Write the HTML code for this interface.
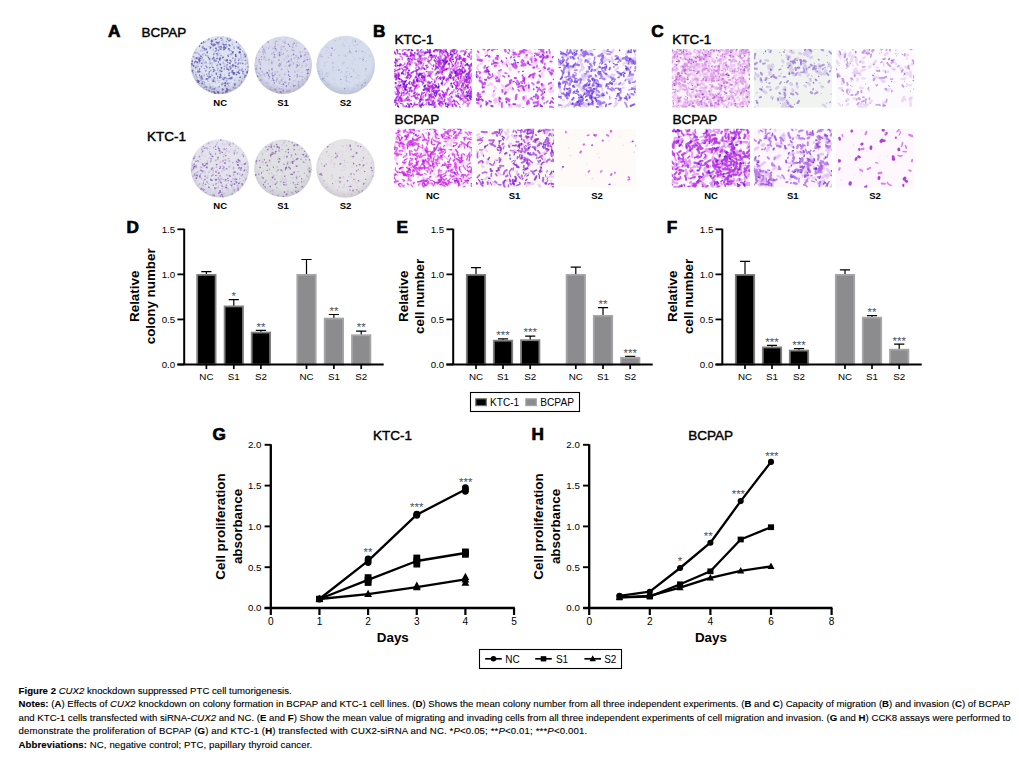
<!DOCTYPE html>
<html><head><meta charset="utf-8"><title>Figure 2</title>
<style>
html,body{margin:0;padding:0;background:#fff;}
body{width:1019px;height:760px;overflow:hidden;position:relative;font-family:"Liberation Sans",sans-serif;color:#000;}
svg{position:absolute;left:0;top:0;}
svg text{font-family:"Liberation Sans",sans-serif;}
.cap{position:absolute;left:18.6px;white-space:nowrap;font-size:9.6px;line-height:12px;color:#000;-webkit-text-stroke:0.12px #000;}
.cap b{font-weight:bold;}
</style></head><body>
<svg width="1019" height="760" viewBox="0 0 1019 760">
<text x="108.0" y="36.8" font-size="17.2" font-weight="bold" text-anchor="start" stroke="#000" stroke-width="0.7">A</text>
<text x="373.0" y="36.7" font-size="17.2" font-weight="bold" text-anchor="start" stroke="#000" stroke-width="0.7">B</text>
<text x="651.2" y="36.7" font-size="17.2" font-weight="bold" text-anchor="start" stroke="#000" stroke-width="0.7">C</text>
<text x="126.6" y="233.4" font-size="17.2" font-weight="bold" text-anchor="start" stroke="#000" stroke-width="0.7">D</text>
<text x="396.6" y="233.4" font-size="17.2" font-weight="bold" text-anchor="start" stroke="#000" stroke-width="0.7">E</text>
<text x="666.8" y="233.4" font-size="17.2" font-weight="bold" text-anchor="start" stroke="#000" stroke-width="0.7">F</text>
<text x="212.6" y="439.5" font-size="17.2" font-weight="bold" text-anchor="start" stroke="#000" stroke-width="0.7">G</text>
<text x="531.6" y="439.5" font-size="17.2" font-weight="bold" text-anchor="start" stroke="#000" stroke-width="0.7">H</text>
<text x="141.4" y="36.6" font-size="13.5" font-weight="normal" text-anchor="start" stroke="#000" stroke-width="0.42">BCPAP</text>
<text x="146.9" y="141.0" font-size="13.5" font-weight="normal" text-anchor="start" stroke="#000" stroke-width="0.42">KTC-1</text>
<text x="394.4" y="43.5" font-size="13.5" font-weight="normal" text-anchor="start" stroke="#000" stroke-width="0.42">KTC-1</text>
<text x="394.6" y="124.4" font-size="13.5" font-weight="normal" text-anchor="start" stroke="#000" stroke-width="0.42">BCPAP</text>
<text x="672.2" y="43.5" font-size="13.5" font-weight="normal" text-anchor="start" stroke="#000" stroke-width="0.42">KTC-1</text>
<text x="672.4" y="124.4" font-size="13.5" font-weight="normal" text-anchor="start" stroke="#000" stroke-width="0.42">BCPAP</text>
<text x="220.2" y="105.8" font-size="9.5" font-weight="bold" text-anchor="middle" >NC</text>
<text x="220.2" y="209.0" font-size="9.5" font-weight="bold" text-anchor="middle" >NC</text>
<text x="283.0" y="105.8" font-size="9.5" font-weight="bold" text-anchor="middle" >S1</text>
<text x="283.0" y="209.0" font-size="9.5" font-weight="bold" text-anchor="middle" >S1</text>
<text x="345.6" y="105.8" font-size="9.5" font-weight="bold" text-anchor="middle" >S2</text>
<text x="345.6" y="209.0" font-size="9.5" font-weight="bold" text-anchor="middle" >S2</text>
<text x="432.8" y="199.1" font-size="9.5" font-weight="bold" text-anchor="middle" >NC</text>
<text x="514.6" y="199.1" font-size="9.5" font-weight="bold" text-anchor="middle" >S1</text>
<text x="597.0" y="199.1" font-size="9.5" font-weight="bold" text-anchor="middle" >S2</text>
<text x="711.0" y="199.1" font-size="9.5" font-weight="bold" text-anchor="middle" >NC</text>
<text x="792.8" y="199.1" font-size="9.5" font-weight="bold" text-anchor="middle" >S1</text>
<text x="875.0" y="199.1" font-size="9.5" font-weight="bold" text-anchor="middle" >S2</text>
<defs><filter id="pb" x="-5%" y="-5%" width="110%" height="110%"><feGaussianBlur stdDeviation="0.55"/></filter></defs>
<defs><radialGradient id="pg0" cx="50%" cy="42%" r="56%"><stop offset="0.78" stop-color="#dde4ef"/><stop offset="1" stop-color="#bcc0d4"/></radialGradient><clipPath id="pc0"><circle cx="219.8" cy="65.1" r="29.2"/></clipPath></defs>
<g filter="url(#pb)"><circle cx="219.8" cy="65.1" r="29.2" fill="url(#pg0)"/><g clip-path="url(#pc0)">
<path d="M199.3 71.4l-0.0 0.0M247.3 72.5l0.2 0.1M214.8 93.3l0.4 0.2M232.9 65.1l-0.0 0.6M233.9 73.7l0.3 -0.5M206.4 79.0l-0.0 0.1M240.1 52.3l-0.6 0.2M196.2 58.1l0.3 0.2M226.8 60.4l0.3 -0.4M198.1 71.6l-0.1 0.1M238.4 47.5l-0.0 0.2M226.0 91.6l0.6 0.0M223.9 49.4l0.4 -0.2M227.3 90.3l0.5 -0.5M212.2 41.2l-0.6 0.1M214.5 60.6l-0.1 0.0M219.7 58.7l0.5 -0.5M223.5 44.5l0.5 0.3M214.3 44.2l0.5 0.5M199.0 59.2l0.2 0.4M234.8 84.7l-0.1 -0.4M218.0 92.1l-0.2 0.1M224.3 47.1l-0.5 0.4" stroke="#4a3aa8" stroke-opacity="0.7" stroke-width="2.0" stroke-linecap="round" fill="none"/>
<path d="M209.3 58.7l0.2 0.4M221.7 68.0l-0.5 -0.4M213.6 69.8l0.3 -0.3M198.9 81.5l-0.5 0.6M223.1 79.3l-0.2 -0.2M227.5 68.9l-0.3 0.1M219.8 77.6l0.5 -0.4M245.4 56.8l-0.1 -0.5M232.3 70.8l0.4 0.1M231.5 77.8l0.6 0.2M232.6 51.7l0.4 0.1M207.2 52.6l0.1 -0.5M201.5 43.1l0.3 -0.1M219.8 60.1l-0.0 -0.3M213.3 45.9l0.5 -0.3M235.5 66.2l-0.4 -0.4M232.8 52.9l-0.2 -0.4M193.5 65.7l0.3 0.5M243.1 71.3l-0.2 0.3M203.9 48.2l0.6 0.2M197.5 62.2l-0.1 0.4M226.6 88.5l0.2 0.3M236.3 74.6l0.3 -0.0M215.5 39.2l0.5 -0.0M216.8 42.4l0.4 0.1M213.1 81.5l0.5 -0.4M236.5 42.3l0.1 -0.4M200.0 60.5l-0.6 0.6M201.7 63.3l0.1 -0.0M217.1 58.2l-0.1 0.5M224.5 77.9l-0.2 -0.2M213.0 58.7l-0.5 0.0M219.8 77.9l-0.1 -0.1M206.3 49.1l0.1 0.4M222.5 89.7l0.5 -0.2M229.2 75.6l-0.3 -0.5M229.0 48.9l-0.4 -0.1M229.4 63.2l0.3 0.0M200.3 58.5l-0.4 -0.4M239.9 49.1l0.4 0.2M201.5 77.6l0.6 0.4M218.4 92.5l0.3 0.4M197.3 80.3l0.2 0.3M221.5 46.9l-0.5 -0.2M222.9 92.8l-0.2 0.2M191.6 63.7l0.6 0.2M222.7 57.7l0.3 -0.5M230.7 68.1l-0.1 0.5M192.3 61.0l-0.0 0.6M221.7 71.4l-0.5 -0.1M220.5 74.8l0.3 0.1M210.3 76.7l0.1 0.1M240.0 77.3l0.2 -0.2M228.7 69.6l0.1 0.3M227.1 69.0l-0.0 0.2M233.6 72.9l0.2 -0.3M230.5 78.5l-0.2 -0.5M226.0 44.9l0.1 -0.4M239.3 73.4l-0.5 -0.5M210.4 47.3l0.3 0.2M235.6 55.7l0.2 0.4M228.8 40.5l0.5 0.2M195.9 61.5l-0.1 -0.1M216.3 74.2l0.3 -0.4M237.8 72.5l0.5 -0.6M220.6 49.1l0.4 -0.0M225.5 48.2l0.0 -0.3M202.1 83.6l0.1 -0.4M219.9 64.0l0.4 0.4M232.8 72.5l-0.5 -0.0M192.3 70.6l0.4 -0.2M225.3 85.5l-0.4 0.4M216.1 48.3l-0.5 -0.1" stroke="#4a3aa8" stroke-opacity="0.7" stroke-width="1.6" stroke-linecap="round" fill="none"/>
<path d="M232.9 73.9l0.4 0.2M220.0 74.2l0.4 -0.4M239.0 62.9l-0.6 0.4M220.7 75.8l0.2 -0.1M245.2 69.7l0.4 -0.4M214.9 53.6l-0.5 -0.6M243.0 51.5l-0.5 -0.3M212.2 89.2l-0.3 0.2M217.6 38.0l0.2 -0.4M213.8 79.9l-0.2 -0.0" stroke="#4a3aa8" stroke-opacity="0.7" stroke-width="0.8" stroke-linecap="round" fill="none"/>
<path d="M220.1 70.1l-0.1 0.4M197.0 62.3l0.2 -0.1M214.3 77.7l-0.5 0.3M198.4 80.6l0.5 0.4M201.9 58.1l0.3 -0.4M213.7 57.4l-0.3 -0.3M245.1 60.4l0.5 -0.3M228.0 56.0l0.5 0.4M247.1 71.9l0.2 -0.3M229.7 45.3l-0.4 0.3M214.6 92.1l-0.6 -0.3M213.1 67.5l-0.2 0.1M211.9 44.6l-0.6 -0.6M195.4 67.8l0.6 -0.5M227.2 38.7l0.2 0.5M217.7 43.3l0.4 -0.5M239.1 52.1l0.5 -0.2M213.4 54.1l0.4 0.5M217.8 76.7l-0.3 -0.3M200.3 76.8l-0.2 0.4M230.3 66.4l-0.6 0.4M226.0 83.9l-0.6 -0.0M217.1 53.3l-0.2 0.2M206.8 87.0l-0.4 0.0M227.8 62.5l0.0 -0.3M233.0 58.2l-0.4 -0.1M230.7 40.2l-0.2 -0.4M199.4 46.5l0.3 -0.6M201.9 75.9l-0.4 0.2M208.9 90.4l0.6 0.5M218.3 61.6l0.2 0.5M245.7 75.7l0.3 -0.2M199.6 69.3l0.1 -0.6M211.8 40.0l-0.1 0.3M209.3 72.2l0.0 -0.6M216.9 65.7l0.2 0.1M200.8 56.2l0.6 0.2M218.8 50.6l-0.5 -0.4M213.4 71.4l0.5 0.1M230.2 60.2l-0.4 -0.0M205.6 55.1l0.2 0.1M214.7 88.9l-0.6 -0.3M235.4 54.6l0.6 -0.3M228.9 44.7l0.1 -0.1M210.2 48.3l0.1 -0.1M203.1 46.6l-0.3 0.6M199.6 75.4l0.0 -0.5M206.7 66.9l0.3 0.4M224.1 83.3l0.4 -0.2M203.6 41.6l0.1 0.3M236.3 56.1l-0.5 0.5M196.0 74.9l-0.2 -0.1M244.7 54.3l-0.2 -0.2M208.0 78.8l-0.4 0.1M221.3 38.2l-0.6 0.0M219.2 42.0l-0.3 0.3M194.9 61.7l-0.2 0.6M225.1 83.0l0.6 -0.5M229.4 72.9l-0.3 0.3M208.6 57.5l-0.3 -0.4M239.0 59.8l-0.5 0.5M243.0 63.7l-0.6 -0.0M228.8 78.7l0.4 0.0M201.2 43.4l0.0 -0.4" stroke="#4a3aa8" stroke-opacity="0.7" stroke-width="1.2" stroke-linecap="round" fill="none"/>
<path d="M192.4 71.8l0.2 -0.6M248.3 67.0l-0.4 0.1M237.9 66.9l0.6 0.3M240.3 63.4l0.4 -0.4M210.0 67.4l-0.4 0.5M216.3 60.8l-0.4 0.6M242.8 73.3l0.3 0.1M244.7 76.5l0.2 0.4M227.2 60.0l-0.5 0.0M244.9 75.5l-0.1 -0.2M192.1 65.4l-0.0 -0.4M212.1 91.6l-0.4 0.4M217.4 54.8l0.5 -0.1M230.4 90.1l-0.6 -0.0M219.9 47.3l-0.0 -0.4M199.5 63.0l0.2 0.0M231.2 61.5l-0.4 0.1M221.6 84.1l0.3 0.3M241.4 70.0l0.1 0.4M206.1 70.4l-0.5 0.5M200.6 56.2l-0.3 -0.4M219.5 76.6l0.4 0.3M239.2 70.4l0.6 -0.4M247.8 71.2l0.3 -0.3M208.9 77.7l0.1 -0.6M234.3 48.5l-0.0 -0.1M229.6 50.3l-0.3 -0.2M198.2 82.3l-0.3 -0.2M231.9 54.1l0.0 -0.5M215.9 51.0l0.2 -0.4M224.1 79.7l-0.1 -0.1M235.3 62.7l0.5 -0.3M211.1 43.4l0.4 -0.3M213.4 44.7l-0.6 -0.1M195.1 52.3l0.2 0.1M213.6 81.2l-0.4 -0.4M204.5 50.0l0.6 -0.2M208.9 39.1l-0.4 0.1M233.7 87.9l-0.5 -0.3M230.1 63.2l-0.1 0.2M197.7 81.9l-0.5 0.3M208.6 76.5l0.4 -0.3M202.3 79.3l0.6 -0.1M212.5 45.2l-0.4 -0.4M226.7 67.4l-0.2 -0.5M228.0 83.3l-0.4 0.4M201.4 66.9l-0.1 -0.5M215.8 51.3l-0.6 0.1M218.9 43.9l-0.4 -0.5M231.7 54.0l-0.5 0.6M226.4 78.6l0.5 -0.2M226.8 80.8l-0.4 0.2M210.3 87.8l-0.1 0.4M203.4 42.7l0.4 0.0M227.1 64.8l0.3 -0.3M205.7 65.9l0.4 0.3M193.8 56.8l-0.4 -0.2M226.1 60.6l-0.4 0.2M211.9 75.0l0.2 0.3M235.6 59.0l-0.3 0.1M234.7 60.7l0.2 -0.3M210.9 70.6l-0.3 -0.1M205.7 86.9l0.1 0.1M237.8 64.3l0.2 0.2M210.4 63.1l-0.2 0.0" stroke="#6a5cc0" stroke-opacity="0.5" stroke-width="1.6" stroke-linecap="round" fill="none"/>
<path d="M202.5 82.0l0.1 -0.1M215.4 82.1l-0.2 -0.2M201.5 79.8l-0.4 0.3M206.5 89.6l0.3 -0.2M216.6 53.3l0.4 0.1M244.5 77.2l0.0 0.2M222.6 39.2l-0.2 -0.1M214.3 57.5l0.0 0.3M203.5 60.0l-0.4 0.3M198.6 54.0l0.5 -0.2M199.1 59.3l-0.3 0.5M245.7 63.8l-0.5 0.4M213.3 91.5l0.1 0.4M247.5 62.8l-0.2 0.2M218.4 47.4l0.4 -0.6M229.3 83.5l0.1 -0.2M203.9 53.5l0.1 0.2M221.1 40.2l0.6 0.4M231.1 50.6l0.1 0.5M199.3 61.7l0.5 -0.2M220.0 49.3l-0.5 -0.5M200.6 71.8l-0.5 0.2M206.0 62.8l-0.1 -0.3M220.5 64.9l-0.2 -0.2M239.0 80.2l0.5 0.4M231.7 71.6l0.3 -0.4M225.6 77.7l0.3 -0.2M205.6 42.1l-0.3 -0.2M240.8 54.7l0.2 -0.5M238.7 63.1l0.0 -0.5M207.4 56.1l0.4 -0.5M214.3 89.4l-0.3 0.1M198.2 57.2l0.2 0.3M217.6 70.6l0.1 0.0M236.9 72.0l-0.3 0.6M231.1 79.1l-0.1 -0.5M219.4 86.4l-0.0 0.5M204.2 68.3l0.6 0.2M228.2 55.2l-0.5 0.2M235.6 87.9l0.3 0.3M223.2 62.8l-0.1 -0.5M235.5 68.3l0.1 -0.4M228.9 54.9l-0.2 -0.3M224.1 66.2l0.1 0.4M214.0 58.7l-0.1 -0.5M207.6 76.1l-0.3 -0.4M233.8 74.4l-0.4 0.1M215.1 70.5l-0.5 -0.0M202.9 55.0l-0.3 -0.6M204.3 87.3l-0.3 0.2M227.5 83.2l0.5 -0.2M204.1 74.9l0.4 0.5M223.0 88.6l-0.6 0.1M208.8 73.8l0.2 0.1M204.4 87.3l0.3 0.2M198.3 66.4l-0.3 0.3M206.1 62.1l-0.2 -0.4M217.1 55.8l0.3 -0.0M194.2 63.9l0.3 -0.3M216.3 49.1l0.3 0.4M230.0 46.1l0.2 0.1M224.1 69.1l0.3 0.6M241.5 82.4l-0.0 -0.5M218.0 68.7l-0.4 0.2M217.7 78.6l-0.2 -0.3M197.7 57.8l-0.3 0.5M238.7 43.6l0.4 0.3M204.0 84.4l0.0 -0.6M226.3 41.4l0.4 0.4M222.4 82.8l0.2 0.4M204.7 82.3l-0.3 0.5M216.0 73.0l0.3 -0.3M230.4 78.4l-0.6 0.0M206.4 74.4l0.5 -0.4M233.9 47.2l0.1 -0.5M232.3 44.8l0.2 -0.1M209.5 74.2l0.1 0.0M242.1 69.7l0.1 0.1M230.0 60.4l0.6 0.3M239.8 85.5l-0.3 0.4M226.6 47.0l0.4 -0.4M224.2 68.3l0.4 0.4M228.9 73.3l0.4 0.1M236.4 66.7l0.2 -0.3M209.6 77.4l-0.4 0.2M196.7 76.9l-0.1 0.0M214.0 91.3l0.4 0.2M193.2 72.8l0.3 0.1M212.9 67.4l-0.3 -0.1M215.8 42.0l0.5 0.5M242.4 68.4l-0.2 -0.0M210.3 86.6l0.6 0.6M227.2 65.0l-0.1 0.2M202.1 47.8l0.4 0.3M221.4 55.3l-0.6 0.4M212.9 89.4l-0.1 -0.5" stroke="#6a5cc0" stroke-opacity="0.5" stroke-width="1.2" stroke-linecap="round" fill="none"/>
<path d="M223.8 57.4l-0.5 0.2M231.3 72.4l-0.5 -0.1M207.8 46.2l-0.2 -0.2M230.0 45.1l0.3 0.5M241.2 57.4l-0.5 -0.3M228.2 84.6l-0.6 -0.4M225.9 83.8l-0.1 0.1M197.1 77.3l0.3 0.1M214.5 62.0l0.5 -0.2M207.8 80.8l0.5 0.6M226.6 86.9l0.5 -0.5M221.6 85.1l0.1 -0.0M224.6 75.2l-0.0 -0.1M217.8 87.0l0.4 -0.4M196.0 72.0l-0.3 0.5M200.8 78.3l-0.2 0.2M228.4 84.6l-0.4 -0.3M210.0 76.5l-0.4 -0.3M208.8 73.8l-0.4 0.1M203.6 76.5l0.2 -0.3M199.6 83.6l-0.4 0.0M209.7 64.2l-0.5 -0.5M232.3 42.7l-0.1 0.2M221.3 77.3l0.1 0.5M231.8 76.4l0.1 -0.0M221.9 69.3l-0.5 -0.5M226.8 92.3l0.0 0.4M223.0 36.8l0.5 -0.1M194.3 77.1l-0.1 0.2M203.2 81.1l0.1 0.5M215.5 87.7l0.1 0.3M237.3 48.0l0.2 -0.1M200.7 50.7l-0.4 0.2M209.7 67.3l0.5 0.1M241.8 81.0l-0.2 -0.2M225.5 93.1l-0.2 -0.4M200.3 80.3l-0.4 0.2M245.3 55.8l-0.2 0.0M235.1 80.4l-0.5 0.0" stroke="#6a5cc0" stroke-opacity="0.5" stroke-width="0.8" stroke-linecap="round" fill="none"/>
<path d="M223.7 84.0l-0.0 0.4M231.0 65.9l0.3 0.3M212.7 86.4l-0.2 -0.0M212.2 79.4l0.3 0.2M217.9 64.1l-0.1 0.2M219.2 53.4l-0.4 -0.2M228.5 79.6l0.0 -0.1M236.1 63.1l-0.3 -0.3M212.9 44.6l-0.2 -0.4M243.7 57.5l-0.5 0.3M222.3 77.7l0.1 -0.5M201.4 86.2l-0.3 0.4M217.7 44.2l0.5 0.3M241.2 82.9l-0.5 0.5M224.7 60.0l-0.5 -0.6M194.1 52.8l0.4 0.3M211.9 64.0l-0.4 0.0M224.9 65.9l0.2 0.0M197.9 53.1l-0.6 -0.5M217.8 68.0l-0.3 0.1M203.4 62.4l-0.1 -0.3M214.6 80.7l0.2 0.3M212.0 63.1l-0.3 -0.3M218.7 45.3l-0.6 -0.0M208.0 40.8l0.5 -0.1M234.7 79.6l0.1 0.3M233.2 66.8l-0.0 0.2M213.3 49.5l-0.0 0.5M219.0 92.4l-0.1 0.1M213.6 40.0l-0.4 0.4M205.7 86.4l0.5 0.5M215.3 59.4l-0.5 0.6M236.8 46.5l0.4 0.1M231.2 66.8l-0.3 0.2M223.6 41.5l-0.2 -0.3M228.7 86.4l0.5 -0.2" stroke="#9a94d0" stroke-opacity="0.35" stroke-width="2.0" stroke-linecap="round" fill="none"/>
<path d="M240.8 81.2l0.6 0.0M231.4 82.5l-0.5 -0.2M232.7 72.0l0.5 -0.2M202.3 73.3l0.4 -0.5M195.0 62.6l-0.5 -0.3M214.5 88.2l0.6 0.4M243.3 73.9l0.1 0.1M240.4 55.0l0.5 0.3M247.1 62.3l0.3 -0.1M209.3 87.4l-0.5 0.4M209.1 46.7l-0.5 -0.2M194.2 59.2l0.4 -0.0M237.1 78.0l0.6 -0.2M224.8 63.8l0.4 0.5M228.7 57.0l-0.3 -0.0M237.6 64.0l0.3 0.3M226.5 80.6l-0.2 -0.4M192.3 60.4l-0.3 -0.5M246.4 55.3l0.3 -0.1M207.8 67.8l-0.2 -0.6M202.2 63.5l-0.0 -0.3M242.4 63.0l0.3 -0.5" stroke="#9a94d0" stroke-opacity="0.35" stroke-width="1.2" stroke-linecap="round" fill="none"/>
<path d="M201.1 77.6l0.6 -0.1M242.3 60.2l-0.5 -0.1M196.6 66.7l0.5 0.1M240.4 59.0l-0.3 -0.1M221.8 43.3l0.5 0.2M234.0 87.6l0.1 0.1M219.4 71.8l-0.2 0.3M246.1 54.5l0.5 0.4M202.7 50.5l-0.5 0.0M227.6 37.8l-0.1 -0.2M205.5 63.0l-0.4 -0.3M214.4 70.1l-0.4 -0.4M240.1 45.6l-0.2 0.5M235.1 84.0l-0.4 -0.4M210.7 88.4l0.0 -0.4M198.2 70.7l-0.0 -0.4M212.8 80.7l0.1 -0.1M244.2 54.7l-0.4 0.0M209.9 59.4l-0.3 -0.5M197.0 67.7l-0.3 -0.1M229.2 38.3l0.2 0.4M215.1 78.5l-0.6 0.0" stroke="#9a94d0" stroke-opacity="0.35" stroke-width="2.4" stroke-linecap="round" fill="none"/>
<path d="M192.5 64.9l-0.2 0.3M218.9 82.5l-0.0 -0.2M198.9 61.4l-0.3 -0.5M208.6 76.7l-0.3 0.3M217.1 65.3l0.6 -0.6M196.4 49.5l0.1 -0.2M216.6 90.5l0.4 -0.1M220.0 47.5l-0.1 -0.5M238.3 68.8l0.2 0.5M196.0 66.1l0.3 -0.5M196.3 53.2l0.1 -0.0M217.1 43.5l-0.5 0.4M202.3 82.0l0.1 0.1M246.9 60.9l-0.0 -0.3M220.0 55.9l0.4 -0.6M217.7 50.5l-0.6 0.0M219.5 80.6l-0.4 -0.0M217.6 80.3l0.0 0.4M221.8 84.3l0.3 0.5M198.2 64.3l-0.3 0.5M207.5 81.2l0.2 -0.1M211.8 65.8l0.1 0.6M210.0 61.1l-0.2 0.2M223.5 63.5l0.1 0.2M223.3 48.9l0.2 -0.3M195.3 79.7l-0.2 0.5M206.4 86.8l-0.3 0.1M212.9 72.3l0.5 -0.5M209.3 84.0l0.4 0.6M230.8 68.8l0.3 -0.3M218.3 87.6l-0.0 0.1M200.9 60.2l0.5 -0.3M235.1 63.6l0.3 -0.3M199.4 54.8l-0.5 -0.0M241.9 78.1l0.4 0.4M238.7 58.4l-0.3 0.4M203.0 64.8l-0.3 0.4M230.8 53.5l0.2 0.3M241.3 57.1l-0.1 -0.2M244.4 53.0l0.5 0.1" stroke="#9a94d0" stroke-opacity="0.35" stroke-width="1.6" stroke-linecap="round" fill="none"/>
</g></g>
<defs><radialGradient id="pg1" cx="50%" cy="42%" r="56%"><stop offset="0.78" stop-color="#d9dbeb"/><stop offset="1" stop-color="#bebed3"/></radialGradient><clipPath id="pc1"><circle cx="283.2" cy="65.1" r="28.8"/></clipPath></defs>
<g filter="url(#pb)"><circle cx="283.2" cy="65.1" r="28.8" fill="url(#pg1)"/><g clip-path="url(#pc1)">
<path d="M260.5 68.8l-0.4 -0.6M268.3 75.8l-0.0 -0.1M272.6 78.5l0.2 -0.5M284.8 82.1l0.4 0.0M308.5 69.6l0.0 -0.3M279.0 60.2l-0.3 -0.3M255.8 69.2l0.5 -0.4M288.9 65.4l0.6 0.6M278.8 65.0l0.3 0.4M274.5 54.7l-0.0 0.2M279.5 52.5l-0.3 0.2M257.5 76.2l0.1 0.5M307.2 59.3l0.1 0.5M288.5 44.2l-0.2 0.3M279.8 63.7l0.5 0.4M304.8 48.9l0.3 -0.1M296.9 74.8l0.5 0.2M272.2 73.8l-0.2 0.2M288.6 71.7l0.2 0.3M268.5 42.1l-0.6 -0.0M272.0 69.3l-0.2 -0.3M279.5 54.3l0.1 0.4M259.2 59.3l0.2 0.2M303.9 61.5l-0.2 0.3M274.4 83.1l-0.2 -0.4M286.4 85.7l-0.5 0.4M277.1 91.8l-0.1 0.4M263.7 49.3l0.1 -0.3M268.7 74.7l-0.1 0.4M289.4 76.3l0.6 0.0M288.6 75.2l-0.2 -0.4M275.0 46.1l0.0 0.2M289.5 46.0l-0.0 0.2M269.3 76.9l0.3 -0.3M275.6 48.3l0.1 0.3" stroke="#5c48b4" stroke-opacity="0.65" stroke-width="1.2" stroke-linecap="round" fill="none"/>
<path d="M272.7 75.6l0.2 0.1M288.9 61.3l-0.5 0.2M273.8 80.5l-0.6 -0.5M306.9 69.7l0.6 0.2M267.4 72.9l-0.5 0.1M297.8 65.7l-0.2 -0.3M281.0 92.5l-0.4 -0.3M293.6 54.4l0.0 0.2M279.7 55.5l-0.1 -0.3M283.2 84.3l0.4 -0.3M307.6 73.5l0.4 -0.2M289.6 79.6l0.1 -0.5M300.9 56.1l0.2 0.5" stroke="#5c48b4" stroke-opacity="0.65" stroke-width="1.6" stroke-linecap="round" fill="none"/>
<path d="M261.7 56.9l-0.1 -0.4M300.6 54.8l0.6 0.5M297.2 77.1l-0.2 0.1M295.4 85.3l-0.4 0.4M293.5 86.3l-0.3 -0.2M298.4 57.3l0.3 0.5M261.6 59.3l0.0 0.2M270.3 89.4l-0.2 -0.3M288.8 82.8l0.5 0.0M296.0 55.5l0.2 0.4M281.7 49.5l0.4 0.4M289.6 90.9l-0.2 -0.6" stroke="#5c48b4" stroke-opacity="0.65" stroke-width="0.8" stroke-linecap="round" fill="none"/>
<path d="M288.6 56.5l-0.5 -0.5M285.6 66.0l-0.5 0.2M281.7 62.3l-0.0 0.3M302.9 63.8l0.1 0.0M260.5 62.9l0.2 -0.5M277.9 41.2l0.0 0.3M309.5 59.6l0.4 -0.1M294.8 75.6l-0.5 0.4M273.3 76.6l-0.5 -0.5M283.8 46.5l-0.6 0.1M303.2 84.3l-0.4 -0.1M296.7 56.7l0.6 0.5M272.7 48.5l-0.3 -0.5M272.7 68.7l-0.1 -0.4M267.0 72.2l0.6 0.5M269.8 46.6l0.0 -0.4M273.4 84.5l-0.3 0.3M256.6 67.7l-0.5 0.5M256.2 65.9l-0.3 0.1M308.1 71.7l-0.4 -0.1M291.1 55.9l0.5 -0.6M293.9 62.4l-0.3 0.5M281.2 89.1l0.2 -0.4M281.4 65.4l-0.6 -0.3M288.0 70.6l0.1 0.6M305.1 60.6l-0.5 0.3M271.5 80.8l-0.4 -0.0M272.2 70.5l-0.1 -0.5M301.2 72.5l0.3 0.3M275.6 38.6l-0.1 -0.1M306.8 76.6l0.6 0.2M259.4 61.2l-0.4 -0.4M308.2 52.3l0.5 -0.5M272.8 62.3l0.5 -0.5M261.3 56.8l-0.3 0.5M281.2 84.7l0.5 -0.2M279.4 75.3l0.6 0.5M291.9 38.5l-0.1 -0.2M285.1 41.9l-0.2 -0.4M298.1 83.3l0.3 0.3M285.7 43.6l0.4 -0.5M290.4 86.2l0.1 0.3M260.8 64.4l-0.1 0.3M297.1 61.8l0.4 -0.1M263.1 75.5l-0.3 -0.3" stroke="#8474c8" stroke-opacity="0.45" stroke-width="0.8" stroke-linecap="round" fill="none"/>
<path d="M262.4 46.6l0.3 0.5M296.5 67.5l-0.0 -0.4M302.0 76.6l0.6 0.3M283.2 90.6l0.2 -0.4M269.3 70.8l-0.3 -0.4M281.7 69.3l0.3 -0.1M286.8 91.1l0.5 0.0M275.0 74.2l0.3 0.1M274.2 56.9l0.4 0.2M286.8 62.5l0.0 0.1M271.5 62.7l0.4 0.6M275.8 41.7l0.3 -0.3M293.0 43.9l0.3 -0.1M299.5 76.0l0.5 0.0M274.3 47.9l0.2 0.6M271.7 53.7l0.2 0.0M279.4 92.4l0.2 -0.1M276.1 89.3l-0.6 -0.2M263.0 51.4l-0.1 0.6M260.3 80.4l0.6 -0.5M279.7 88.5l-0.3 0.3M304.5 55.5l0.5 -0.1M304.8 54.6l0.4 0.3M284.6 74.3l0.2 0.3M290.1 64.4l0.6 0.3M276.4 49.9l-0.0 0.2M307.1 79.5l0.0 0.2M274.2 57.2l-0.2 0.1M293.4 50.5l0.4 -0.1M294.0 85.8l0.1 0.5M281.8 80.3l-0.3 -0.4M299.1 86.4l-0.4 0.3M274.5 89.2l-0.1 0.3M298.7 81.8l-0.2 -0.4M264.4 74.0l-0.4 -0.0M268.7 59.5l0.4 0.3" stroke="#8474c8" stroke-opacity="0.45" stroke-width="1.6" stroke-linecap="round" fill="none"/>
<path d="M284.0 46.7l-0.2 -0.3M298.8 58.2l0.5 0.1M294.5 43.2l-0.1 0.4M274.4 75.5l0.1 -0.4M256.5 58.1l-0.3 -0.1M302.6 79.7l-0.4 0.1M265.5 52.9l-0.2 -0.2M299.5 64.9l-0.0 -0.4M272.8 72.6l-0.2 -0.2M297.5 59.2l0.2 -0.1M268.6 47.9l-0.0 0.6M256.7 72.2l-0.0 -0.2M260.2 64.9l0.3 -0.2M277.5 78.3l-0.5 -0.5M268.8 78.7l0.5 -0.4M286.9 51.1l0.5 -0.5M279.4 66.7l-0.2 -0.1M307.2 77.8l0.1 0.4M299.9 52.4l0.4 -0.2M296.4 64.3l0.4 0.3M258.5 61.3l0.4 0.2M293.7 63.5l-0.4 0.6M286.2 82.8l-0.3 0.1M277.8 71.9l-0.1 -0.2M264.2 56.7l0.6 0.5M275.2 90.3l0.5 -0.5M271.9 90.0l0.2 -0.4M296.4 45.9l-0.4 -0.0M264.9 50.2l-0.4 0.6M283.6 91.3l-0.5 -0.4M282.2 54.5l-0.4 -0.1M306.0 52.8l-0.5 -0.4M275.6 43.5l-0.5 0.5M293.6 80.9l0.3 0.4M277.3 79.4l-0.5 0.4M276.1 81.4l0.3 -0.4M302.4 65.8l-0.2 -0.2M297.5 76.7l-0.5 -0.4M298.8 84.9l-0.5 -0.3M263.2 54.1l0.4 0.1M266.0 59.8l0.1 0.5M285.5 49.0l-0.3 -0.0M274.7 57.1l0.5 -0.1M286.8 86.7l-0.1 -0.4M307.0 57.2l0.3 0.1M261.8 71.7l0.2 0.2M305.8 65.9l0.4 0.0M291.3 59.3l0.1 -0.6M259.3 73.4l-0.4 -0.5M291.9 62.2l0.2 -0.3M288.4 84.2l0.3 0.4M285.1 42.8l-0.5 0.1M260.7 75.1l-0.5 -0.1M292.9 47.7l-0.5 -0.3M297.1 65.2l0.1 0.4M262.5 72.4l0.2 -0.5M283.5 53.3l0.1 0.4M292.0 49.6l0.3 0.6M258.9 51.7l-0.0 0.2M273.4 52.3l0.5 0.3M266.1 82.6l0.4 0.3M264.8 76.1l-0.0 -0.2M300.7 51.5l0.0 -0.0M293.6 85.3l-0.2 0.0M305.0 60.7l-0.5 0.1M288.4 91.4l-0.3 -0.1M294.7 72.1l0.5 -0.1M279.6 83.6l-0.3 -0.5M264.4 51.9l-0.4 0.4" stroke="#8474c8" stroke-opacity="0.45" stroke-width="1.2" stroke-linecap="round" fill="none"/>
<path d="M261.8 79.3l0.3 0.5M307.1 53.9l0.5 0.4M264.1 74.7l-0.2 0.0M293.2 45.8l-0.6 0.1M271.6 87.0l-0.4 0.6M301.2 67.6l0.1 0.2M290.4 60.1l-0.3 0.1M261.3 70.1l0.0 -0.1M260.6 75.8l-0.6 0.1M274.9 50.3l0.3 0.5M277.2 87.3l-0.2 -0.2M299.0 63.0l-0.2 -0.5M256.6 69.1l-0.4 -0.6M298.0 70.3l-0.3 0.3M260.1 63.0l-0.4 -0.4M295.7 80.2l-0.4 0.1M302.9 81.2l0.1 0.1M267.9 86.0l0.4 0.3M279.4 75.2l-0.1 0.3M284.0 42.4l0.5 0.0M290.6 66.2l-0.2 0.3M280.3 81.6l-0.5 0.2M277.7 45.5l0.5 -0.2M283.5 41.0l-0.5 0.2M293.9 42.5l0.3 -0.4M279.6 52.7l0.4 -0.3M288.6 55.8l-0.6 -0.3M294.5 70.6l0.4 0.4M279.7 39.0l-0.5 0.4M277.4 80.4l-0.5 -0.4" stroke="#b0a8d8" stroke-opacity="0.3" stroke-width="2.0" stroke-linecap="round" fill="none"/>
<path d="M301.1 82.1l-0.1 -0.2M259.9 62.9l0.2 -0.5M281.1 47.7l0.0 0.4M272.3 61.1l-0.1 -0.0M297.1 43.3l0.3 0.0M264.5 58.2l-0.5 -0.2M291.2 59.1l-0.1 0.4M286.5 57.0l0.1 0.3M284.5 59.8l-0.5 -0.0M282.8 78.7l-0.3 -0.5M291.9 83.4l-0.4 -0.1M282.4 89.3l-0.3 -0.1M280.4 53.2l0.6 -0.2M276.0 72.3l-0.3 -0.0M279.8 82.1l-0.3 0.1M268.8 73.8l-0.2 -0.4M278.5 55.0l0.5 0.6M295.2 57.8l-0.1 0.2M268.2 82.9l0.2 -0.2" stroke="#b0a8d8" stroke-opacity="0.3" stroke-width="2.4" stroke-linecap="round" fill="none"/>
<path d="M309.5 70.4l-0.6 -0.5M279.4 66.2l0.5 0.0M265.3 46.9l0.5 0.6M304.8 49.0l-0.2 0.5M302.4 72.5l0.1 -0.4M305.2 78.7l-0.2 -0.3M282.1 82.2l0.4 -0.5M294.4 57.9l-0.5 0.3M269.0 63.8l-0.0 0.3M307.9 53.7l0.0 0.4M256.9 65.7l-0.3 -0.1M306.8 64.8l0.2 -0.5M270.3 87.2l0.1 0.4M304.5 58.6l-0.4 0.4M297.9 82.2l-0.2 0.4M282.2 46.2l0.0 0.2M308.8 59.3l-0.2 0.5M287.6 69.6l-0.1 -0.4M277.6 53.0l0.3 0.2M279.9 74.0l0.1 0.2M283.0 54.1l0.4 0.0M281.9 45.9l-0.6 0.4M303.0 51.6l0.2 0.2M298.1 71.8l0.3 0.1M273.7 53.6l-0.5 -0.3M306.3 64.1l0.2 0.5M274.3 56.9l0.3 -0.1M280.6 50.6l-0.1 -0.2M286.4 37.2l0.5 -0.1M271.2 60.8l-0.1 0.1M282.4 86.1l-0.3 0.2M280.9 70.0l-0.1 0.1" stroke="#b0a8d8" stroke-opacity="0.3" stroke-width="1.6" stroke-linecap="round" fill="none"/>
<path d="M273.2 42.4l0.6 -0.6M273.9 86.2l-0.2 0.2M296.1 43.4l-0.1 0.6M293.8 84.4l-0.5 -0.1M276.1 80.0l-0.4 0.1M275.2 71.4l-0.2 0.1M284.7 42.1l-0.4 0.6M263.8 59.3l0.3 0.4M277.7 78.8l-0.2 0.0M280.7 66.0l-0.3 0.4M285.2 39.9l0.4 -0.3M271.1 72.9l0.6 0.3M287.3 66.3l-0.2 0.5M265.8 55.9l0.1 -0.4M290.9 46.1l-0.5 -0.5M280.8 63.8l0.1 -0.6M307.4 76.2l0.5 -0.6M295.3 40.8l-0.5 -0.2M284.5 72.1l0.4 0.4" stroke="#b0a8d8" stroke-opacity="0.3" stroke-width="1.2" stroke-linecap="round" fill="none"/>
</g></g>
<defs><radialGradient id="pg2" cx="50%" cy="42%" r="56%"><stop offset="0.78" stop-color="#d5dcec"/><stop offset="1" stop-color="#bfc5da"/></radialGradient><clipPath id="pc2"><circle cx="345.7" cy="65.1" r="29.3"/></clipPath></defs>
<g filter="url(#pb)"><circle cx="345.7" cy="65.1" r="29.3" fill="url(#pg2)"/><g clip-path="url(#pc2)">
<path d="M344.4 88.9l0.4 -0.4M355.2 41.0l0.3 0.5M349.7 51.1l-0.0 0.3M365.0 82.6l0.6 0.2M351.5 76.7l-0.3 -0.0M362.9 59.9l0.5 -0.5M362.0 85.2l0.2 -0.4M322.7 79.0l0.4 -0.4M356.4 51.1l-0.4 0.6M331.2 55.7l-0.2 -0.2M332.4 48.3l-0.6 -0.1M341.0 79.3l-0.5 -0.0M365.7 69.1l0.3 -0.3M338.9 70.2l0.1 -0.6" stroke="#6a5cc0" stroke-opacity="0.55" stroke-width="1.2" stroke-linecap="round" fill="none"/>
<path d="M347.0 76.1l0.3 -0.4M332.6 62.5l-0.1 0.4M343.0 62.9l-0.4 0.4M328.3 57.7l-0.1 -0.2M322.2 56.8l0.2 -0.1M331.4 54.0l-0.0 -0.3M346.8 77.7l-0.5 0.2M326.2 50.3l0.1 0.1M357.9 85.6l-0.3 -0.5M340.9 72.4l0.6 -0.5M328.1 84.6l-0.2 -0.0M366.0 61.2l0.2 -0.2M335.0 40.8l0.1 -0.2M346.3 80.5l-0.2 -0.6" stroke="#6a5cc0" stroke-opacity="0.55" stroke-width="0.8" stroke-linecap="round" fill="none"/>
<path d="M347.6 52.7l0.1 -0.2M341.0 83.5l0.4 -0.5M351.7 53.1l-0.1 -0.6M357.7 77.6l0.5 0.6M366.0 70.8l0.4 -0.2M362.3 51.8l-0.6 -0.3M353.2 56.9l-0.2 -0.2M318.3 61.7l0.1 0.1M360.3 42.0l-0.4 0.0M353.7 45.7l0.6 -0.2M351.3 68.5l0.3 -0.5M349.9 46.2l-0.6 -0.3M332.0 89.4l0.4 0.4M362.1 85.8l-0.5 0.0M358.8 58.5l0.1 -0.3M342.9 64.6l0.3 -0.2M326.6 82.8l0.1 -0.1M366.0 52.7l-0.5 -0.0M355.7 78.1l0.6 -0.4M360.0 58.8l0.6 -0.5M353.5 71.8l-0.1 -0.3M353.5 39.7l-0.5 0.1M329.0 73.4l-0.3 0.1M319.8 56.0l0.3 -0.5M350.5 52.5l-0.5 -0.1M347.4 81.6l-0.6 0.5M336.2 70.2l0.0 -0.3M361.7 87.4l-0.2 0.3M349.8 48.8l-0.3 0.1M326.0 74.2l-0.1 0.4M343.7 43.6l-0.6 0.2M364.7 85.9l0.6 0.1M352.5 43.1l-0.5 -0.1M370.4 54.5l-0.6 0.4M353.0 88.6l0.6 -0.4M352.3 41.6l0.1 -0.2" stroke="#8e88cc" stroke-opacity="0.35" stroke-width="0.8" stroke-linecap="round" fill="none"/>
<path d="M350.0 52.5l0.2 0.5M340.0 38.9l0.4 -0.1M326.8 46.8l-0.3 0.3M358.1 75.3l-0.0 -0.3M320.9 79.5l-0.0 -0.3M319.2 71.7l-0.4 -0.1M333.3 67.0l-0.6 0.4M349.7 73.4l-0.2 0.5M324.9 65.5l-0.3 0.3M334.5 49.9l-0.6 0.4M346.9 71.5l-0.1 0.5M345.2 56.0l0.5 0.4M357.3 44.4l0.2 0.1M345.2 75.6l0.1 -0.5M331.5 47.6l0.3 0.5M363.2 57.3l-0.2 0.2M323.4 78.4l0.6 -0.1M327.4 76.6l-0.5 -0.3M347.6 68.1l-0.5 -0.3M320.9 54.3l0.3 0.2M325.1 62.6l-0.4 0.2M339.0 55.7l0.6 -0.3M364.9 79.8l-0.1 0.3M353.5 69.9l0.4 -0.1M345.5 55.7l0.1 0.2M369.8 56.1l0.3 -0.0M321.0 56.8l-0.1 -0.6M324.3 80.4l0.1 0.3M326.1 72.8l0.3 0.3M362.4 51.5l-0.4 -0.3M327.1 73.2l-0.5 -0.2M344.5 45.6l-0.4 0.3M322.6 73.2l-0.1 0.4M319.3 74.1l0.0 -0.5" stroke="#8e88cc" stroke-opacity="0.35" stroke-width="1.2" stroke-linecap="round" fill="none"/>
<path d="M336.2 38.5l-0.0 0.1M333.7 63.0l-0.5 -0.6M360.0 82.9l-0.4 -0.4M347.0 85.9l0.3 0.1M367.3 76.6l-0.4 0.1M332.6 70.0l0.4 -0.3M359.1 76.1l0.2 0.5M330.5 87.6l0.4 0.4M349.8 77.1l-0.1 -0.5M333.5 87.7l0.3 -0.1M345.8 39.8l-0.3 0.4M343.6 62.8l-0.4 0.5M353.0 63.7l-0.3 -0.5M356.6 45.3l-0.2 0.1M368.5 49.3l0.4 -0.5M332.7 63.5l0.4 -0.1M346.2 72.7l-0.6 -0.1M351.8 76.6l0.6 0.6M331.8 53.4l-0.1 -0.2M354.9 40.1l-0.2 -0.1M362.7 59.3l-0.5 -0.0" stroke="#c0c4e0" stroke-opacity="0.3" stroke-width="2.0" stroke-linecap="round" fill="none"/>
<path d="M345.9 84.8l0.3 -0.5M353.5 44.2l0.3 0.1M322.5 49.3l0.1 -0.5M332.7 63.9l0.6 -0.5M338.3 66.1l0.4 -0.2M341.5 62.5l0.1 -0.0M334.7 80.0l-0.3 -0.4M364.7 55.2l-0.3 -0.1" stroke="#c0c4e0" stroke-opacity="0.3" stroke-width="1.2" stroke-linecap="round" fill="none"/>
<path d="M328.4 47.8l0.2 0.6M355.4 84.5l-0.0 0.3M321.9 70.2l-0.2 0.3M344.4 62.4l-0.6 -0.4M354.7 59.6l-0.5 -0.4M348.9 82.0l0.4 0.4M325.1 75.8l-0.5 0.5M327.9 75.6l-0.5 -0.3M343.7 55.1l-0.1 -0.0M348.3 88.2l-0.3 -0.2M330.0 53.2l0.3 -0.1M328.9 84.1l0.1 0.4M318.3 64.0l0.3 -0.2" stroke="#c0c4e0" stroke-opacity="0.3" stroke-width="2.4" stroke-linecap="round" fill="none"/>
<path d="M346.1 81.1l0.3 -0.5M342.0 45.8l-0.3 0.0M333.2 71.7l0.2 -0.3M363.1 85.7l-0.5 0.5M325.0 53.2l0.4 -0.1M335.9 91.8l0.2 -0.1M366.0 74.8l-0.5 0.1M359.2 51.5l0.1 -0.5M356.0 73.1l-0.4 -0.5M335.5 50.0l0.0 -0.5M333.9 39.4l-0.1 -0.1M333.3 78.9l-0.2 0.2M329.5 71.6l-0.3 0.4M362.9 61.3l-0.2 0.4M344.7 77.4l-0.5 -0.4M335.4 83.6l-0.5 -0.1M362.9 51.8l0.5 -0.0M327.4 61.9l-0.3 -0.4" stroke="#c0c4e0" stroke-opacity="0.3" stroke-width="1.6" stroke-linecap="round" fill="none"/>
</g></g>
<defs><radialGradient id="pg3" cx="50%" cy="42%" r="56%"><stop offset="0.78" stop-color="#e3e3ec"/><stop offset="1" stop-color="#d0cedc"/></radialGradient><clipPath id="pc3"><circle cx="219.9" cy="168.4" r="29.2"/></clipPath></defs>
<g filter="url(#pb)"><circle cx="219.9" cy="168.4" r="29.2" fill="url(#pg3)"/><g clip-path="url(#pc3)">
<path d="M238.7 183.4l0.5 -0.3M219.0 193.0l-0.2 0.2M210.7 179.8l0.2 -0.4M236.7 182.6l-0.4 -0.5M219.0 173.1l-0.5 0.0M236.5 179.4l0.0 -0.1M222.2 195.0l-0.5 -0.4M215.9 180.2l-0.0 -0.3M220.1 190.7l-0.3 0.3M230.1 176.2l-0.4 -0.3M218.2 157.5l-0.3 0.2M210.4 154.2l0.2 0.1M224.6 163.0l0.5 0.1M220.2 192.1l-0.6 0.6M222.5 196.8l0.5 0.4M238.2 189.7l0.2 0.6M199.7 176.6l-0.1 0.2M221.2 182.8l-0.3 -0.5M231.6 185.5l-0.0 0.2M225.9 179.7l-0.5 0.4M196.6 177.9l-0.5 0.4M207.0 163.6l-0.5 -0.0M244.9 164.1l-0.6 -0.1M194.6 166.5l0.5 -0.1M193.7 158.4l0.5 -0.4M239.7 161.0l-0.2 -0.3M216.5 179.7l-0.5 -0.3M244.5 170.0l-0.2 0.5M207.4 163.5l-0.3 0.4M220.5 167.0l-0.1 0.0M196.7 175.2l0.6 0.5M238.6 160.4l-0.2 -0.5M216.8 164.7l-0.2 -0.1M212.0 180.3l-0.1 -0.1M218.7 148.5l0.5 0.5M214.9 187.9l0.4 0.5M212.7 156.5l-0.5 -0.1M235.1 172.2l-0.6 -0.2M206.9 167.7l-0.5 -0.5M208.8 187.0l0.1 0.4M238.0 164.8l0.2 0.3M204.0 165.8l0.5 -0.1M220.8 139.9l0.1 -0.1M202.8 164.2l-0.2 0.4M241.3 167.8l-0.3 0.5M234.4 184.2l0.2 -0.3M226.3 187.5l-0.4 0.2" stroke="#7a48b0" stroke-opacity="0.7" stroke-width="1.6" stroke-linecap="round" fill="none"/>
<path d="M199.7 183.7l-0.3 0.5M226.0 149.0l0.4 -0.5M213.6 147.6l0.2 0.5M233.1 144.0l0.4 -0.2M234.3 152.5l0.2 0.2M238.8 168.3l-0.2 0.5M201.6 149.7l0.3 -0.5M202.4 171.6l0.2 0.6M240.9 170.6l0.4 -0.6M232.9 178.2l0.3 0.4M224.8 168.2l-0.5 -0.5M236.9 153.1l0.5 -0.1M205.9 192.7l0.2 -0.3M229.0 158.6l-0.0 -0.1" stroke="#7a48b0" stroke-opacity="0.7" stroke-width="0.8" stroke-linecap="round" fill="none"/>
<path d="M197.7 161.0l0.2 -0.5M215.6 175.5l0.6 -0.1M238.9 167.3l0.4 0.2M234.4 153.8l-0.1 -0.3M201.0 170.2l-0.5 -0.0M204.9 176.3l0.5 -0.3M215.8 171.9l0.6 0.1M214.3 195.6l-0.3 -0.6M227.7 178.6l0.4 -0.3M205.3 184.2l0.5 0.3M193.6 167.1l-0.1 0.6M195.7 161.2l0.5 0.1M220.4 196.1l-0.2 -0.3M199.9 175.3l0.3 -0.3M207.2 182.2l-0.3 -0.4M237.4 173.6l-0.0 0.5M241.8 183.7l0.6 0.4M231.6 181.7l-0.6 -0.1M224.2 148.7l-0.2 0.6M204.6 179.9l0.5 -0.6M194.0 164.5l0.5 -0.5M238.1 164.7l-0.6 0.4M202.2 171.1l-0.5 -0.3M205.0 148.0l-0.3 0.3M202.9 151.4l-0.2 0.2M203.2 183.2l0.3 -0.2M193.8 168.7l-0.4 0.2M237.7 188.1l0.5 0.0M200.8 189.0l0.4 -0.6M212.5 168.1l0.1 0.5M213.3 185.4l0.1 -0.2M204.1 189.7l-0.2 0.4M222.6 186.1l-0.5 0.3M226.0 155.7l-0.4 0.0M220.1 150.8l-0.4 0.4M202.4 189.3l-0.3 -0.1M227.0 169.1l-0.3 -0.5M232.2 193.8l-0.2 0.4M211.2 158.7l-0.3 -0.3M238.1 162.0l-0.5 0.5M215.8 184.2l0.4 -0.6M236.4 161.5l-0.1 -0.3M215.5 153.7l0.1 0.3M215.6 149.5l0.4 -0.0M219.7 150.5l-0.6 0.3M243.4 156.4l0.4 -0.4M223.1 168.3l-0.1 0.5M235.5 178.9l-0.6 0.2M221.9 152.2l0.6 0.4M194.6 166.5l-0.3 -0.0M242.7 174.4l-0.4 0.4M219.5 168.3l0.6 0.0M212.3 175.4l-0.5 0.4M215.3 146.1l0.2 0.5M220.1 153.2l-0.2 0.1M211.2 169.5l0.3 -0.6M203.3 146.4l-0.2 0.2M228.2 180.7l0.0 -0.4M205.1 165.4l0.4 -0.5" stroke="#7a48b0" stroke-opacity="0.7" stroke-width="1.2" stroke-linecap="round" fill="none"/>
<path d="M200.9 162.6l-0.1 -0.4M239.1 173.4l-0.5 -0.3M210.6 171.5l-0.3 0.3M213.4 172.4l-0.4 0.3M243.9 180.8l-0.4 -0.4M213.9 195.7l-0.4 -0.5M203.9 192.0l-0.3 -0.1M194.7 167.7l-0.5 -0.3M246.5 169.8l-0.0 0.1M229.6 144.4l0.4 -0.2M241.3 164.7l0.0 0.1M209.2 184.6l0.3 -0.5M220.2 152.5l0.1 -0.3M233.3 180.2l-0.2 -0.1M228.3 190.9l-0.0 -0.1M197.5 185.6l0.0 -0.4M213.4 156.4l-0.3 -0.3M219.3 180.1l0.5 -0.2M214.3 168.1l-0.5 -0.4M220.1 166.4l0.2 0.6M228.6 144.2l-0.2 -0.5M230.1 180.8l0.3 -0.4M233.3 189.1l-0.2 0.3M203.5 185.6l-0.3 0.2M200.4 159.7l-0.2 -0.4M243.8 171.4l-0.5 0.3M213.1 171.0l0.6 -0.5M209.6 151.8l-0.3 -0.5M223.4 140.6l-0.5 -0.5M209.1 148.5l-0.0 0.4M228.4 189.0l-0.3 -0.6M226.3 182.1l0.3 -0.4M228.2 183.4l-0.5 0.5M207.7 176.0l0.3 -0.6M243.4 176.7l-0.5 -0.5M208.0 181.5l-0.0 0.2M193.4 168.6l-0.4 0.5M211.8 184.0l0.1 0.3M233.6 175.6l-0.1 -0.3" stroke="#9a78c4" stroke-opacity="0.45" stroke-width="0.8" stroke-linecap="round" fill="none"/>
<path d="M215.8 171.2l0.4 0.4M195.6 172.9l0.6 -0.0M202.9 184.5l-0.3 0.5M221.8 192.3l0.2 -0.3M225.7 187.4l-0.4 -0.2M221.1 185.4l0.6 -0.5M226.5 185.2l-0.5 -0.6M201.8 178.8l-0.4 0.3M224.7 170.3l-0.6 -0.4M246.6 178.6l-0.3 -0.4M245.3 163.7l0.3 -0.4M201.8 152.3l-0.1 0.4M245.8 179.5l-0.5 0.5M233.7 167.5l-0.3 -0.4M194.7 173.6l-0.2 0.5M242.5 184.8l-0.4 -0.2M218.2 187.6l0.2 -0.3M191.4 171.3l-0.6 -0.1M234.7 191.1l0.2 -0.1M200.5 176.5l0.2 0.1M202.1 167.3l0.0 0.4M234.4 153.7l-0.1 0.1M229.1 175.0l-0.2 0.0M191.5 169.4l-0.6 0.2M214.8 179.5l0.5 0.4M194.2 175.3l-0.4 0.2M235.4 150.5l-0.0 -0.4M210.2 146.5l-0.3 -0.0M202.8 164.0l0.1 0.2M230.5 146.4l0.1 -0.0M233.5 175.1l0.4 -0.6M240.1 174.0l-0.3 0.2M203.6 180.6l-0.2 0.4M224.3 154.7l-0.5 0.2M208.7 172.6l0.6 -0.3M217.7 142.8l-0.6 -0.2M244.5 164.0l0.4 -0.5M208.4 183.6l-0.4 -0.1M222.8 144.2l-0.3 -0.5M238.2 148.6l0.0 -0.2M226.9 187.2l0.5 0.6M232.8 142.8l0.4 -0.5M242.6 174.8l-0.3 0.0M225.0 150.0l0.3 -0.5M223.3 166.6l-0.5 -0.6M237.3 185.5l0.5 -0.6M192.7 176.4l0.2 0.4M225.3 153.0l0.3 0.0M195.0 181.0l0.2 -0.2M247.7 172.4l-0.5 -0.2M213.3 170.3l-0.3 0.0M218.7 181.7l0.5 0.6M216.6 144.7l-0.1 -0.5M207.5 149.1l-0.4 -0.3M222.8 160.3l0.3 0.3M224.2 160.3l-0.4 -0.2M205.2 172.4l-0.0 0.3M223.4 179.6l-0.2 -0.3M207.6 161.1l-0.4 -0.2M221.9 171.2l0.4 0.2M220.1 180.0l-0.3 0.3M209.1 152.3l0.3 0.2M200.7 177.8l0.2 0.4M236.5 162.9l-0.1 -0.0M201.2 173.7l-0.1 -0.1M226.6 150.8l0.4 0.3M220.3 191.2l-0.2 -0.5M197.0 166.8l-0.2 -0.3M219.8 175.6l-0.5 0.4M201.0 167.0l-0.2 0.5M217.0 188.1l-0.4 -0.4M229.9 143.1l0.3 0.2M236.2 146.3l-0.3 -0.1M212.6 167.6l-0.5 0.3M220.9 179.7l0.1 0.2M198.3 161.1l0.4 0.4M199.7 156.0l-0.0 0.6" stroke="#9a78c4" stroke-opacity="0.45" stroke-width="1.2" stroke-linecap="round" fill="none"/>
<path d="M233.0 162.5l-0.2 0.3M223.6 156.8l-0.3 -0.1M223.9 167.0l0.1 0.4M225.8 160.3l-0.4 -0.5M203.7 171.0l0.1 0.2M192.5 170.0l-0.1 -0.2M216.4 167.2l0.2 -0.0M239.9 168.1l-0.3 -0.5M212.6 195.3l0.3 -0.5M218.2 177.6l0.5 0.4M239.8 178.6l-0.1 0.3M240.5 170.0l-0.1 -0.5M217.4 159.5l0.5 -0.3M233.9 168.3l-0.6 0.4M209.2 143.1l-0.5 -0.0M223.1 161.5l-0.5 -0.5M220.1 175.8l0.3 -0.0M221.1 178.6l0.6 0.3M229.4 167.0l-0.4 -0.2M194.8 156.3l0.3 0.2M195.7 175.4l-0.4 0.5M222.1 188.9l0.2 -0.1M229.2 161.0l0.6 0.4M230.5 184.8l0.2 -0.2M226.9 175.0l-0.3 0.1M206.8 167.5l0.6 -0.3M242.3 185.2l0.3 0.0M211.1 160.0l0.1 0.6M218.6 179.5l0.3 -0.3M203.0 189.1l0.0 0.1M195.8 167.5l0.5 0.1M194.2 174.8l0.6 -0.5M218.3 147.1l-0.2 -0.2M241.3 175.9l-0.2 -0.1M245.6 163.1l0.1 0.6M197.6 172.0l-0.2 -0.1M207.0 147.9l-0.1 -0.3M192.7 165.4l0.3 -0.1M238.1 159.3l0.2 0.1M226.3 185.3l0.1 0.3M233.4 172.5l0.3 0.2M202.4 150.6l0.4 0.0M199.0 156.9l0.5 -0.6M235.6 181.6l-0.6 -0.5M229.7 144.7l-0.5 0.4M234.6 189.8l-0.5 0.2M196.0 165.8l0.2 -0.5M212.9 174.9l0.4 -0.3M210.8 161.3l-0.6 0.3M208.6 143.2l0.3 0.4M206.8 177.6l0.6 0.3M215.7 160.3l-0.0 0.5M232.2 183.9l0.3 0.4M242.7 154.5l-0.5 0.3" stroke="#9a78c4" stroke-opacity="0.45" stroke-width="1.6" stroke-linecap="round" fill="none"/>
<path d="M211.8 168.7l0.5 -0.6M223.0 149.4l-0.1 -0.0M207.9 144.5l-0.0 -0.3M206.0 165.1l-0.5 -0.3M211.0 194.4l-0.3 0.1M201.0 171.7l-0.4 -0.2M210.3 162.3l0.4 0.5M240.3 148.5l0.3 -0.5M229.1 171.1l0.1 -0.5M215.0 192.6l0.6 0.3M237.9 152.3l-0.3 -0.6M238.4 174.1l0.1 0.3M225.1 180.9l0.2 -0.0M205.6 162.6l-0.6 0.2" stroke="#c0b0d8" stroke-opacity="0.3" stroke-width="1.2" stroke-linecap="round" fill="none"/>
<path d="M224.3 193.8l-0.3 0.6M227.4 189.1l-0.4 0.3M234.1 152.5l0.5 0.2M248.0 167.0l-0.6 -0.1M246.3 170.4l0.1 -0.3M240.0 161.8l0.1 0.6M229.0 151.8l-0.0 -0.2M202.5 148.0l0.2 0.1M197.4 174.6l0.6 -0.2M210.4 189.5l-0.2 -0.1M227.8 159.3l0.1 -0.2M217.4 170.3l-0.6 0.6M202.1 154.4l0.4 0.5M224.1 187.1l-0.4 -0.1M232.7 180.2l-0.2 -0.1M247.2 162.9l-0.3 -0.5M213.1 174.7l0.0 -0.1" stroke="#c0b0d8" stroke-opacity="0.3" stroke-width="2.4" stroke-linecap="round" fill="none"/>
<path d="M205.1 156.0l-0.1 0.1M238.4 186.7l-0.2 -0.4M220.8 181.6l0.6 0.6M233.1 191.2l-0.1 0.5M219.5 163.2l0.2 0.2M194.6 154.8l0.1 -0.4M199.4 157.1l0.4 -0.4M211.5 156.0l0.3 -0.1M209.6 170.5l0.1 -0.0M230.6 149.1l0.2 0.4M192.9 167.1l0.0 0.1M243.5 152.9l-0.0 -0.2M204.9 163.1l-0.4 0.3M245.3 174.0l0.2 0.3M207.2 143.7l-0.5 0.5M209.3 158.0l-0.5 0.1M244.7 177.7l0.0 0.2M242.6 164.6l0.1 0.4M233.6 182.8l0.1 0.3M220.9 162.3l-0.5 0.1M218.5 183.5l-0.1 -0.4M230.5 165.9l-0.4 -0.1M235.2 176.7l-0.6 -0.1M221.4 176.7l-0.3 0.5M193.6 159.5l-0.6 -0.0" stroke="#c0b0d8" stroke-opacity="0.3" stroke-width="1.6" stroke-linecap="round" fill="none"/>
<path d="M215.9 191.0l-0.1 -0.5M198.8 172.0l0.1 -0.3M240.3 181.8l0.3 0.3M234.4 150.7l-0.4 0.6M218.2 157.3l-0.4 0.5M223.8 193.2l-0.1 -0.6M215.2 190.0l0.4 -0.6M194.5 156.8l-0.4 -0.1M218.4 186.3l-0.1 -0.2M224.9 180.8l-0.5 -0.3M212.0 175.8l-0.3 0.0M200.7 167.3l-0.4 0.3M232.1 186.8l0.4 0.3M227.3 142.7l0.1 -0.4M228.0 175.3l-0.2 0.4M207.7 177.5l0.2 -0.0M202.9 189.2l0.3 0.3M244.7 167.3l-0.4 -0.3M211.7 142.0l-0.1 0.1M206.1 148.2l-0.4 0.1M217.4 179.5l-0.2 0.5M225.5 144.8l-0.5 -0.5M232.3 187.9l0.5 -0.4M220.0 162.0l0.5 -0.2" stroke="#c0b0d8" stroke-opacity="0.3" stroke-width="2.0" stroke-linecap="round" fill="none"/>
</g></g>
<defs><radialGradient id="pg4" cx="50%" cy="42%" r="56%"><stop offset="0.78" stop-color="#dee0e2"/><stop offset="1" stop-color="#cbcbd2"/></radialGradient><clipPath id="pc4"><circle cx="283.0" cy="168.4" r="28.8"/></clipPath></defs>
<g filter="url(#pb)"><circle cx="283.0" cy="168.4" r="28.8" fill="url(#pg4)"/><g clip-path="url(#pc4)">
<path d="M286.0 167.7l-0.4 0.6M309.4 171.2l0.4 0.6M284.1 184.8l-0.3 -0.3M286.5 194.4l0.4 -0.3M272.0 154.1l0.6 -0.0M297.6 145.4l-0.3 -0.6M270.2 186.6l0.1 -0.2M294.0 145.6l0.5 -0.6M293.9 172.7l0.3 -0.5M296.5 178.0l0.1 -0.0M297.8 158.6l-0.6 0.3M295.8 187.4l0.2 0.1M290.0 168.3l0.2 0.3M279.3 148.0l-0.3 -0.4M296.9 166.3l-0.6 -0.2M292.4 161.5l0.6 0.1M260.0 167.5l0.2 -0.2M302.4 186.7l-0.3 0.1M292.7 163.2l-0.3 -0.4M309.9 159.7l0.4 -0.1M263.0 178.1l0.2 -0.0M270.5 155.5l0.4 0.3M275.4 184.1l-0.1 0.2M278.8 162.0l0.2 -0.3M277.7 146.7l-0.5 0.3M281.1 170.1l0.5 0.4M288.2 149.5l0.2 0.0M272.3 177.2l0.6 0.6M306.1 156.4l-0.0 -0.5M286.7 156.8l0.4 -0.3M303.5 154.8l-0.5 -0.3M271.1 147.2l0.1 -0.4M279.5 158.6l0.2 0.4M255.6 175.3l0.1 -0.4M276.1 151.4l-0.6 0.4M256.4 160.9l-0.1 0.5M267.5 165.6l-0.3 -0.2" stroke="#7a48a8" stroke-opacity="0.7" stroke-width="1.6" stroke-linecap="round" fill="none"/>
<path d="M301.0 159.2l-0.1 -0.1M301.7 178.5l0.1 0.5M286.6 167.1l-0.4 0.5M274.2 146.1l-0.0 0.5M266.1 162.3l-0.4 0.5M274.7 179.3l0.4 -0.2M296.6 159.2l-0.5 0.5M304.6 151.4l-0.0 -0.0M258.7 174.3l0.2 -0.3M285.3 169.8l0.2 -0.1M274.9 153.8l0.0 -0.4M283.1 196.5l0.5 0.2M276.7 183.1l0.2 -0.2M293.9 149.9l0.5 -0.4M259.7 160.8l-0.3 0.1M273.4 167.2l-0.0 -0.4M276.4 144.3l0.4 0.6M273.5 153.0l-0.4 -0.3M301.5 181.7l0.2 0.4M287.4 163.4l-0.1 0.5M268.2 183.8l-0.0 -0.0M261.6 172.7l-0.1 0.5M278.2 169.6l-0.0 0.3M263.4 184.5l0.2 0.3M296.9 192.3l-0.0 0.6M264.6 159.6l-0.3 0.3M295.4 154.0l0.4 0.5M291.4 174.3l0.2 -0.3M284.0 182.5l-0.4 -0.3M292.2 142.6l0.0 0.2M303.1 161.8l0.3 0.3M285.9 185.0l0.0 0.1M269.4 160.1l0.2 0.5M288.5 152.4l-0.2 0.4M291.9 174.1l0.5 0.5M289.1 167.1l-0.4 0.1M298.4 191.1l-0.1 0.3M265.0 182.0l-0.1 0.5M297.5 184.3l-0.4 -0.0M309.6 168.2l-0.5 -0.2M295.7 191.2l0.1 0.3M284.4 191.8l0.1 0.5M271.5 145.2l-0.5 -0.3M285.0 176.0l-0.5 0.3M267.6 149.3l0.5 0.6M267.1 170.4l0.3 -0.0M284.0 164.4l-0.2 -0.2M265.3 187.3l-0.3 -0.5M293.2 182.4l-0.0 -0.1M268.9 146.6l0.2 -0.3" stroke="#7a48a8" stroke-opacity="0.7" stroke-width="1.2" stroke-linecap="round" fill="none"/>
<path d="M290.8 174.1l-0.0 0.4M288.6 149.7l-0.0 -0.1M288.8 167.5l0.4 0.1M271.0 154.6l0.5 -0.1M299.1 184.0l-0.1 0.1M306.6 154.4l-0.2 -0.4M294.5 160.6l-0.5 0.6M310.8 170.3l0.3 -0.6" stroke="#7a48a8" stroke-opacity="0.7" stroke-width="0.8" stroke-linecap="round" fill="none"/>
<path d="M276.8 187.8l0.4 -0.2M272.2 149.0l0.4 0.3M287.8 161.9l0.1 0.5M294.9 184.9l0.6 0.1M278.8 150.4l0.0 -0.4M305.7 159.8l0.3 0.0M279.6 151.1l-0.5 0.1M285.8 151.6l-0.2 -0.1M272.2 152.4l-0.4 -0.1M273.8 175.9l-0.5 0.3M272.9 190.7l0.3 -0.6M307.7 157.0l0.2 -0.6M262.2 177.1l-0.4 0.1M301.9 148.5l0.5 -0.2M296.4 176.5l0.3 -0.1M291.6 154.7l-0.3 0.5" stroke="#9a7cc0" stroke-opacity="0.45" stroke-width="1.6" stroke-linecap="round" fill="none"/>
<path d="M307.5 169.6l0.5 -0.4M304.0 181.3l-0.4 -0.3M266.6 146.7l-0.4 0.5M307.7 177.0l0.4 -0.1M305.2 162.6l-0.5 0.1M285.0 192.2l-0.3 -0.4M262.0 162.2l0.2 -0.4M286.8 184.3l-0.3 0.1M299.5 176.6l0.1 -0.4M288.6 141.6l0.5 -0.1M285.2 182.6l0.2 -0.1M292.6 193.1l-0.3 0.4M286.8 145.5l0.1 0.1M298.6 171.5l-0.6 -0.0M296.5 144.9l-0.5 -0.6M281.9 149.2l0.2 0.4M278.3 195.7l0.4 -0.5M304.3 173.5l0.2 -0.5M265.6 146.4l-0.5 0.4M265.4 181.2l0.3 -0.5M266.6 180.3l-0.5 -0.3M272.6 193.9l-0.1 0.5M282.5 172.0l0.1 0.2M286.3 168.7l0.5 -0.0M298.4 182.2l-0.6 0.4M291.9 192.6l-0.5 -0.3M277.0 171.5l-0.1 -0.4M287.9 191.3l0.0 -0.4M280.7 181.9l-0.4 -0.6M263.1 162.1l0.0 -0.5M269.5 168.9l0.1 0.6M299.1 149.6l0.0 -0.2M262.3 154.1l0.5 0.3M270.6 191.3l0.3 -0.5M277.1 167.2l0.4 -0.3M268.3 149.0l-0.4 0.3M283.6 143.2l0.5 -0.4M269.0 173.5l0.1 0.1M287.7 164.3l0.3 -0.1M281.5 181.7l0.2 0.0M291.2 156.1l0.6 -0.2M277.3 181.5l-0.6 -0.2M278.4 159.1l-0.5 0.3M293.8 183.7l-0.5 0.0M270.7 154.9l0.0 -0.5M256.2 163.1l0.6 0.5M306.6 175.7l0.6 0.3M304.7 156.9l-0.4 0.4M278.2 195.1l-0.6 0.6" stroke="#9a7cc0" stroke-opacity="0.45" stroke-width="1.2" stroke-linecap="round" fill="none"/>
<path d="M286.4 165.7l-0.3 0.4M291.1 162.1l-0.3 0.5M291.2 157.3l0.1 -0.4M282.7 178.4l0.0 0.4M292.5 158.6l0.6 0.4M297.0 190.4l0.2 0.4M294.0 173.6l-0.4 0.5M271.5 172.7l-0.0 0.4M297.8 154.8l0.2 -0.3M285.6 178.3l-0.1 0.4M284.3 156.6l-0.0 0.6M309.6 160.2l0.5 -0.2M263.2 163.9l-0.2 -0.1M276.5 147.7l-0.1 0.0M286.9 149.6l-0.1 0.0M263.2 171.1l0.6 -0.1M282.3 144.7l-0.4 0.2M286.0 195.5l0.2 0.6M270.8 179.3l-0.4 0.3M290.3 183.8l0.2 -0.3M285.7 140.6l-0.4 0.1M270.3 154.2l-0.0 -0.2M288.2 187.7l-0.4 0.1M286.2 181.3l0.4 0.3M277.6 170.6l0.4 0.2" stroke="#9a7cc0" stroke-opacity="0.45" stroke-width="0.8" stroke-linecap="round" fill="none"/>
<path d="M272.9 184.7l0.5 -0.3M270.0 161.7l-0.1 -0.5M266.0 150.9l-0.0 -0.4M272.4 182.3l0.2 -0.0M284.1 140.6l-0.4 0.6M257.5 160.0l0.4 0.4M269.4 170.1l0.2 0.1M279.6 190.2l0.2 0.3M301.5 181.7l0.0 0.2M271.0 181.3l0.5 -0.3M272.1 142.8l-0.0 0.4M283.8 179.6l0.5 0.4M285.8 179.8l0.3 0.5" stroke="#c8c0d4" stroke-opacity="0.3" stroke-width="2.4" stroke-linecap="round" fill="none"/>
<path d="M294.1 159.1l-0.5 -0.4M274.4 168.7l0.5 -0.5M293.9 177.9l-0.1 0.2M266.8 181.6l-0.4 -0.3M288.1 175.3l0.2 -0.2M272.4 173.4l-0.5 0.2M273.9 182.4l0.6 -0.1M261.4 183.4l0.2 -0.5M308.4 166.0l-0.6 -0.5M267.1 169.1l-0.1 -0.5M293.1 172.6l-0.3 -0.2" stroke="#c8c0d4" stroke-opacity="0.3" stroke-width="1.2" stroke-linecap="round" fill="none"/>
<path d="M258.9 171.1l0.5 0.0M280.4 140.2l-0.3 0.1M262.3 152.6l-0.1 0.3M278.3 156.7l0.0 0.1M293.7 192.2l-0.2 0.6M280.2 184.8l-0.2 -0.2M268.5 162.3l0.1 -0.3M272.3 144.2l-0.2 0.5M305.1 153.4l0.1 0.4M288.3 163.8l0.0 -0.0M310.3 175.3l-0.4 0.0M261.9 159.5l0.2 -0.1M290.2 162.9l0.3 -0.5M276.6 174.8l-0.0 0.3" stroke="#c8c0d4" stroke-opacity="0.3" stroke-width="2.0" stroke-linecap="round" fill="none"/>
<path d="M288.7 148.1l-0.5 0.2M276.5 191.1l0.0 0.3M260.9 165.0l0.1 0.2M271.0 157.8l-0.2 -0.3M288.2 191.9l0.3 -0.2M291.0 162.5l-0.4 -0.0M293.6 172.5l-0.6 0.2M298.6 145.4l-0.2 0.1M281.3 170.8l0.3 -0.3M301.0 154.7l-0.3 0.5M281.5 176.5l0.4 0.4M257.3 157.5l-0.5 0.3M256.5 163.4l0.1 -0.4M292.2 177.8l0.6 0.1M273.9 174.8l-0.5 -0.2M273.4 175.0l0.2 -0.3M296.2 180.2l-0.3 -0.1M284.6 145.4l-0.1 0.5M299.5 165.2l-0.4 -0.1M280.2 160.0l-0.1 -0.2M280.8 179.3l0.4 0.4M290.7 181.3l-0.1 -0.1" stroke="#c8c0d4" stroke-opacity="0.3" stroke-width="1.6" stroke-linecap="round" fill="none"/>
</g></g>
<defs><radialGradient id="pg5" cx="50%" cy="42%" r="56%"><stop offset="0.78" stop-color="#e5e3e6"/><stop offset="1" stop-color="#d0ced4"/></radialGradient><clipPath id="pc5"><circle cx="345.5" cy="168.4" r="29.3"/></clipPath></defs>
<g filter="url(#pb)"><circle cx="345.5" cy="168.4" r="29.3" fill="url(#pg5)"/><g clip-path="url(#pc5)">
<path d="M332.6 183.7l-0.1 -0.1M337.5 156.1l-0.6 -0.2M364.7 171.7l-0.2 -0.3M328.0 146.5l-0.5 0.6M358.2 146.2l-0.3 -0.4M371.8 170.6l0.5 -0.0M351.0 149.8l-0.0 -0.6M354.1 179.3l-0.2 0.0M335.7 153.1l0.0 0.5M336.1 157.3l-0.6 0.0M353.6 163.9l-0.1 -0.6M321.5 173.9l-0.6 -0.6M347.4 180.6l0.4 0.4M326.2 164.2l0.0 -0.0M365.6 179.4l0.3 -0.2M357.0 189.8l-0.1 -0.3M322.1 175.3l-0.3 -0.1M362.4 190.9l-0.3 0.0M360.5 146.4l0.2 0.3M363.3 157.9l0.4 0.0M349.8 189.9l0.3 0.3M351.0 186.6l-0.5 -0.5M356.4 170.7l0.3 0.3M358.3 180.8l0.3 -0.2M350.1 146.7l0.3 0.1M373.1 176.2l0.2 -0.1M358.9 191.9l0.1 0.1" stroke="#8450ac" stroke-opacity="0.7" stroke-width="1.2" stroke-linecap="round" fill="none"/>
<path d="M340.0 177.7l-0.2 0.3M359.5 164.5l0.4 0.2M340.1 182.0l-0.2 -0.1M350.3 145.6l-0.3 -0.5M363.5 184.0l0.3 -0.4M353.0 190.7l0.0 -0.5M353.1 156.6l0.5 -0.1M351.2 174.0l-0.2 -0.0M320.4 174.5l-0.5 -0.2M340.6 163.7l-0.6 0.2M371.5 168.0l-0.4 -0.4M356.7 152.7l-0.4 0.6M363.7 165.1l-0.5 0.5M324.5 165.9l-0.2 0.1" stroke="#8450ac" stroke-opacity="0.7" stroke-width="1.6" stroke-linecap="round" fill="none"/>
<path d="M339.0 186.8l0.2 0.3M353.9 173.9l0.2 0.5M349.4 186.6l-0.5 -0.1M350.3 186.6l-0.2 -0.2M353.4 163.1l0.5 0.3M326.5 152.1l0.5 -0.3M323.8 180.8l0.4 -0.1M358.1 169.7l0.5 -0.1M356.9 165.6l-0.5 -0.1" stroke="#8450ac" stroke-opacity="0.7" stroke-width="0.8" stroke-linecap="round" fill="none"/>
<path d="M331.9 160.2l-0.1 -0.3M331.3 156.7l0.2 0.5M333.8 157.9l0.5 -0.1M365.9 186.3l0.5 -0.1M348.2 176.2l0.5 0.6M344.8 162.7l-0.6 -0.6M365.7 182.8l-0.5 -0.0M344.4 169.7l-0.3 -0.1M340.9 181.2l-0.1 0.5M346.7 145.5l-0.3 0.5M368.4 154.0l0.3 0.3M374.0 172.3l-0.1 0.1M353.8 154.5l0.2 0.3M346.2 186.9l0.5 0.5M322.3 154.2l-0.3 0.5M338.3 180.8l0.0 -0.4M344.3 194.6l-0.5 -0.5M335.9 157.9l0.0 0.3M352.4 167.1l-0.6 -0.2M320.1 158.5l-0.4 -0.3M347.9 162.0l-0.5 0.2M351.6 177.6l-0.1 -0.2M342.0 151.8l-0.1 -0.0M346.7 145.3l0.1 -0.5M328.8 155.6l0.0 -0.3M319.3 159.7l-0.5 -0.2" stroke="#a88cc4" stroke-opacity="0.4" stroke-width="0.8" stroke-linecap="round" fill="none"/>
<path d="M344.3 160.6l0.5 -0.3M337.4 190.2l0.3 -0.6M352.4 156.8l-0.0 -0.6M362.0 160.3l0.3 0.4M371.3 163.3l-0.2 -0.4M332.0 176.1l-0.4 -0.4M359.3 181.0l0.5 0.1M356.4 166.2l0.3 0.5M332.3 178.5l0.0 -0.6M321.8 164.1l-0.6 -0.5M344.1 185.6l-0.0 -0.4M351.0 156.6l-0.1 -0.4M351.7 194.6l0.1 -0.4M342.6 187.7l0.3 -0.2M337.1 153.9l-0.2 0.6M355.5 143.1l0.5 0.2M354.3 174.1l0.1 0.3M343.1 146.3l-0.4 -0.1M343.4 177.1l0.4 0.4M326.9 187.1l-0.3 0.5M334.2 163.7l0.2 -0.1M367.1 163.6l-0.3 -0.2M354.4 179.5l0.4 -0.1M330.1 144.3l-0.5 0.1" stroke="#a88cc4" stroke-opacity="0.4" stroke-width="1.2" stroke-linecap="round" fill="none"/>
<path d="M331.4 190.8l0.1 0.3M334.2 166.5l0.2 0.2M357.2 186.5l0.2 0.2M340.0 182.7l-0.2 -0.0M361.3 168.1l-0.2 0.1M360.2 172.9l0.1 -0.4M344.1 166.0l0.4 -0.6M350.3 195.5l-0.3 -0.3M355.6 181.8l-0.4 0.3" stroke="#d0c8d8" stroke-opacity="0.3" stroke-width="2.4" stroke-linecap="round" fill="none"/>
<path d="M331.7 174.3l0.2 -0.2M354.7 151.3l0.0 0.4M355.8 145.5l0.1 -0.4M355.2 192.2l0.5 0.5M372.4 177.8l-0.0 0.6M341.7 170.6l-0.6 -0.6M343.6 184.9l0.5 0.4M346.5 150.8l0.4 0.3M327.1 184.0l0.3 0.2M350.6 176.1l-0.4 -0.5M346.2 167.8l-0.5 0.1M366.8 175.8l0.4 0.2M335.7 158.3l0.6 0.0M333.0 146.6l-0.2 0.6M360.7 180.8l-0.2 -0.3M318.6 171.5l-0.5 0.5M363.5 148.0l-0.5 0.0M333.1 186.7l0.4 -0.3M347.6 147.6l0.5 0.5" stroke="#d0c8d8" stroke-opacity="0.3" stroke-width="1.6" stroke-linecap="round" fill="none"/>
<path d="M335.1 180.8l0.5 0.4M342.8 154.3l0.2 -0.2M338.4 152.3l0.4 -0.2M357.7 183.0l-0.6 0.3M363.3 150.1l0.2 -0.1M331.2 161.7l0.3 -0.1M342.2 177.1l0.3 -0.3M330.9 162.1l-0.3 0.6M351.9 185.0l0.3 -0.5M340.4 159.6l0.4 0.2M335.6 182.2l0.4 -0.5M343.3 195.2l-0.3 -0.4M338.3 157.1l0.3 -0.5M342.1 156.8l-0.2 0.2M333.4 144.6l-0.4 0.0M353.1 181.2l-0.4 -0.0M372.8 161.0l0.0 0.1M361.2 160.9l0.5 0.0" stroke="#d0c8d8" stroke-opacity="0.3" stroke-width="2.0" stroke-linecap="round" fill="none"/>
<path d="M322.3 159.0l-0.5 -0.2M334.8 164.6l-0.6 0.3M357.9 190.6l-0.2 -0.3M342.7 166.6l0.1 0.3" stroke="#d0c8d8" stroke-opacity="0.3" stroke-width="1.2" stroke-linecap="round" fill="none"/>
</g></g>
<defs><filter id="mb" x="0" y="0" width="100%" height="100%"><feGaussianBlur stdDeviation="0.5"/></filter></defs>
<defs><clipPath id="mc0"><rect x="0" y="0" width="78.2" height="58.8"/></clipPath></defs>
<g transform="translate(393.9,48.9)" clip-path="url(#mc0)"><rect width="78.2" height="58.8" fill="#fffaff"/><g filter="url(#mb)" stroke-linecap="round" stroke-linejoin="round" fill="none">
<path d="M7.9 49.2l-.1 -1.2M15.1 1.4l1.8 -1.7M42.9 .7l0 -1.8M1.7 3.6l-1.9 -1.4l-1.3 -.6M53.5 7.7l-.4 -2M35.3 13.2l.1 -1.2M27 7.6l-.8 -1.4M62.8 38l.4 -1M67.4 50.4l2.6 -1.3l.9 -1.5M77.9 27.2l1 -.5M20.7 29.3l1.2 -1.6M8.3 44l2.7 -.9M53.6 9.2l-1.3 -1.3M47.3 56.4l-1.9 -1.4M66.8 34.4l1.2 -1M1.7 44.9l-.6 -2.2M15.4 39.7l2.3 -.9M65.4 31.5l1.6 -.4M23.1 39.7l-1.3 -1.9M8.2 24.6l.2 -1.1M41.2 46.8l-1.6 -1.3M8.5 2.5l.9 -.7M54.7 31.6l-.3 -1.8M5.2 34.6l1.1 -.9M12.9 36l-.4 -1M54.1 55.4l-1.2 -1.8M2.7 17.9l-1.8 -1.3l-1.3 0M1.8 27.5l-.6 -2.4l-1.2 -.9M16.5 40.5l-2.3 -1.9M61.7 31.5l1.1 -.8M57.5 24.9l-.2 -2.3l-1.2 -.7M59.8 30.3l-.7 -1.5M61.8 43.7l.3 -1M11.2 26.1l.9 -2.7l-.5 -1.6M3.4 25.9l1.5 -.9M41.1 31.9l-1.1 -1.3M45.8 .6l-.8 -.6M5.2 18.3l.8 -2.5M65 32.4l1.3 -.9M47.1 24.4l1.7 -1.1M66.6 48.7l-.3 -2.8M38.1 16.5l-1.8 -1.6M36.3 52.1l.8 -2.5l0 -1.6M31 2.9l1.4 -.4M36.5 23.4l.4 -.9M76.4 51.8l-1.5 -.9M64.6 27.9l.1 -1.8M70.3 23.7l1.2 -.9M77.5 40.3l-.9 -1.8M41.9 17.2l-.1 -2.7l.4 -1.6M10.9 4.8l1.1 -1.3M48.4 11l-1.5 -1.6M38.1 38.6l.4 -2.8M41.3 11.9l-1.1 -1.1M53.2 42.9l.7 -1.3M76.8 39.9l1.5 -.7M13 58.6l1.5 -1.1M32.6 20.1l0 -2M53.5 7.2l.1 -2.5M42.3 58.1l-1.1 -2.4l-1.1 -1.1M24.7 16.1l-.5 -1.9M44.6 24.5l1.7 -1.6l1.2 -.6M25 3.7l-1.7 -1M23.1 16l2.4 -1.5l1.5 .7M40.1 58l2.2 -1.8M12.6 8l-1.6 -1.6l0 -1.3M30.6 26.8l-.3 -3M56.4 36.9l1.4 -1.3M22.7 1.5l.6 -.9M24.1 3.7l.4 -2.5M48.8 25.8l-1.1 -.6M3.7 39.7l.4 -1.6M45.2 13.5l-.3 -1.8M59.3 9.8l-1.7 -1.2M58.7 6.4l.8 -1.2M16.3 12.5l-1.6 -1M49 29.3l.3 -2.2M26.8 32.5l1.3 -.6M49.2 47.8l.8 -.8M17.6 6.2l-.1 -2.3l-.3 -1.4M28.4 36.1l.8 -1.2M48.5 53.8l-.2 -1.6M46.5 23.8l1 -2.7l1 -1.4M38.7 30.8l-1.2 -1.6M59.3 58.3l-.4 -1.4M3.4 40.5l1.3 -1.3M1.6 13.8l-1.8 -1.2M68.2 17.4l1.3 -2.3M24.3 36.4l.1 -1.2M31.3 4.6l2.8 -1M74.1 26.8l-1.6 -2.3M17.4 2.7l.1 -2.4M27.7 4.1l-.2 -1.3M71.3 46.3l1 -.4M13.7 19l-1.6 -1.5M66.8 48.4l1.1 -2.2l.5 -1.4M73.9 30.9l-.7 -2.4M60.6 24l1.8 -.8M55.6 17.5l-.1 -2.5M71.2 54l1.3 -2.1l1.5 -.2M68.8 55.4l.7 -.7M72.7 2.8l-1.4 -1.3M61.8 46.9l.2 -1.3M7.2 45.1l.3 -2.3" stroke="#d464f0" stroke-opacity="0.8" stroke-width="1.2"/>
<path d="M7.6 8l-1.2 -.8M23.5 29.8l.9 -1.5M63.1 36.7l1.9 -.9M77.3 15.7l.3 -1.2M26.9 3.9l2.7 -.6l1.5 .8M63.8 34.1l-2 -1.3l-.4 -1.4M29.5 51.1l-1.2 -1.3M49.4 3.5l.6 -2.2l-.2 -1.3M41.1 8.7l.7 -1M34.3 50.3l.7 -1.1M65.6 10.8l-.8 -1.3M15.5 52l1.8 -.5M45.2 .3l1.8 -1.8M47.3 8.1l-1.3 -.8M17 24.4l1 -.7M61.2 22.4l-.3 -2.6l-.2 -1.6M32.9 40.8l1.4 -1.3M69.4 46.6l-.9 -2.2l-.8 -1.2M49.6 11.8l0 -2.1M4.7 30.1l-.8 -1M74.5 34l2.5 -.7M18.9 10.6l-.2 -1.5M62.5 16.6l-1.7 -1.2M77 10.6l0 -1.8M29.9 10.1l1 -1.4M37.6 42.4l1.1 -2.5M31.6 45.8l1.2 -2.6l1.3 -1.1M52.6 31.5l.2 -1.2M53.1 33.3l-.2 -1.3M48.8 4.9l-1.6 -1.4M8.4 10.7l0 -2.1M27.7 19.6l.1 -1.8M72.3 27.7l-.6 -2.1M8.8 41.1l-.5 -2.1M10 35.7l-1.4 -2.3l.1 -1.6M28.9 17.2l.8 -2.6M2.4 11.2l2.1 -1l1.3 .3M8.7 16.7l2 -1.2l.3 -1.4M26.9 47.4l-1.9 -2.2M59.2 23.6l-1 -.9M13.2 1.6l1 -.7M70.4 12.3l1.3 -.6M73.7 46.4l.6 -2.9l.9 -1.5M24.8 3.3l1.7 -.7M56.6 6.4l1 -.3M46.4 55l.8 -2.5M73.9 39l-.7 -2.1l.4 -1.3M68.7 51.3l-1.4 -1.3M4.9 27.7l-1.9 -1.7l-1 -1.1M66.1 24.3l-.5 -1.9M51.7 45.7l-1.3 -1M20.3 33.3l2.3 -.9l1.3 .7M20 35.3l1.5 -1.9M62 20.9l1.4 -2.6l1.5 -.9M77.6 32.2l.9 -1.6M35.4 56.4l.8 -1.1M74.8 43.4l2.2 -1.1l.6 -1.3M13.7 28.6l1.1 -.7M24.3 38.1l1.1 -.6M50.2 16.3l.6 -2.8l1.6 -.7M34.5 8.6l1.3 -1.8l1.1 -.8M42.6 30.9l-.5 -1.6M41.3 26l2.1 -.8M4.6 50.2l-1.5 -1M45.6 51.2l1.1 -2.2l.9 -1.1M53.4 7.1l1.3 -2.5M37 8.2l-.2 -1.4M25.1 50l-1.2 -1.1M72.6 29.5l1.6 -2.2l1.4 -.7M44.2 14.4l1.8 -1.5M53.6 13l-2.2 -1.4M14 42.2l-.6 -1.5M27.4 28.2l1.5 -1.5M30.1 6.4l1.2 -1.7M48.3 31.8l1 -1.8M54.9 9.8l2.1 -1l1.4 -.3M10.3 42.9l-.4 -1.3M37.9 43.4l.1 -1.3M16.9 6.2l.6 -.9M28.3 2.6l1.4 -.3M45.8 5.7l0 -1.6M20.8 44.8l-.5 -2.1M18.6 9.3l-.7 -1.6M25.3 28.3l-1.1 -2l.3 -1.3M48.7 46l1 -1.4M35.4 25.4l0 -1.8M28.5 48l-1.3 -1.2M10.8 51.7l2.5 -.6M31.4 28.1l.1 -2M4.6 32.9l1.3 -.3M75.3 5.7l1.1 -2.4l1.5 -.6M15.7 39.3l1.9 -.9M5.3 52.4l2.1 -.5M78.1 9.9l-.5 -.9M21.7 49.8l.4 -1.3M57.2 54.9l0 -1.7M76.9 9.7l.4 -2.2l1.2 -.6M34 38.3l2.2 -1.1M26.7 47.1l.8 -.7M29.5 48.5l.2 -1.7M28.5 55.7l.6 -2.2M23.3 49.9l.2 -1.1M15.8 15.4l0 -1.3M5.6 38.2l.3 -1M14.4 50l.4 -1.3M18.7 41.8l2.1 -.7l.4 -1.3M13.4 11.1l1.3 -2.2l.3 -1.5M36.2 23.7l-.2 -1M74.1 55.4l-1 -.9M30 40.8l1.3 -.8M20 22.4l2 -.8M29.6 33l-.3 -1.8M9.8 18.7l1.2 -.9M51 12.6l.3 -2.4M50.7 44.2l2.7 -1.3M45.3 50.2l-.5 -.9M62.9 27.8l1.1 -2.3l-.3 -1.5M59.4 4.9l2.6 -.5l1.3 .9M69.4 36.7l-.9 -1.4M55 53.5l1.4 -1.6M71 41l.6 -1M54.9 20.1l.2 -1.1M63.8 44.9l1.2 -.5M6 53.3l1.3 -2.3l1.1 -1.1M72 40.5l-.7 -1.5M26.8 30.4l-1.9 -1.3M73.4 .1l-1.1 -.7M61.8 17.8l-.2 -2.4M55.6 50.9l1.2 -.6M50.8 35.4l.4 -1M67.4 25.3l-.4 -.9M35.2 14.4l-.7 -2.6l-.6 -1.5M21.8 19.4l.5 -.9M37.4 23.4l1.7 -.4M43.5 39.2l.5 -1.4M1.3 38.3l.9 -1.2M56.7 49.8l-1.1 -.8M31.9 32.5l-.3 -2.1M31.1 11.3l-1.9 -1.8l-1.6 0M61.8 1.9l.3 -2.6M14.3 55.9l2.6 -1.1M20.4 55l.4 -1.4M75.7 47.7l1.7 -.9M39 45.4l-1.4 -.9M48.3 50.9l-1.6 -2l-.3 -1.5M76.1 4.4l1.1 -.2M64.6 25.4l.7 -1.3M57 2.4l2.6 -.6l1.1 -1.1M5.9 .5l-.5 -1.7" stroke="#d464f0" stroke-opacity="0.8" stroke-width="1.6"/>
<path d="M68.7 42l1.2 -2.6l-.7 -1.6M70.7 40.1l-1.8 -2.2M59.6 22.2l.1 -2.2M5 40l1.8 -2l.2 -1.6M65.1 36.6l.1 -2M2.5 26.9l-1 -2.3M46 3.5l.8 -1.9M26.7 14.8l.6 -2.7l1.2 -1.1M63.9 10.1l-2 -1.7M5.6 25l-1.3 -1.4M51.2 45l1.7 -.9M37.8 41.1l-.1 -2.9l-.9 -1.5M48.6 36.1l-1.2 -1.5M18 13.8l-.6 -2.4M8.8 52.2l2.6 -1.1l1 -1.4M32.9 17.7l.3 -1.3M37.5 52.3l-.7 -1.9M15.6 46l-.8 -1.2M54.3 7.9l-.2 -2.7M70.7 30.1l-1.5 -1M15.7 57.3l-1 -1.6M55.9 25.1l1 -2.3M25.8 12.6l.8 -2M8.8 1.4l2.3 -1.8l1.5 -1M45.2 22.8l.8 -1.9M74.3 28.5l1 -2.3M69.3 47.5l1.1 -1.1M56.5 20l1 -.3M25.7 55l-.6 -1.1M70.1 53.3l-.4 -1.9M43.4 2.1l.7 -1.7M73.7 57.3l.8 -2.2l1 -1M46.7 11.4l-.2 -2.9l.3 -1.7M52.6 4.2l-1.7 -1.4M32 51.3l1.2 -.3M23.3 10.7l1.7 -1.4M74 26.2l.2 -1.9M72 31.4l-1.5 -2M4.7 52.6l.9 -2.6l.6 -1.6M23.3 16.9l-.9 -2.1l-1.2 -.6M52.2 30.9l1.3 -1.6M48.5 20.9l-1.9 -1.7M15.8 16.5l.4 -2.2l1.1 -.8M53.7 56.4l1.9 -1.2l1.3 .4M9.7 46.3l1.3 -1.4M63.8 15l.4 -1.4M34.5 25.2l0 -2.1M27.1 20.3l1.4 -1.4M.9 27.8l-.3 -1M49.1 3.8l1.3 -1.9l1.1 -.9M65.6 33.7l2.1 -1.9l1.6 -.6M53.1 4.7l-.2 -1M64.8 34.6l2.3 -1.8l1 -1.4M63.1 37.6l1.4 -.4M27.8 30.5l2.7 -1.3l.9 -1.5M59.5 42.8l.5 -1.6M77.4 26.4l.1 -1.4M42.6 19.6l1.9 -1.8M1.1 13.9l1.5 -.6M43.8 51.9l1.4 -.4M69.9 27.9l1.2 -.5M13.6 17.5l-.8 -.6M19.1 9.2l1.3 -.7M59.4 31.1l.8 -2.5M47.6 57.5l-1.6 -.9M75.3 44.2l2.6 -.9M23.9 5.6l1.2 -.6M9.5 57.1l-.9 -2M49.2 55.2l-1.8 -1.9l-1.3 -.9M48.8 5.7l-.5 -1.5M36.3 38.8l-1.5 -2.4l-1.4 -1M46.3 23.4l0 -1.9M32.3 55.7l.4 -1.6M70.3 53.4l1.3 -.5M66.6 2.7l2.4 -.9l1.3 .8M56.8 9.6l1.8 -2l-.1 -1.6M54.7 51.5l-.6 -1.7" stroke="#d464f0" stroke-opacity="0.8" stroke-width="2.0"/>
<path d="M58.3 29.3l1.8 -1.2M76.2 29.1l.8 -1.5M51 9.1l1 -.8M20.2 55.9l2.2 -.4l1.3 .2M64.9 25.4l0 -1M74 38.8l-1.6 -1.9l-1.1 -1.1M44 13.6l1 -2.2M9.8 38.4l1.4 -1.7l1.2 -.5M58.2 52.7l2 -1.1M29.4 44.4l1.2 -1M58.8 2.5l.5 -.8M42.7 29.2l1.3 -1.6M1.7 51.9l-1 -.8M34.9 34l.9 -1.1M48.1 13.3l2.5 -1.1l1.1 -1.2M48.3 22.2l2.4 -.7M51.2 2.2l1.1 -1.3M67.5 21.6l.7 -1.5M1.7 17.3l.2 -2.6l-.6 -1.4M23.7 30.1l-1.2 -1.5M66.6 24.9l1 -.6M34.6 41.7l-.1 -1.4M45.1 52.4l-1.2 -1.2M44.5 35.5l-.3 -1.1M35.3 40.9l-2.1 -1.3M39.4 2.4l1.9 -1.7l1.5 -.3M75.9 6.7l-1.1 -1.9M26.1 10.3l.8 -1.5M57.7 6l-1.7 -1.8M48.9 55.2l-1.6 -1M77.7 17.3l-.5 -1M55.1 40.5l-.7 -1.3M71.5 13.6l-1.3 -1.8l-1.3 0M59.7 31l-.1 -.9M75.4 22.5l.2 -1.3M51.4 8.9l-.1 -2M.9 20.9l.3 -.8M55.7 15.2l-.2 -1M38.8 42.5l2.1 -1.1M61 53.2l-1.3 -1.5M52.4 46.3l-.4 -2.1M66.3 17.8l1 -1.9M62.7 3.6l.6 -1.8M1.9 11.5l-.2 -1.9M66.7 50.2l-1.5 -1.6M30.9 37.7l.8 -.7M28.8 29.2l-.6 -1.6M66.2 51l1.9 -1.3M35.1 51.5l.3 -1.4M13.1 15.6l2.2 -.8l1.2 .8M21.8 45.9l1.5 -1.6M15.2 .7l1.2 -1.1M58.1 24.2l-.4 -.8M18.4 58.3l1.7 -2l.5 -1.5M31.6 4.6l-.2 -1.1M54.2 15.9l.5 -1.7M75.8 29.9l-1 -.6M20.6 40.2l1.4 -2.4l1.2 -1.2M47.1 3.1l.1 -1.1M13 29.7l1.3 -1.4M61.5 36.4l-1.7 -1.9M11.7 58l-.9 -.6M58.1 14.2l-1.4 -2l-1.4 -.5M8.6 20.3l-.7 -1M12.2 40.9l-.7 -.6M54.6 7.3l.9 -.6M44.7 13.6l-1.5 -1.7l-.3 -1.3M27.8 .6l.8 -2.3M66.3 49.1l-1.7 -1.8M23.6 1.4l.6 -.7M61.5 23.9l-1.3 -2.2l-1.3 -.8M35.6 1.6l.5 -1.6M76.2 38.3l.7 -.3M27.2 25.3l-1.3 -1.3M64.2 21.6l1.4 -1.7M46.8 29.6l2.4 -1.2l1.5 -.4M29.5 29l.6 -.7M33.8 12.7l2.1 -.7M42.4 7.5l-.2 -1.2M53.6 40.8l.8 -1.9M73.6 25.1l2.2 -1.4M18.5 11.1l-1.1 -.7M37.4 48.9l-1.5 -2.4l-1.2 -1.2M73 45.2l1.3 -2l.5 -1.3M49.7 3.2l-1.6 -1.8l-1.4 -.4M12.5 49.8l1.5 -2.1M18 48l-.6 -.6M27.2 14.6l.8 -1M59.4 34.6l1.3 -1.2M51.1 7l-.5 -.9M4.8 58.6l-.9 -2.3M56.1 26.7l.4 -1.5M70.5 32.8l-.1 -.9M69 45.2l.8 -2.5M58.4 24.5l-.4 -.9M66.4 58.6l-.6 -.7M6.6 54.6l.9 -.2M42 43.6l.8 -2.1M74.2 46.6l1 -.2M13.2 15l.9 -1.7M53.3 57.6l1.6 -1.3M35.8 2.1l.7 -1.7M45.8 47.1l-1.1 -2M31.8 9.9l.7 -.7M53.8 6.2l-.3 -2.6l-1.1 -1.1M33.7 18.6l.6 -.7M4.6 28.4l-.4 -1.7M60.4 52.4l-.8 -1.3M32.4 22.7l.8 -.3M53.4 41.8l-.6 -.9M16.3 6.7l2 -1.8M52.3 31.8l1.5 -1.6l1.2 -.7M65.2 55.4l-1.7 -1.9l-.9 -1.2M41.8 47.9l-1.3 -2.1M42.2 37.3l-2.1 -1.5l-1.1 -1M25 13.6l-1.3 -1.7M14.6 55.6l-1.2 -1.1M22.1 16.7l0 -1.1M55.2 46.2l1.5 -1.8l1.3 -.5M36.8 3.7l-.5 -1.8M20 34.7l-.2 -2.7l.2 -1.6M.5 22.6l2.2 -1.1l1.3 -.6M67.3 21.2l1.3 -2l-.3 -1.4M60.3 55.6l.8 -2.5l-.1 -1.6M36.7 28.1l-1.4 -1.2M11.7 39l.8 -.2M66.9 21.4l-1.4 -1.2M7.7 46.5l.1 -2.1M63.3 24.2l-.4 -1.8M40.5 49.5l-1.2 -2.3M70.5 22.5l1.7 -.5M70.3 34.6l-.1 -1.6M70.1 11.5l-.6 -2.4M48.7 49.5l-1.1 -.9M63.7 42.5l.3 -1M16.1 35.4l-1 -1.2M75.6 44.9l1.6 -2l1.3 -.9M75.7 34.3l-1 -.7M56.1 11.8l1.8 -.9M61.9 25.9l.9 -2.5M34.7 55.4l-.4 -2.7M6.4 47.4l1.4 -1.4M1.6 56.4l.6 -1.4M22.7 50l.7 -2M59.7 16.5l-1.6 -1.1M67.3 38.4l.4 -1.7M52.2 57.7l-.6 -.7M36.8 11.4l1.2 -2.2M65.5 25.4l-.1 -1.1M57 8.5l1.8 -1.7M38.6 20.1l-.4 -.7M45.2 54.4l1.3 -1M28 24.7l1.1 -.5M43.1 1.6l2.3 -.8M64.5 40.5l-.8 -1M33.8 33.7l.6 -1.4M29.3 56.8l.9 -1M42.7 15.1l0 -.9M32.2 52l0 -1.3M75.9 23.3l1.3 -1.9l-.2 -1.4M58.2 44.9l-.1 -2.1M25.7 32.7l.4 -1.3M48.2 34.8l.3 -2.5M15.2 29.9l1.5 -1.6l.8 -1.1M4.2 4.9l-.8 -1.2M56.7 3.8l.6 -2.7M51 48.7l-.1 -2.3l-.5 -1.3M58.3 2.6l1.1 -1.7M22.8 31.4l.3 -1.3M70.3 20.4l-.7 -2.1M14.3 23.2l1 -.3M62.7 8.1l1.5 -2M43.5 9l1.2 -.9" stroke="#aa1ade" stroke-opacity="0.85" stroke-width="1.2"/>
<path d="M63.6 34.9l-.4 -2M19.9 44.8l1.2 -1.4M1.7 28.8l-.4 -1.6M35.4 48.9l-.1 -2.2l.9 -1M11.9 18.4l-.8 -.5M13.7 7.6l-.8 -1.9M27.6 50.6l-.7 -2.4M19.3 6.8l-1.9 -1.8l-.8 -1.3M35.9 4.8l-.2 -.8M41.1 21l1.3 -2.3l-.4 -1.5M23.1 25.7l-.1 -1.9M31.7 47l0 -1.2M38.8 40l.4 -2.5l-1.1 -1.1M58.1 48.6l-.7 -1.2M9.8 25l-1.2 -1M67.7 41.7l-1.7 -1.9M58.3 17.8l1 -1M12.1 20.9l.9 -1.7M1.8 5.1l-1.5 -1.7M9 35.2l2.2 -1.8M27.4 14l-1.7 -1.5l-1.3 -.3M14.9 34.4l1 -1.6M75.9 47.8l-.9 -1.5M75.8 29.6l-.7 -1.9M61.7 27.1l.6 -.6M69 23.6l-1.3 -1.5M9.9 5.6l-1 -.7M74.3 39.1l-.6 -2.4M7.6 32.9l2.6 -.6l1.4 .9M75.3 8.2l-1.5 -.9M9.7 38.1l-.6 -.9M6.5 5.3l-.8 -.5M67.8 22.8l.4 -1.4M31.6 40.7l2.5 -1.1l1.7 .2M42.7 18.7l.4 -1.2M55.2 28.6l2 -.7M14.8 12.8l.6 -.6M49.7 15.2l.2 -1.1M50.1 52.7l.7 -2.2M12.7 28.6l1 -2.3l1.4 -.6M8.5 32.2l-1.5 -1.8l-1.4 -.1M2.5 48.9l1.4 -1.7M25.7 8.2l1.5 -1.2M33.9 1.4l-.5 -.7M46.1 47.1l0 -2.2M1.9 27.8l.3 -1.9M12.6 37.6l-.5 -.9M25.7 25.7l1.7 -1.1M76.8 30l-1.9 -1.5l-.8 -1.2M39.6 17.4l.2 -1.3M32.7 39.5l-.7 -.7M56.1 10.9l.3 -1.1M29.4 40.9l1.7 -.7M67.2 41.8l.4 -1.3M39.6 42.4l.3 -1.1M75 32.9l.8 -1.4M15.5 10.4l.9 -.8M63.9 26.5l-1.2 -2M17.5 24l2 -1.3M19.2 47.1l1.7 -.6M25.7 19.8l-.9 -1.6M2.5 45.6l.9 -.8M51 12.8l1.9 -.7M37.5 37.8l1 -.4M66.8 29.9l0 -2.2l1 -.8M39.3 7.4l-1.8 -1.4M65.2 10.4l.7 -.4M24 32.6l.5 -1.3M21.6 49l-1 -2.1M58.3 57.2l.6 -1.8M41.6 12.7l-1.1 -1.4M45 29.6l1.6 -1.4M23.2 21.5l1.4 -1.2M51.4 14.1l1.7 -1.6M48.9 18.1l1.7 -1.5l.3 -1.3M2 34.9l0 -1M46 2.5l1.1 -1M33.9 51.3l-.2 -1M17.8 42.8l0 -1.3M13.2 20.1l.6 -.5M33.4 41.8l-.3 -1.3M62.6 11.8l.3 -1.6M27.3 58.8l-.7 -1.1M49.3 43.6l-1.1 -1.4M75.5 17.2l-.9 -.6M4.8 27.3l-.4 -2.3M11.8 .4l.7 -1.5M71.3 32.7l1.4 -1.4M77.3 .6l-.3 -2.6l.8 -1.4M45.3 14.9l-.7 -1.7M69.5 24l-.7 -1.2M48 20.1l0 -2.2l1 -.9M43.4 38.9l-1.2 -1.9l-.9 -1M3.5 12.2l-.6 -.7M21.3 10.5l-.8 -.5M53.7 55.6l1.1 -.3M50.5 29.5l-.3 -1.1M4.4 46l1.1 -2.2M22.2 37.4l.7 -1.4M62.3 47.3l2 -.9M36.1 38.2l-2 -1.3M45.5 55.5l-.7 -.9M51.6 14.9l-1.5 -1.2M35.5 46.9l.8 -1.5M71.5 31.8l-.4 -1.4M44.8 54.8l1.8 -1.7l1.4 -.3M55.1 27.2l.9 -1.5M74.5 51.8l-1.5 -2.3l-1.6 -.4M23.6 46.2l1.4 -.5M41.8 47l1 -1.1M40.2 2.9l1.8 -1.9l1 -1.2M29.4 34.3l-1.7 -1.6M11.3 5.6l-.7 -1.7M33.8 27.1l2.4 -.9l.8 -1.3M21 4.8l-.1 -1.1M27.9 45.8l.2 -2.2M67.3 22.4l-1.7 -1.9M40.8 33.6l.2 -1.2M62.4 23l1 -1.7M15.9 42.5l.1 -1.3M17.8 34.6l.1 -.9M13.7 51.2l1.8 -.4M60.6 1l-2.3 -1.4M69.4 11.8l-.2 -1M35.4 34.6l1 -.5M51.5 10.6l1.2 -2.1M35.6 42.9l-.6 -1.6M2 11.8l-.3 -.8M29.4 27.2l-2.2 -1.3l-1.5 .3M66.6 25.8l1.4 -1.1M30.4 31.8l.1 -1.8M59.5 3.4l1 -1M14.5 1.2l.7 -1M25.4 7.5l.1 -1.1M71 47.6l2.6 -.8M68.6 11l-.6 -1M37.5 8.4l2.3 -.6l.7 -1.3M65.2 23.1l1 -.2M25.9 57.3l-.5 -.9M39.1 48.8l-1.6 -1.6l-.1 -1.3M57.6 26.9l-.5 -.9M46.1 11.6l-1.3 -2.1M30.4 4.4l2.5 -.8l1.5 -.6M4.7 20.8l1.5 -.9M8.9 23.1l1.2 -2.2M76.4 16l1.5 -1M61.3 14.4l1 -1.7M35.5 34.2l.8 -.3M1.9 30.8l.8 -.5M39.9 56.6l.2 -2.2l1 -.9M12.4 44.8l1.6 -1.9M16.5 7.2l.9 -.9M3.8 55l-2.3 -1.6l-1.6 -.4M2.3 51.7l-.6 -1.7M16.3 39.9l.4 -1.3M35.1 55l.2 -1.2M71.1 38.6l1.9 -1.7l1.2 -.9M70.8 11.7l-.3 -2M7 16l-.8 -.7M4.1 37.3l.7 -1.2M11.2 5.4l-.3 -.7M4.8 42.3l-1.8 -2l-.5 -1.5M4.3 27.9l1.2 -1.4M70.5 23.2l.7 -1.9M21.9 28.7l.3 -1.3" stroke="#aa1ade" stroke-opacity="0.85" stroke-width="1.6"/>
<path d="M6.6 16.5l.3 -.9M77.5 48.2l-1 -2l.6 -1.2M41.7 42.4l2.4 -.4l1.3 -.6M50.1 47.1l-.9 -1M40 39.2l1.3 -.9M70.4 5.8l1.3 -2.4M21.5 37.8l-2 -1.2l-1 -1M7.7 52l-.8 -2.7M44.9 23.9l-1.3 -1.1M15.3 58.8l.2 -1.8M62.3 57.1l-.7 -.9M46.1 17.4l-1.7 -1.9M75.2 19.9l.8 -1.9M61.9 26.8l1.7 -1.5M51.5 20.7l1.8 -.9M3.9 43.5l-.3 -1.3M3.6 2.2l-.5 -1.3M36 2.8l-.3 -1.3M38.1 56l.7 -2.6l.6 -1.5M62.3 39.8l.1 -2.5l.8 -1.2M49.8 19.8l-.1 -1.9M47.1 15.1l-1 -2.4M20.5 6.9l-.8 -1M75.7 48.6l.1 -.8M68.8 36.2l.3 -1.7M26.6 57.4l1.5 -2.3M64.5 30l-.2 -1.1M42.1 43.8l1.4 -.6M19.6 33.8l.3 -2.2M48.3 23.8l.3 -1.3M66.3 9.4l.6 -.8M16.8 26.7l-2.3 -1.4l-.6 -1.5M2.7 29.2l-.4 -1.6M71.4 16.4l2 -1.5M73 33.5l0 -2.6l1.2 -1M51.2 11.5l.3 -1.2M22.3 22.6l.6 -1.4M11 40.6l.2 -2.7l-.8 -1.4M65.4 8.2l.5 -1.4M6.9 50.2l-1.6 -1.8M67.5 14.5l-.1 -1.5M74.8 25.5l.1 -1.9" stroke="#aa1ade" stroke-opacity="0.85" stroke-width="2.0"/>
<path d="M30.2 38.4l.6 .8M33.1 3.5l.2 -.8M11.2 28.7l.2 .4M49.5 48.4l.1 -.6M27.8 51.5l.7 -.2" stroke="#3a1ad0" stroke-opacity="0.9" stroke-width="0.8"/>
<path d="M35.7 3.5l-.4 .1M68.9 23.5l-.2 -1M75.7 40.9l.4 .1M12.3 36.9l.2 1.1M12.3 56.8l.5 .7M42.2 24.5l.8 -.4M31.9 16.7l.4 .1M41.4 9.1l.4 .1M53.7 12l-.3 .4M24 4.9l-1.1 0M29.9 41.7l.2 -1.1M4.1 51.4l.2 -.3M52.5 20.6l-.2 .3M59.3 12.4l.3 .2M51.7 55l.3 .8M9.7 44l-.5 0M26.8 1.4l.2 -.2M42.5 36.9l-.5 .6M24.7 27.3l.3 -1.3M13.5 35.4l-.4 .1M4.4 57.8l-.9 -.7M3.8 16.9l-.5 -.6M6.8 36.1l-1 .9M4.4 29.5l1.2 .2M56.7 5.4l1.4 -.1M42.6 45l.4 -.7M14.8 9.8l-.5 -.1M25.1 25.3l1.3 0M27.8 28.2l.5 .5M53.9 58.7l-.5 -1.1M28.3 6.1l-.3 -.2M30.4 28.6l-.4 -.9M72.8 .1l.2 -.3M72.4 25.4l.5 -.3M49.4 29.6l.3 .9M44.6 38.3l.2 .9M61.4 8.9l.3 .1M1.3 33.6l0 .4M72.3 43.5l.7 -.8M1.3 51.8l-.1 .3M36 55.6l1.2 .1M43.7 18.5l.9 .7M60.9 5.1l0 -1M59.4 10.4l-.8 .3M15.3 58.1l.2 -.5M28.4 56l-1.3 .1M71.7 9.9l.3 .3M52.3 2.8l-.2 -.5M72.5 28.7l-.3 -1.3M37.9 33.2l0 -.5M46 29.9l.7 .5M4.9 16.5l.6 .2" stroke="#3a1ad0" stroke-opacity="0.9" stroke-width="1.2"/>
<path d="M11.6 40.1l.4 1.1M49.4 11.9l-1 -.5M37.3 6.5l-.9 -.1M11.1 32.7l1.2 -.7M64.3 48.2l-.3 -.2M8 24.8l-.2 -.7M61.3 24.3l.3 -1.4M58.3 37.2l.3 1.1M51.3 54.4l.5 0M44.5 38.2l.6 -1.2M73.2 15.4l1 .8M52.4 13.2l-.4 .9M31.3 36.4l-1.1 1M40.4 58.4l.6 .1M10.4 34.7l-.3 .8M18 1.3l.6 .3M26.2 52.8l-.2 -.9M73.3 47.5l.8 -.7M30.9 20.4l-1 -1.1M47.7 34.1l.3 .6M76.3 49.6l.6 .8M57.4 34.4l-.2 .4M17.7 55.5l-.6 -.7M23.1 31l.2 1.2M14.8 21.3l.5 0M26.2 51l.4 -.5M56.9 29.2l-.5 -.7M41.1 44.7l-1 -1.1" stroke="#3a1ad0" stroke-opacity="0.9" stroke-width="1.6"/>
</g></g>
<defs><clipPath id="mc1"><rect x="0" y="0" width="78.2" height="58.8"/></clipPath></defs>
<g transform="translate(475.9,48.9)" clip-path="url(#mc1)"><rect width="78.2" height="58.8" fill="#fffaff"/><g filter="url(#mb)" stroke-linecap="round" stroke-linejoin="round" fill="none">
<path d="M8.4 44l-1.3 -1.8M56.3 4.8l-1.4 -1.3M23 55.6l.5 -1.9M49.3 2.5l1.6 -.3M2.1 20.6l-.9 -1.8M31.5 42.9l.9 -2.2M5.4 23.8l1.7 .2M19.6 9.3l1.8 -.3M47.5 41.9l1.9 .5M12.8 11.8l.8 -.2M38.4 55l.9 -.2M4.7 15l1.4 -.6M39.2 19.9l.6 -1.4M13.2 54.8l.9 -.9M8.1 35.6l-.9 -1.7M61.6 34.1l.8 -2.3l.7 -1.3M1.6 45.3l1.1 -.4" stroke="#eca6f6" stroke-opacity="0.5" stroke-width="2.0"/>
<path d="M47 12.3l1.1 -.8M53.2 42.1l.6 -1.4M56.8 17.8l-.3 -1.9M4.3 54.6l-.6 -.9M49 29.4l1.4 .3M27.2 37.9l-1 -1.9M2.2 9.4l.1 -1.6M65.5 8.2l1.3 -1.3M5.6 12l1.7 -1.3M23.6 17.4l-1.3 -1.1M36.7 2.5l.5 -2.5M66.9 9.4l-.4 -1.8M73.3 41.4l1 -2.3M42.3 35.8l-.7 -.6M1.8 17.1l.7 -.8M51 8.4l-.1 -2.5l-1.2 -.9M64.2 8.2l1.6 -1.1M63.7 3.5l1.7 -1.2M75.2 21.3l-.7 -.4M36.4 5.9l1.1 0M68.8 8.9l1.2 -.4M52.9 35.9l-.4 -1.4M76.1 21.4l.8 -1.1M3.5 32.2l1.2 -2.3l1.5 -.4M52.4 41.4l-.8 -1.4M12.8 36.4l-.9 -.6M54.3 10.2l1.7 .4" stroke="#eca6f6" stroke-opacity="0.5" stroke-width="2.4"/>
<path d="M53.3 3.5l.4 -1.8M64.7 3l.8 -1.1M53.3 28.6l1.2 -.8M55.1 9l1 -.4M62.7 19.7l-1 -.6M78.1 50.1l1.6 -2M67.8 21.2l-.7 -2.1M19.6 39.5l-.7 -1.5M68 40.5l-2 -1.6M20 52l-.6 -1.8M10.1 24.1l.7 -1.7M33.6 57.4l.9 -1.4M42.6 56.7l1.6 -.6M16.4 14.1l.8 -.7M1.3 7.4l-.2 -1.3M64.5 6.5l-2.1 -1.2l-.6 -1.3M38.3 55.2l1.4 .5M59.5 0l-1.1 -1.3M46.1 38.6l2.5 .4l1.5 -.3M34.5 21l-.5 -1.5M36.9 41l-1.8 -1.3l-1.1 -.8M10.2 3.9l1.1 -.3M34.1 15.2l2.2 1.1l.8 1.3M49.3 8.5l1.5 -1.6M4.1 57.5l.2 -.8M30.7 12.7l1.3 -.1M47.7 30.2l.6 -1.6" stroke="#eca6f6" stroke-opacity="0.5" stroke-width="2.8"/>
<path d="M65.8 26.6l.3 -2.1M26.9 14.7l2 .1M22.8 23.7l.8 -.7M28.4 41.4l.7 -1.1M67.6 6l-.3 -2M66.9 50.9l.7 -1.9M75.3 37.3l1.6 -.8M19 27.9l.5 -.7M22.3 28.9l1.2 -2.3M45 41.6l1.1 -1.6M30.6 50.1l1.1 -.5M46.9 38.6l-.5 -1.2M73.6 8.1l0 -1.8M19.2 53.6l1 -.7M18.7 51.6l1.5 -.8M58.9 55l1.1 .5M56.1 9.6l0 -1.2M33.7 57.4l.8 .3M14.7 34.9l1 .3M39.6 4.6l2.3 .7l1.4 -.3M17.1 46.9l1.2 -1.4M74.7 42.8l2 -.6M50 52.1l.8 .1M21.2 9.8l1 -1.2M41.6 57l1.8 .4M58.7 14.2l1.4 -.4M66.5 36.3l1.5 .1M3 10l-.2 -1M47.8 50.7l1.8 -1.7l0 -1.5" stroke="#eca6f6" stroke-opacity="0.5" stroke-width="3.2"/>
<path d="M47.8 12.3l-1.3 -1.5M42.5 23.1l.6 -.5M70.3 53.5l1.7 -1.4M43.3 42.1l-1 -1.3M49 37.6l1.5 -1.4M2.6 51.7l.4 -2M24.9 50l-1.6 -1.5M37.3 5.9l1.2 0M75.7 24.9l-.5 -1.4M56 13.3l-.5 -2.2l-.4 -1.3M73.9 4.2l-.4 -2.4l-.2 -1.5M3.9 24.7l0 -1.3M38.6 18.7l1.1 -1.5M48.4 .8l2.5 .7M40.2 19.4l-.3 -2.9l-.7 -1.6M28.8 28.1l-1.7 -1.2M31.5 17.4l-.8 -2M3 22.7l1.4 .7M29.2 24l1.7 .6M37.8 8.5l1 -.3M59.8 49l.1 -2.3l.3 -1.3M74.8 40l1 -1M54.4 50.1l1.5 -1.3M13.3 29.5l2.4 -1.5l1.3 -1.1M60.3 53.6l2.1 -1.3M31.9 3.9l.9 .4M21.3 32.4l2 -2.2M18.3 14.7l-.4 -2.2l-.6 -1.2M40.8 35.5l2 .7M23 21.8l2.3 -.9M3.4 31.5l1.8 .3M61.4 42.7l1.1 -2.5l.8 -1.5M56.8 51.1l-1.3 -1.5M55.8 26.1l1.1 -.6M76.5 53.4l1.3 .7M6.5 38.5l1.4 .4M67.7 1.3l-.1 -1.5M6.5 37.7l.3 -2.8M34.6 8.9l.9 -1.1M8.1 19.1l1.3 -2.3M50.6 6.4l.8 -.4M32.9 55.3l.9 .5M73.9 23.2l-.7 -.6M77.6 50.1l1.8 0M67.4 40.8l1.7 -.7M60.9 18l.3 -1.5M3.6 29.4l.6 -1.3M60.7 6l1.6 .7M51.9 14.6l1.7 .9M42.1 7.5l1.4 .1M17.8 .3l1.4 -.3M23.6 32.9l.1 -2.1M58 35.9l-1.9 -1.9M68.9 15.9l.1 -1.4M4.8 58.1l.4 -1.6" stroke="#c448e6" stroke-opacity="0.85" stroke-width="1.6"/>
<path d="M1.6 10.8l2.8 .8l1.7 0M75.8 21.3l2.3 .8M42.9 34.1l-1.6 -2.2M9.2 35.1l-.1 -1.6M57.7 54l1.5 -.6M10.8 19.9l-.2 -.8M26.1 58.6l-.2 -2.9l.2 -1.7M34 34.9l.2 -2.8l1.4 -.9M32.3 51.4l-1.8 -1.9M1.1 53.8l1.4 .8M59.3 4.5l2.1 .9l1.4 .2M20.6 32.1l2.4 .2M19.6 13.8l2.1 .5M67.9 3.9l-.8 -1.1M13.8 8.1l-.2 -.9M46.3 2.5l2.2 -1M23.4 51.7l0 -1.5M51.3 55.5l.3 -1.5M74.4 12.7l1.3 0M45.5 2.9l2.3 -1.9M6.6 43.2l1.4 -.6M74.9 23.9l1.7 .5M42.3 38.3l2 -1.1l1.3 -.4M47.2 37.8l-.8 -.5M20 9.8l1.3 -1.7M2.7 49.8l0 -2.7M26.6 43l-.3 -1.9M66.7 14l.1 -2.6M45.5 13.1l.3 -.9M41 17.9l-.7 -1.6M2.6 3.4l-.7 -1M65.5 46.1l1.8 -1.8M60.2 11.3l-1 -1.7M53.1 54.6l-.5 -2.9M19.8 9.7l2.1 -2M72.8 35l2.5 -1.2M40.1 5.5l-1.2 -1.5M21.7 10.2l-1.3 -1.1M51.5 14.3l.5 -1.8M66.5 42.9l-1.7 -1.7l-1.1 -.9M48.1 32.2l-.6 -2.6l-.1 -1.6M42.6 5.6l2.1 -1.3M2.7 45.8l1.5 -.1M46.1 34.2l-.9 -1.1" stroke="#c448e6" stroke-opacity="0.85" stroke-width="2.0"/>
<path d="M62.3 48l-1.9 -2.2M46.6 14.4l1.7 .4M61.7 33.9l1.2 -.7M75.4 25.6l-.6 -1M67.6 8l2.6 .7l1.6 -.5M69.7 8.7l1.7 -1.8M51.2 54.4l.7 -1.5M74.3 58.1l1.5 0M44.3 2.5l2.4 .4l1.3 .7M34.6 33.9l-.2 -2M59.2 11.7l1.1 -.8M29.9 37.3l2.5 -1.4M66.6 49.8l.5 -1.4M7.7 35l-1.4 -1.1M37.7 17.5l.3 -2.7M16.2 1.4l1.1 -1.7M12.5 29.1l-.3 -.7M4 11.1l1.3 .4M1.9 46.8l.3 -2.5M66.5 36.3l-.5 -.7M8.9 22.6l1.2 .1M47.8 49.6l-.1 -1.2M8.2 .4l-1.6 -1.2M1.3 28.2l.5 -.9M19 17.1l.9 -.4M6 33.3l-1.5 -.9M39.9 50.2l.4 -2.6l.3 -1.6M65.8 2.1l-.6 -1.5M30.5 50.4l3 .3M29.7 2.4l-.7 -2.1M72.1 20.6l1.1 -1.1M62 55l-.3 -1.1M45.7 16.6l2.4 -.3l1.4 -.4M57.3 28.6l.3 -2.7l1.1 -1.2M65.8 1l-1.1 -1.3M20.2 29.6l.8 -.9" stroke="#c448e6" stroke-opacity="0.85" stroke-width="2.4"/>
<path d="M18.7 13.9l1.7 -.3M12.8 7.6l-1.1 -1.5M77.4 30.6l1.5 -.9M40.8 34.4l-1 -.9M16.9 25.7l-.4 -1M15.5 15.3l2.1 -.4M71 8.8l.8 -2M23.3 52.8l1.2 .2M11.5 1.7l.5 -.5M26.4 13.7l.5 -.9M10.2 54.2l0 -2.1M65.4 34.9l.8 -.2M56.5 25.2l.8 -.1M48.6 34.7l-.3 -1.8M12.3 1.2l1.5 -.8M30.6 9.5l-.4 -.6M36.9 33l1.5 -.5M17.9 43l.3 -1.2M37.4 40.3l-.8 -1.4M46.1 26.9l.9 -.9M10.8 19.2l1.5 -1.4M63.2 .8l-.3 -.5M68.1 55l.2 -1.1M6.6 38.9l1.9 -.9M63.2 22.7l1.8 -.9M32.7 .4l.5 .3M53.5 16.1l1.5 -.2M33.4 52.6l-.5 -.5M9.5 7.4l1.4 -1" stroke="#9a24d8" stroke-opacity="0.85" stroke-width="1.2"/>
<path d="M61.4 38.8l-.8 -.5M66.5 10.4l1 -1.6M46.9 32.1l.9 -.4M57.7 47.7l.5 -.2M48.6 30.8l0 -1.6M37.8 4l-.4 -.5M14.2 26.2l-1.4 -1.5M11.4 22.9l-1.4 -1.3M76.6 8.7l.5 -.9M61.4 50l.8 -.8M64.9 57.3l-.5 -1.7M13.3 52l1.9 .8M74.2 54.6l.2 -1M25.5 12.5l.2 -.8M33 27.7l-.3 -1.1M24.3 49.7l-.6 -.5M70.7 3.9l.1 -1M60.2 57.1l1.8 -.3M21.4 .1l-.6 -1.4M76.5 49.3l-.1 -.5M37.2 55.2l2.1 .3M57.8 40.6l0 -.5M.9 25.9l-.4 -.7M64.4 27.9l-1.1 -1.7M21.2 6.6l1.1 .2M36.8 15.9l-.8 -.7M39.8 14.1l-.2 -.8M.8 23.7l0 -.8" stroke="#9a24d8" stroke-opacity="0.85" stroke-width="1.6"/>
<path d="M12.7 22.5l-1.1 -1.6M48.1 41.1l-.9 -1.9M75.4 52.4l.6 .3M15.3 56.8l1.4 .5M2 51.1l1.4 -.4M9.2 30.8l1 .1M4.3 48l.5 -.1M.7 51.1l-.3 -1.3M10.5 55.7l1.1 -1.7M65.4 12.9l-.1 -.8M64.3 8l1.1 -.4M53.2 27.8l1.4 -1.6M52.9 38.8l-.1 -2.1M57.6 18.9l.8 -.5M69.2 19.4l-.9 -1.3M38.8 29l1.2 .3M29.1 44.9l.9 -1.5M6.9 51.5l-1.5 -1.1" stroke="#9a24d8" stroke-opacity="0.85" stroke-width="2.0"/>
<path d="M33.5 1.8l.5 .3M47.1 58.8l1 .3M43.1 35.2l.3 -.5M78.2 58.6l-1.1 .3M58.7 6.8l0 .4M68.6 42.7l.1 1M41.4 13.7l1.1 0M52.4 13.6l.1 .8M46.7 22.6l.8 -.3" stroke="#4a22d0" stroke-opacity="0.85" stroke-width="1.2"/>
<path d="M66.3 57.6l-.6 -.7M66.7 5.7l.7 .7M.4 27.5l-1.1 -.3M58.9 57.1l-.6 .6M30.7 53.6l-.2 -.7M12.6 23l.2 -.3M38.9 11.6l-.4 -.6" stroke="#4a22d0" stroke-opacity="0.85" stroke-width="1.6"/>
</g></g>
<defs><clipPath id="mc2"><rect x="0" y="0" width="78.2" height="58.8"/></clipPath></defs>
<g transform="translate(558.0,48.9)" clip-path="url(#mc2)"><rect width="78.2" height="58.8" fill="#fefaff"/><g filter="url(#mb)" stroke-linecap="round" stroke-linejoin="round" fill="none">
<path d="M3.8 44.6l-1.4 -2.4l.2 -1.7M76.2 11.9l2.6 -.7M33.8 19.3l.9 .7M8.7 19.4l.9 -2.4l.7 -1.4M8.8 48.8l1.1 -1.5M41.6 46.8l-2.2 -2.1l-1.4 -1.1M65.5 15.8l0 -1.2M16.4 43.3l.8 -1.4M14.9 53.9l2.3 1.1M28.8 57.9l1.2 -.4M57.4 54.6l.5 -2.4M37.8 28l1.3 .4M4.6 50.9l1.4 .5M56.1 57.7l2.4 -1.8l.9 -1.5M52 20.4l.5 -2.3M15.1 9.5l1.7 .3M30.6 30.1l.9 -2.6l1.3 -1M46.7 11.8l1.2 -2.2l-.7 -1.4M22.9 10.7l1.2 .4M44.5 41.5l-.3 -1.9M61.4 27.6l2 -1.4l1.5 0M69.3 7.4l-1.6 -2.3M32.6 42.6l1.2 -.6M27.8 29.6l-.8 -2M77.1 36.9l1.3 1M41.3 36.7l2.7 -.6M2.1 41l-.3 -2.6l-.8 -1.3M27.1 57l-.8 -1.4M9.8 15.3l.1 -1.1M47.7 30.1l-.7 -1.4M64.9 38.7l1 .4M19.5 37.3l1.8 -.9M3.7 58.3l.7 -1.9M70.5 25.9l2 -.1M44.8 48.5l1 -2.8l.7 -1.6M53.9 9.3l.1 -1" stroke="#c8aef4" stroke-opacity="0.5" stroke-width="2.0"/>
<path d="M45.5 8.4l-.7 -.9M72.2 11.1l.4 -1.7M71.4 32l-1 -1.5M21.7 22.7l.6 -1.1M5.9 17.6l1.1 .4M37 9.1l.5 -1.1M64.2 35.6l1.4 -1.1M19.1 14.5l1 -1.2M56.7 35.3l1.7 -.4M38.3 21.6l1.6 -2.3M10 49.3l-1.5 -1.5M21 35.3l2.6 -1.3M26 31.4l-.6 -1.5M35 37l.4 -2.1M57.6 21.2l1.7 -1.6l.9 -1M.9 47.8l-.7 -1.6M0 57.6l.7 -1M43 29.3l.7 -1.9M5.7 6.8l1 -.3M41.2 35.9l1.2 .7M20.9 7.2l1.1 -.4M63.2 10.1l1.7 -.4M5.7 32.8l-.9 -1.3M53.8 25.8l2.5 .3M26.1 54.1l1.2 .2M52.7 40.4l1.3 .3M30.3 25.9l1.5 .7M7.9 32.9l.5 -2.3M54.9 2.4l.7 -2.3M41.6 56.3l2.1 1.7M38.3 44.4l-1.2 -1.5M33.3 49.4l-1 -2.5l-1.4 -.9M.6 11.1l1.7 -.2M67.4 13.9l1.8 -.2M14.9 3.6l2.2 -1.2M18.6 54l1.9 -.3M32.7 14.7l1.1 -.2M38.6 41.9l-.6 -2.4l-.5 -1.4M25.8 37.3l1.7 -.6M51.1 27.2l2.3 0l1 1" stroke="#c8aef4" stroke-opacity="0.5" stroke-width="2.4"/>
<path d="M24.1 20.9l.3 -1.6M77.9 5.8l2.4 2l1.9 -.1M43.6 45.8l1.8 .8M23.4 40.4l1.5 -2.7l1.8 -.4M28.9 55.4l1.7 -2.3M24.4 17.1l-.9 -2.2M68.9 3.1l3.1 -.5l.8 -1.7M6.8 57.8l2.4 -1.4M72 46.2l.4 -1.2M5.8 16.3l-1.3 -2.7l-1.6 -.9M10.7 17.5l1.6 .2M21.4 45.8l1.4 .2M30.5 10.9l1 -.8M22.6 12.8l-.3 -2.1M50.5 28l-1.4 -1.8l-1.2 -.6M13.6 8.6l2.6 1.1M16.6 18.5l-.1 -3.1M24.2 18.1l1.3 .9M67.7 21.4l1.9 -1.6l1 -1.1M76.3 11.8l-1.7 -2M21.9 38l-2 -1.9l-1.6 -.4M70.1 10.9l1 .4M11.1 21l1.5 -1.3M25.6 4.9l1 -1.4M69.3 30.1l2.6 .5M77.6 40.8l-1.3 -2.3M45.5 11.8l.8 .7M69.4 49.2l.6 -2.1M47.1 3.7l-1 -1.9M16.7 1.8l1.8 .3M1.2 15.9l-.9 -1.7M24.7 28.6l2.2 -1.9l1.7 -.2M42.5 55l-.7 -.8" stroke="#c8aef4" stroke-opacity="0.5" stroke-width="2.8"/>
<path d="M24.6 26.3l1.5 -.7M23.1 49.7l1.3 -.6M8.2 7.5l1.9 .4M6.3 5.8l-1.4 -1.8M17.7 2.6l-1.2 -1.9M9.7 23.2l1 -.5M54.3 12.4l-.2 -1.2M77.4 9.2l2.8 -.1l1.2 -1.2M24.6 27.1l2.6 -.4M73.5 30.8l.5 -2.9M73.9 13.8l-.3 -1.3M26.2 43l-1.2 -1.2M31.6 2.5l1.7 -.1M50.1 11.1l1.4 .6M23.2 2.4l1.3 -.2M25.6 56.6l-1 -1.6M10.7 56.2l1.3 -2.6M35.2 54.1l-1.6 -2.5M10.8 44.5l.3 -2.8M0 14.5l.4 -1.5M72.1 14.6l1.5 -1" stroke="#c8aef4" stroke-opacity="0.5" stroke-width="3.2"/>
<path d="M40.4 34.2l-.6 -2.9l-1.6 -.7M30.4 55l3.1 .6l1.9 .5M38.2 32.4l1.2 -.4M32.2 4.8l2.3 .1M37 48.2l3.3 .4l1.9 -.6M16.6 23.6l1.7 .7M50.7 35.6l1.2 -.7M28.3 43.5l1 -2.4l-.8 -1.3M70.5 41.1l2.8 -.4l1.4 -.9M70.1 27.2l1.8 .1M25.8 6.3l2 -1.7l1.5 -.2M68.1 11l2.6 .8l1.4 .8M72.4 19.2l.7 -1.4M35.5 13.2l1.1 -2.9l-.2 -1.9M41.5 15l1.8 -2.3l.1 -1.8M44.2 21.8l-.6 -2M31.6 39l1.4 -.8M51.9 50l-.2 -2.6M5.9 45.1l-.5 -1.6M18.3 29.5l.9 .3M24 54.9l1.4 -1.5M30.1 17.5l1.8 1.4M24.7 7.1l-2.2 -1.9" stroke="#9468e6" stroke-opacity="0.8" stroke-width="1.2"/>
<path d="M10.9 27.9l-.1 -2.9l-.1 -1.8M21.1 48.5l2.2 -.9l1.4 0M39.5 55.1l.7 -2.3M25.1 39.4l1.5 .9M49.1 37.3l1.3 .8M48.7 2.1l3.2 .7l1.8 .8M21.5 51.9l-.6 -.9M71.4 49.3l.7 -.8M1 56l2.1 .3M27.1 13l.2 -1.8M38.9 41.9l-.7 -2.6M54 41.8l-2.4 -2l-1.9 -.2M21.1 51.4l2.9 -.7M.9 12.4l2.3 -.6l1.3 .4M60.4 45.3l2.3 -1.7l.3 -1.7M8.8 3.8l.6 -2.9l.3 -1.7M73.3 3.5l-.1 -3.1l0 -1.9M28.8 42.1l2 -.3M26.4 45l2.3 .6l1.3 .5M76.6 22l1 -.6M16.6 21.4l2.3 -.2M19.3 16l2.1 0M3.8 44.7l2.6 .7l1.5 .6M28.8 44.4l2.2 -.3M51.4 34.1l2.8 1.3M67.1 31.8l.6 -.9M10.3 4.1l2.2 -.2M69.1 58.2l-1.2 -3l-1 -1.7M5.2 16.2l1.4 .7M3.9 28.2l.8 -2.5M50.1 .8l-1.7 -2.6M49 5.1l3.1 .3M41.7 29.5l1.5 -.4M31.5 47.3l2.2 -.9l.6 -1.3M12.6 9.3l-.1 -1.7M34.5 36.7l.7 -2M9.1 30.8l3.1 1.1l1.2 1.6M68.2 19.9l1.7 .5M77.6 14.1l2.2 1.5l.8 1.3M49.1 44.5l-.4 -1.3M30.9 35.9l1 -.8M27 25l1.6 -.7M14.2 27.8l2.4 -1.2l1.5 -.5M25.5 5.6l2 .9M13.4 3l-1.3 -1.2M16 58.1l2.4 -2.3M5.9 33.1l1.5 -.3M21 56.6l1.5 .8M74.1 33.3l2.4 -.1l1.1 -.9M60.5 51.6l2.4 -.7M72.9 10.4l2.1 1l.9 1.1M23.8 55.2l-.4 -1.1M3.4 3.8l-.7 -1.2M7.2 28.5l2.9 -1.1l1.9 .2M53.8 31.3l1.6 -2.3M47.8 37.8l1.6 -2.6l1.7 -.7M22 34.1l1 -2.9l-.5 -1.8" stroke="#9468e6" stroke-opacity="0.8" stroke-width="1.6"/>
<path d="M30.6 44.5l1.1 -.2M60.4 24.3l1.1 -.4M13.7 55.3l.8 -.7M30.5 38.6l2.7 .7M26 7.7l1.5 -2.7l.2 -1.8M41.2 43.2l-.9 -1M76.6 13l3.1 -.4l1.5 -1.2M10.5 18.6l-1.2 -2.7M13.5 55.2l3.3 .6l2 -.4M52.7 28.4l2.4 2l1.9 -.1M17.9 55.4l1 -2.1l1.2 -.7M26.7 36.1l1.5 -.6M25.1 50.7l0 -1.2M59 9l2.4 1.8l1.2 1.3M9.3 34.2l-.9 -1.5M44.8 13.5l-1.4 -2.4l.5 -1.6M77.3 19.3l2.5 -.9l1.3 -.9M71.2 21.3l-2.1 -2.6l-1.4 -1.4M33.7 17.2l-1.7 -2.3M60.2 28.6l.9 -.5M73.5 13.1l-.7 -2.9l-1.6 -.7M25.5 3.1l1.7 -.6M10 5.3l2 -2.3l.4 -1.8M40.8 24.4l1.2 -.7M36.1 21.6l1.1 -.6M32.7 42.2l-.4 -2.7M77.6 18.2l2.2 -.4M16.4 28.8l-1.2 -3.1M17.3 15.9l2.4 -.3l1.1 .9M.5 37l-1.1 -2.6l-.4 -1.6M41.8 37.6l-2.4 -2.3l-1.8 -.8M76.2 14.2l1.2 .5M37.9 51.2l3.3 .9l1 1.8M24.5 50l-1 -2.5l-1.1 -1.2M67.8 8l1.1 -.2M4.4 5.4l-.1 -1.3M31.1 32.5l1 -.3M70 3.7l.5 -2.1M41.2 52.7l1.3 -.2M46.3 23.9l-1.1 -1.8M61.1 35.3l1.2 -1.2M73.8 44.9l1.8 .9M33.9 44.9l.4 -1.2M33.9 48.1l2.7 1.4l1.7 .7M27.9 4.6l2.6 1.2M43.2 37.6l-1.1 -1.8M37.2 31.6l-1 -1M33.2 41l2.9 -.4M34.6 37l1.4 -.7M28.7 47.1l2.8 -1.3M12 43.6l.6 -2.8l-1 -1.4M62 49.9l-.7 -3.1l-.9 -1.7M38.6 46l2.6 .8M25.7 38.9l.3 -1.9M11.3 25.5l-.2 -1.5M40.8 25.5l1.2 -.8M70.7 12.8l1.6 -1M44.7 7.6l.6 -1.2M14.9 27.5l2.3 1.9l-.1 1.8M8.9 11.3l1 -1.5M30.8 41.8l2.4 .3l1.5 -.1M12.2 17.3l2.1 .2M74.2 14.7l2.3 -2M36.2 33.5l-.8 -1.9M56.2 41l-2.1 -2M20.8 48.7l.9 .5M19.1 32l2.6 -1.5l1.8 .4" stroke="#9468e6" stroke-opacity="0.8" stroke-width="2.0"/>
<path d="M32.7 5.2l1.9 .9M28.8 22.7l1.4 0M30.2 13.1l-2.1 -1.8M30.7 28l2.3 -.9M1.7 38.5l-.8 -3l.5 -1.8M18.7 56.2l1.5 -1.9l.4 -1.4M29.5 4.8l-1.5 -2.1M65 9.5l3.1 -.4l1.9 .2M4.9 23.1l1.3 -2.8l.7 -1.7M5.5 23.8l.1 -1.1M40.5 7.3l2.7 -1l.9 -1.5M71.9 34.2l-.7 -1.3M45.2 29.7l1.1 .6M5 34l1 -1.1M43.8 46.5l.9 -1.8M77.9 1.7l1.9 .4M34.1 30.1l1.3 -.3M40.3 24.1l2.6 1.7l.7 1.7M5.2 10.6l.8 .7M14.8 18.2l.8 -1.5M24.8 4.5l1.6 -.3M73.9 39.6l2.9 .7M31.5 55.6l2.9 -1.3M25.9 37.9l3 -1.4l.5 -1.9M72 25.4l3 .3M41.4 55.4l3.1 -1.3l1.9 -.6M10.3 45.4l1.4 -1.8l-.2 -1.3M11.6 35.9l.2 -1.3M43.6 10.9l1.5 -2.1l-.4 -1.5M9.2 49.4l-.8 -2.2l-1.3 -.6M43.2 26.7l-.1 -1.6M20.8 55.8l1.9 -.9M31.7 32.5l-1.3 -1.7" stroke="#9468e6" stroke-opacity="0.8" stroke-width="2.4"/>
<path d="M5.1 25.1l.1 -1.7M2.2 35.6l-1.3 -1.6M76.2 15.5l-.8 -2.4l-.9 -1.2M34.8 31.5l-.4 -2.2M18.5 2.8l.6 -1.3M27 36.5l1.4 0M71.3 49l.3 -1.8M1.1 18.7l1.4 -.2M61.5 25l2.2 .4M36.7 32.1l.1 -1.3M2.8 15.6l1.2 -1.5M25.4 46.6l.8 -1.6M69.1 12.1l-1.3 -1.4M18.8 41.5l.6 -1.1M57 7.3l2.1 -.4M70.2 46.1l-.8 -1.2M.6 10.8l-.5 -.6M20.5 51.9l2.2 .2M54.9 33l1.8 -1.1M6.8 39.2l.1 -2.5l1.1 -1M14.7 38l1.1 -1.8M9.4 40.5l1.6 -1.1M15.9 7.7l.9 -2.2l1 -1.1M4.1 22.6l-1 -1.3M60 13.4l.8 -.6M43.6 15.1l.8 -.9M57.5 49.8l1 .2M15.2 17.4l1.2 -2M35.3 .1l1.6 .2M62.6 25.2l1.9 -1.4l1.3 -.6M20.3 9.9l-.3 -1.1M17.6 44.6l2.3 -.8l.6 -1.3M55.9 18.4l.1 -1M30.3 36.4l1.4 -1.4M33.9 53.8l1.1 -1.5M32.5 41.8l2.3 .2l1.3 .6M36.6 16.4l-.9 -1.8M57.3 39.5l1.2 -.3M38.1 33.9l1.9 1.5M15.7 33l1.4 -1M34.6 55.1l0 -1.3M70 15.2l.7 -1M26.4 45.6l.5 -1.6M28.9 41.8l-1.3 -1.4M7.3 36l0 -2.1" stroke="#6a3cde" stroke-opacity="0.8" stroke-width="1.2"/>
<path d="M47 15.6l1 -.1M11.3 47l-1 -2.1M59.1 22.9l.9 -.1M14.2 32.3l-.5 -1.8M2.7 14.2l-.7 -.7M51.3 20.7l.7 -1.8M76.6 3l-.7 -1.6M22.4 53.1l2.3 -1.3M36.5 14.1l.5 -.9M69.2 51.1l-.9 -2.3l-.3 -1.5M9.5 15.1l-1.4 -1.9M21.2 55.9l.3 -1M34.9 52.9l-1.1 -2.3l-.5 -1.5M5.6 4.5l2.1 .9l.7 1.1M66 27.7l-.5 -1.9M32.1 49.6l1.1 .3M47 20.8l.7 .4M1.1 48l2 1.2M47.8 57.5l.5 -2.1M29.7 42.9l1.6 .1M4.6 13.3l.7 -.9M57.3 10.6l2.4 -.9l.4 -1.5M16 9.8l-1.7 -1.8M59.4 45.2l.9 -.6M70.6 2.8l1.9 .5M40.5 22.6l2.3 .2M34 44.6l1.4 -1.1M38.1 27.2l-.8 -1M62.8 48.8l.8 .5M57 15.8l2.2 -.1M9.6 16.4l.8 -1.8M38.7 37.5l1.3 .2M31.7 48.5l1.2 -.1M51 55.4l1.9 -.8M6.4 40.9l-.2 -1M38.6 52.8l-.2 -1.4M48.4 36.6l.2 -1.4M15 5.5l-1 -1.3M8.4 40l1 -.2M4.1 8.2l.8 .6M58.8 47.3l1 -1M68.8 21.1l-.7 -1.6M40.2 37.5l.4 -2.1M63.1 26.4l-.4 -1.6M.7 48.1l2.3 -.6" stroke="#6a3cde" stroke-opacity="0.8" stroke-width="1.6"/>
<path d="M33.3 22.2l.5 -1.3M32.6 46.6l.8 .6M31.2 20l.4 -1.9M47.8 24.7l.8 .6M2.6 30.1l1.5 -1.5M15.2 37l1.2 1M44.3 19.1l2.3 -.4l1.4 -.2M23.5 1.5l.1 -1M14.1 50.9l1.6 -1.9M17.5 5.9l1.2 -1.2M41.3 17.8l.9 .6M8.7 46.2l.1 -2.4M15.5 43.9l1 -1.2M38.6 58l1.6 .4M47.4 19.3l.8 -.6M8.3 17.3l.3 -.8M66.6 49.3l.8 .2M61.5 41.2l1.1 -1.2M72.6 57.1l2.3 -1.1l1.4 -.6M71.8 23.7l.5 -.7M52.2 33.5l1.9 1.3M.6 34.8l1.6 .2M10.6 30.2l1.9 -.9M17 33.1l2 0M61.3 40.5l-1.1 -.9" stroke="#6a3cde" stroke-opacity="0.8" stroke-width="2.0"/>
<path d="M16 4.4l.4 -.7M19.6 42l-.9 .6M33.7 48.4l-.3 .6M14.7 54.5l-.1 .6M36.9 49.1l.7 .7M48.9 16.9l-.7 .7M51.5 12.9l.1 .3M76.5 42.7l.6 1M20 45.8l.6 .4M17.4 14.1l-.1 .3M61.4 1.2l.3 .6M27.9 47.6l-.4 .7M55.9 14.7l-.5 -.1M30.8 36.4l.9 -.3M36.9 39.9l-1.4 -.2M69.1 19.4l-.9 .1" stroke="#4428d4" stroke-opacity="0.85" stroke-width="1.2"/>
<path d="M23.9 48.3l-.7 .1M3.1 4.9l-.3 -.1M71.6 10.6l.6 -.7M45.2 46.5l.8 -.4M29.2 50.9l-1.1 .6M66.4 24.5l.6 -.1M30.4 55.9l0 -1.1M19.6 53l.4 .3" stroke="#4428d4" stroke-opacity="0.85" stroke-width="1.6"/>
</g></g>
<defs><clipPath id="mc3"><rect x="0" y="0" width="78.2" height="58.8"/></clipPath></defs>
<g transform="translate(393.9,128.8)" clip-path="url(#mc3)"><rect width="78.2" height="58.8" fill="#fffaff"/><g filter="url(#mb)" stroke-linecap="round" stroke-linejoin="round" fill="none">
<path d="M46.3 58.7l1.5 -.7M3 25.8l1.6 .4M9.5 17.7l.3 -1.5M40.4 27.9l2.1 -.9M23.9 48.8l.9 -.7M34 20.6l-1.3 -.9M69.5 57.9l-.1 -2.8M5.7 55.1l1.8 .1M36.2 45.1l-1.2 -2.1M39.2 7.4l1 .1M57.2 25.2l2.5 -.5l1.5 .2M18.4 30l.8 -.6M60.5 10.8l.4 -1.1M54.8 46.9l2.7 .1M63.2 33.5l.4 -1.9M56.6 36l-1.1 -1.4M20.2 56l-.5 -1.8M73.7 50.5l1.8 -2.1M6.2 23.9l-1.2 -1.4M45.9 43.1l1.6 -1.7M19.9 35.8l-2.4 -1.7M59.6 23.9l.9 -2.6" stroke="#f2a6f8" stroke-opacity="0.5" stroke-width="1.6"/>
<path d="M27.1 40.5l0 -1.3M25.9 31.3l1.7 -.5M51.4 53l2.3 -.5M28.7 49.1l.9 -.5M57.7 15.2l-1.3 -2M59.3 31.7l1.6 -1.7l1.4 0M16.8 35.4l-1.6 -1M63.5 31.4l-1.3 -1M57.3 48.2l.4 -.9M29.3 9.2l-1.1 -2.4l-.9 -1.3M2.1 31.3l-.1 -2.6M27.6 7.8l1.7 -.3M40.1 4l1.2 -2.5l1.5 -.7M40.7 46l-.2 -1.3M46.9 27l-1.2 -2.3l.3 -1.5M57.6 11.7l2.5 1.3M29.4 1.2l2.2 -1.3l1.2 -.9M65.2 34.9l-.8 -2M63.9 53.9l.8 -2.3l-.1 -1.5M39.8 3.5l.2 -2.6l.4 -1.5M68.1 27.4l-.5 -.9M11.5 23.9l0 -2.9M52.7 43.1l-1.2 -.7M23.4 42.5l.5 -1.1M2.9 6.8l1.5 -.7M52.6 14.6l1.3 -2.4l-.7 -1.5M5.4 16.7l2.4 -1.2M67.9 33.1l2.7 .5l1.1 1.2M36.5 24.8l1.5 -1.1M19.5 7.7l1.5 -1.1M71 50.7l1 -1.4M15.8 55.8l1 -.3M.9 16.3l1.6 -1.9M47.1 51.3l1.5 -1.4M18 54.6l1.9 -.9" stroke="#f2a6f8" stroke-opacity="0.5" stroke-width="2.0"/>
<path d="M13.5 42.2l.4 -1.6M45.1 32.3l-1.4 -1.6M46.6 7.8l1.8 -.5M19.6 44.7l-.2 -1.7M8.8 13.3l.1 -1.1M72.6 52.9l.6 -1M66 40.5l-1.1 -1.9l-1.2 -.7M44.7 52.4l.1 -2.8M2 27.2l.5 -1.6M61.3 49.4l1.4 -1.4M77.1 26.3l.6 -1.7M31.7 25.6l-1.5 -2.5l-1.1 -1.4M14.5 3.3l1 -2.7l-1 -1.5M46.4 14.1l-1.3 -1.7M46.9 45.3l.7 -1.9M58.7 42.5l-1.6 -1.9M67.6 35.4l1.1 -1.1M30.2 50.1l1.9 -.2M39.1 56.7l-.5 -1.2M38.6 41.9l1.7 -1.4M73.3 41.3l-.3 -2.6l-1 -1.2M18.4 39.5l2.5 -.8l1.5 .4M74.9 49.8l-2.2 -1.3l-1.4 -.6M.1 30.1l.2 -1M68.4 55l.3 -1.1M41.2 2.2l-.6 -1.5M32 4.4l1.1 0M63.1 48l1.6 -1.5M61 46.5l2 .3M15.6 35.6l1.5 -1.5M8.4 12.6l-2 -1.9M32.7 34.9l.9 -1.5M57.4 17.1l-2 -1.5M58 11l2.4 .4M75.4 44.6l2.7 .9l1.1 1.3M53.1 16.5l.6 -.9M42.1 48.3l2.3 -1.4l1.2 -1" stroke="#f2a6f8" stroke-opacity="0.5" stroke-width="2.4"/>
<path d="M10 35.9l-.3 -1.8M2.7 11.6l0 -2.4M34.4 33.7l-1.2 -1.9l.2 -1.3M14.7 39.2l-1.2 -.8M44.7 42.6l-.1 -1.1M19.1 16.6l.7 -2M31.4 31.2l-.7 -1.1M42.6 8l1.1 -1.6M8.4 43.6l.2 -2.1M6.7 57l1.4 -1.7M25.7 26.3l-.7 -2.1M12 26.9l1.1 -.6M12.8 44.6l.9 -1.9M7.7 14.7l1.4 -.8M15.1 12.8l1.2 -.3M16.4 32.5l.6 -.8" stroke="#f2a6f8" stroke-opacity="0.5" stroke-width="2.8"/>
<path d="M45.4 42.4l2 -.4M45.8 41.8l2.1 .1M54 30.8l-2.4 -2.4l-1.3 -1.5M59.8 39.1l1.2 -2.7M17.7 52l-2.3 -3.3M67.9 37.9l1.2 -1.2M10.7 30.9l3.3 -1.1M61 52.7l2.2 -2.2l1.4 -1.2M60.2 8.9l2 .4M15.8 .5l1.2 -3M2.9 19.2l-1.4 -.9M76.5 8.6l3.7 .6M14.6 12.3l2.7 -.6M39.7 33.2l0 -2.8M35.4 54.6l2.9 .9M16.1 39.1l2.2 -.8M64.2 32.4l1.6 -1.7l-.2 -1.4M78.1 23.2l-.6 -2.6l-1.4 -.8M3.2 5.7l1.7 -2.4M39.9 30.2l3.4 1l2 -.6M54.9 20.7l1.2 .4M49.7 45l1.6 .2" stroke="#dc48ea" stroke-opacity="0.85" stroke-width="0.8"/>
<path d="M4.1 2l2.7 .2M33.9 43.5l-.5 -1.3M33.3 49.5l2.7 1.1M54.3 52.4l2 -2.5M10.2 34.6l2 -1.7M71.7 40.6l-1.8 -2.5l-.3 -1.8M76.6 13.7l-1.1 -.8M33.4 16.3l.4 -1.2M77.9 57.8l1.8 -1M54.1 10.5l.8 -2.5l.7 -1.4M69.4 54.4l3.1 -1.9l2.1 -.6M5.9 12.3l1.8 -2.5l-.2 -1.8M20.3 42.6l1.9 -2.6M75 32l.8 -3.5l.1 -2.1M59.5 9.5l.4 -1.2M36.9 51.6l1.8 .1M73.5 38.2l-.1 -1.7M51.1 44.9l2 -2.9M69.1 58.6l2.1 -1.3M56.5 47l3.9 .9M13.8 3.8l-2.6 -1.8l-1.9 -.1M61.6 37l.6 -2.2l-.6 -1.2M11 46.3l2.6 1.2l1.7 .4M55.9 53l-.9 -1.2M25.5 39l2.2 -3.3l1.9 -1.4M48.9 31.1l-2.7 -2.2l-1.9 -1M44.7 28.4l-.9 -1.8M48.8 7.9l1.7 -.6M32.7 21.5l-1.1 -.7M11 11.4l1.9 -2.4l-.4 -1.8M14.6 15.6l1.2 0M8.9 18.3l-.1 -2.2M72.9 47.8l-2.5 -1.9l-1.9 -.1M9 20.1l1.9 -1M16.3 17.2l.7 -1.6M24.5 56.2l1.5 -1.4M4.5 26.4l-1.7 -3.2M64.3 6.6l1.5 -2.4M77.4 38.8l-1.6 -1M23.1 32.6l-1.1 -2.5M20.3 11.2l3.1 .7M62.7 39l-1.9 -3.1l0 -2.2M22.2 45.6l2.1 -1.4M70.9 19.5l-.9 -3.4M.4 53.8l1.4 -1.6M34.2 7.1l.7 -2.5M69.3 8.9l3.8 -.6M44.5 28.1l2.6 1.2l1.7 -.4M16.4 37l-1.6 -1.7M37.8 41.9l-.9 -2.5M74 54.6l-1.1 -1.4M58.4 26l.3 -1.8M64.3 4.9l3.5 -.5M56.5 47.4l0 -1.8M7.3 58.6l-2.2 -1.6l-.4 -1.6M53.7 5.8l2.7 1l1.6 .5M16.6 2l-.9 -1.3M23.7 11.4l1.4 -.5M33.2 22.8l3.5 -.3M18.6 41.4l2.2 -1.8M20 38.7l1.1 -2.8M39.8 57l-1.2 -2.4l-1.5 -.6M5.9 54.9l1.3 -.2M26.1 38.8l3.2 0l1.4 -1.4M75.1 50l2.6 -1.5M20.2 26.8l-2.5 -2.3M32.7 42.1l1.3 -.2M60.7 1l-2.2 -1.9l-.4 -1.7M51.2 57.6l-1.6 -1.4M14.6 18.1l-.4 -3.2M8.4 50.9l1.5 .1M53.8 54.6l1.8 .8M38.1 29.3l-1.8 -1.9l-.3 -1.5M14.4 13.8l1.6 0M17 22.1l1.3 .5M74.7 25.8l1.5 -2.4M3.6 43.9l-2.2 -2.8l.2 -2.1M58.5 50.6l2.1 -.6M9.3 28.7l1.6 -1.5l1.2 -.5M64.8 45.5l-2.2 -1.5l-1.5 .5M59.8 14.1l3.2 0M37.9 13.9l-.2 -3.1l.8 -1.6M14.1 52.1l.8 -3.9l-.8 -2.2M76 3.5l3.3 .2M22 26.1l1.6 -1M45 46.4l-.4 -3.9l.8 -2.2M74.4 6.5l-1.6 -2.4l-1.6 -.8M13.1 42.8l3 1.4M16.9 52.1l-2.1 -1.6M47.4 37.5l1.8 -1M58.6 2.1l1.3 -2.6l-.3 -1.7M75.4 10.8l2.2 .1l1.3 -.3M74.1 35.5l2.8 -1.5M38 38l1.4 -3.5l2.2 -.6M42.3 34.8l2.2 -.4l1.4 -.1M14.3 47.4l-2.8 -2.7l-1.5 -1.8M.7 45.1l2.6 1.1M39.4 32.4l.4 -2.8l.6 -1.6M67.4 43.8l-1.4 -1.7M77.2 56.7l.9 -.8M44.5 46l2.5 .6M19.1 58.5l-1.7 -2.5M33.8 30l.6 -2.5l-.4 -1.5M53.8 39l3.4 -2M30.3 44.7l2 .8M57.8 40.3l1.4 .3" stroke="#dc48ea" stroke-opacity="0.85" stroke-width="1.2"/>
<path d="M15.8 12.2l1.3 .2M36.7 44.7l.2 -2M22 30.3l1.6 -1.3M33.1 22.8l-1.9 -1.6l0 -1.5M45.6 24.6l2.5 -1.4l1.6 -.5M18.9 26l2.8 -1.2l1.8 -.4M67.5 30.1l0 -3.1l.6 -1.7M58.7 26.2l2.1 -.1M50.7 51.3l1.8 -1.4M14 7.4l1.3 -3.5l1.8 -1.3M8.1 17.2l1.9 .9M35.5 27.6l-1.8 -2l.2 -1.6M56.7 43l2 .7M67 13l3.5 2l1.9 1.4M33.8 39.3l.8 -1.1M22 22.1l-1.4 -1.4M61.9 9.9l-.7 -1.4M18.3 11.4l1.5 -.5M34.3 33.4l-2.1 -1.2M46.3 55.5l2.5 -1.7l1.8 0M33.3 .5l.2 -2.2M42.3 9.5l-.7 -2.5l-.2 -1.5M3.5 35.5l-.6 -1.3M62.8 39.3l-1 -3.8M39.2 24.3l1.2 -2.6l-.3 -1.7M60.9 28.7l-.5 -2.2l-.5 -1.3M62.1 41.3l-1.2 -3.8M5.3 22.1l2.3 -.3l1.3 .5M56.6 21l1.2 -.2M32.9 14.9l2.1 -3.3M77.5 25.9l1.8 .6M9.9 3.7l1.8 -3.3M.4 24.6l3.7 .8M30.6 34.4l-1.3 -1.1M67.2 15.9l1.9 -1.9M75.9 28.7l.1 -1.6M16.6 43.8l-.5 -1.4M16.9 .5l3.7 1.3M4.2 25.2l3.4 .6M39.2 11.1l3.4 1.8l2.3 .4M65.2 4.1l1.5 -1.6l.5 -1.2M33.6 21l-1.1 -2.9M73.2 27.4l2 -2M53.8 56.8l-2 -2.7M33.3 54.5l1.5 -1.5M72.7 30.9l1.5 -3.4M50.6 12.7l1.6 0M44.4 53.5l1.4 -.4M26.8 39.2l3.8 0l2.3 -.1M38.7 25.7l2.6 -.6M41.7 32.1l2 -2l.8 -1.5M43.3 36.8l-.6 -2.7M.7 53.1l2.4 -.3l1.3 -.6M1.1 23.6l1.9 -2.6l.3 -1.9M5.3 .1l-.8 -1.4M44.9 52.2l2.8 -.8M23.6 28.5l.8 -1.6M19.3 12.5l.1 -1.2M14.3 55.8l-.9 -1.2M50 51.1l-1.1 -1.8M73.4 9.9l2.5 -.1M16.4 29.6l2 .3M19.7 14.3l2.2 -.5M18.1 17l1.2 -.2M50 57.2l-1.4 -1.2M67.2 47.4l2.7 -1.2l1.7 0M2.2 52.6l-.4 -1.7M47.4 5.8l2.3 -.1l1.2 .8M48.5 50.1l-2 -2.7l-1.9 -.5M48.8 24l-1.5 -3.4l-.8 -2.1M66 56.1l-2.2 -2.7l.2 -2.1M50.2 4.7l3.3 -1.2M20.7 11.1l2 -.6M56.6 53.9l1.5 -.4M25.4 39.9l1.3 -.8M27.1 52.7l2.1 -.9l.7 -1.2M76.4 5.6l-1.3 -2.4M10.3 46.7l-.7 -2.6l-1.2 -1M23.1 34.4l-.8 -1.1M19.3 47.2l-.5 -2M5.8 40.3l1.3 -1.7M23.3 21.3l1.4 -3.4l-.2 -2.2M23.7 45.5l-.9 -3.9M76.9 43l1.7 -3.2M73.4 46.4l1.3 -.6M35.5 41.2l-1.1 -1.9l-1.3 -.2M35.6 36.6l3.7 .4M26.9 28.7l2.4 -2.1l1.9 -.4M28.8 19.4l-.3 -3.1M14 14.7l.4 -1.5M21.4 15.3l3.6 -.2M45.4 29l2.8 -1.6l.8 -1.8M60.9 52.7l1.8 -1.5" stroke="#dc48ea" stroke-opacity="0.85" stroke-width="1.6"/>
<path d="M5.6 15.7l1.4 -2.1M46.5 52.4l3.5 1.4l2.2 .6M3.4 26.9l-1.1 -1.8M63.4 6.6l-1 -.6M25.7 28.3l1.7 -3.5M37.4 32.4l1.6 .8M54.3 39.6l-2 -3.3l-1.4 -1.9M16.2 26.1l-.4 -3.9M51.5 3l2.4 -.4l.9 -1.2M62.8 8.9l-1.3 -2M32.6 56.3l1.4 -1.8l.5 -1.3M64.7 18l1.2 -.6M10.7 46.1l-1 -1.4M35.2 35.3l-1.7 -2.3M21.3 39.3l3.3 .7l1.2 1.7M74.9 42.8l2.3 -1.3l.5 -1.5M15.5 36.1l2.5 -1.2M56.9 1.6l-.5 -1.2M55.5 53.1l-1.4 -1.3" stroke="#dc48ea" stroke-opacity="0.85" stroke-width="2.0"/>
<path d="M3.4 10.6l-.9 -1.9M22.2 2.6l.7 -.8M28 35l1 -1.6M7.8 56.4l2.8 .1M23.8 17l2.5 1.2l1.4 .9M5.3 43.5l1.5 .1M48 46.1l1.5 -.4M52.8 56.5l-1.5 -2.7M75.4 32l.2 -1.6M51.1 10.2l-1.9 -1.2M.4 18.9l-.2 -1.6M23.6 39.5l-1.3 -.9M33.2 53.2l-.7 -1.6M63.9 19.4l1.8 -2.2l.1 -1.7M49.6 54.7l.4 -2.4l-.1 -1.4M43.4 47.5l1.7 -1.1M57.9 49.1l1.2 -2l1.3 -.6" stroke="#c024e0" stroke-opacity="0.85" stroke-width="0.8"/>
<path d="M35.5 .6l1.7 -.5M4.7 5.9l1.6 .5M23.6 7.6l1.1 -1.3M66.8 .7l-1.1 -.6M38.8 15.9l2.1 -.4M55.4 32l1.2 -2.7M60.8 54l1.4 .1M38.4 42.8l.7 -.9M13.3 45.1l2.5 1.2M49.8 17.6l1 -1.1M38.6 36l1.7 -.3M74.5 42.9l-1.1 -1.5M59.4 17.6l2.7 -1.4l1.1 -1.5M53.9 35.9l2.2 -.6l1.1 .8M70.9 52.1l3.3 -.8M13.2 5.8l1.2 .6M63.4 52.6l1 -.5M23 27.5l-2.5 -1.7M77.2 54.9l1 -.5M46.1 55.8l1.6 -.1M42 1.8l-2.2 -1.5l-1.5 -.6M54.5 27.9l.8 -1.7M10.2 32l2.1 -1.7M71.1 26.3l-1.6 -1.3M18.7 42.8l1.5 -1.7M9.2 57.9l1.4 .5M22.9 7.3l-1.6 -1.3M51 9.8l1.9 -.2M30.6 9.7l-1 -2.9l-.8 -1.7M45.2 51.3l2.2 -1.5l.4 -1.6M21.5 30.5l-.2 -1.1M24.8 38.4l2.1 1.1l1.3 .6M7.6 9.7l1.2 -1.2M37.2 30.3l-.9 -2.6M65.9 41.2l-.6 -2.2l.9 -1.1M75.2 17.9l2.4 1.1l1.6 .1M59.4 5.5l2 -1.7M15.4 34.2l.7 -2.3M61.8 51.9l1.2 -.1M36 38l.5 -1.4M32.7 24l-1.3 -2.7M27.2 51.6l3.3 .6l2 .1M17.6 15.5l3.2 .9M13 10.8l-.9 -2.9l-1.7 -.6M4.5 55.8l1.7 -1.3M19.1 37.7l-.3 -1M47.6 50.9l-.8 -3.1l.4 -1.9M63.6 44.1l-.6 -2M3.7 42.9l2.7 1.1M1.9 13l2.2 .6l1 .9M49.3 47.8l2.9 -1.5M16.4 41.1l-2.4 -1.7l-1.6 -.7M8.5 33.4l2.8 .6M9.8 52.4l1 -.7M52.8 8l2.9 1M50.6 24.5l1.2 -1.5M69.1 49.6l.4 -2.1M65.7 49.7l1.1 .2M59.1 43.8l1.3 -.8M64.7 .8l-1.9 -1.3l-1.4 -.1M47.1 22.1l-1.5 -1.9l-.7 -1.3M25.3 45l-.2 -1.2M19.6 54.8l.7 -1.1M6 18l-.8 -1M25.3 3l-.4 -1.3M1.9 4.4l1 .2M41 55.9l-.4 -2.6l-1.3 -.9M54.7 3.2l1.6 -.3M55.1 55.2l-.3 -1.4M13.6 19.9l-.1 -3l-.6 -1.7M31.9 56.9l-2 -2.2M36.2 26.6l1 -2.7l1.3 -1.2M67.6 46.1l.9 -.5M74.7 38.8l1 -.8M64.7 28.7l2 .8" stroke="#c024e0" stroke-opacity="0.85" stroke-width="1.2"/>
<path d="M.9 20.6l.3 -2M28.9 11.5l2.8 -.9l1.4 1M37.7 14.8l-.2 -1.9M29.6 33.8l2 -2.7M36.8 27.9l.4 -2.9l1.3 -1.1M64.7 57l.4 -2.6l-.7 -1.5M48.7 8.8l-.7 -2M59.5 32.2l1.2 -1.2M39.4 38.9l.9 -1.1M23.5 35.7l-.8 -2M70.5 11.1l.4 -1.8M34.9 10l-.3 -1.5M35.1 31.7l0 -1.8M51.4 55.7l1.3 -.1M23 10.5l2.2 -1.6l1.5 -.7M66 33.9l2 -1.2l1 -1M5.1 3l-.8 -1.2M53.3 4.6l1.5 .3M16.1 14.2l1.8 -.1M13.9 8.4l-2.3 -1.5M18.3 15.8l.7 -1.3M4.1 3.6l1 -.4M63.7 53.2l-1.1 -1.8M53.8 33l1.4 .3M29.9 53.4l2.1 -1.8l1.7 0M48.7 36.1l2 .4M10.8 46.6l-1.3 -.8M56.4 41.8l1.5 -.3M13.5 43l1.8 -1.8l.1 -1.5M60 3.1l2 .2M20.1 1l-1.3 -2.1l-.9 -1.2M23.9 53.1l3.2 -.4M22 36.6l1.2 -2.9l1.5 -1.2M33.5 22.8l-.7 -.9M40.4 22.1l1.8 -2l.3 -1.6M43.5 5.9l-1.7 -2l-.8 -1.4M46.9 20.5l2.8 -.1l1.5 .8M62.3 46l-1.4 -1.5M73.9 18.2l-.3 -3.1l1 -1.5M35.9 48.2l1 -.3M62.4 29.8l2.4 1.2l.8 1.4M16.8 3.6l1.5 .4M43.1 18l1.3 -3.1l1.9 -.6M19.7 38.3l2.8 -1.7l1.3 -1.4M41.2 53.8l2.1 -.4M.7 49.7l-1.2 -2l-1 -1M5.5 39.9l2.1 -.9l1.3 -.4M65.9 33.5l1.7 -2.9l.3 -2M35.4 6l-.5 -2M53.7 38.6l1.3 -1.6M51 .6l-2.2 -1.4l-1.5 -.5M64.6 26.8l-1.4 -1.6M30 58.5l-1.6 -2.9l.7 -1.9M24.2 45.3l2.6 1.1l1.6 -.6M43.5 54.9l2.1 -1.3l.5 -1.4M31.1 57l-.3 -2.2M5.9 11.7l-.8 -3l-1.4 -1.3M28.5 32.4l.4 -1M12 46.5l-2.6 -1.8l-1.4 -1.3M63.8 23.9l-1.1 -2l-.8 -1.1M.5 46.7l1.4 -1.2M41.2 20.6l-.9 -1.6M6.4 14.2l2.5 .6l1.2 .9M66.7 .9l-2.5 -1.9l-1.8 -.5M44.6 51.2l1.8 .5M30.8 40.1l-.2 -3.3l-1.5 -1.3M67.6 52.5l-.3 -1.5M15.8 16.1l1 -3.1l1.9 -.6" stroke="#c024e0" stroke-opacity="0.85" stroke-width="1.6"/>
<path d="M73.9 51.5l.6 .6M43.3 32.2l-.1 .5M73 16.6l.3 .2M59.4 17.4l.1 -.7M17.9 31.4l.4 -.3M16.8 41.4l-.7 -.9M29.7 31.4l0 1.1M56.1 9.4l.1 .5M45.2 9.7l-1 0M76.3 43.3l.8 .5M12.9 24.9l-.5 .4M39.1 34.5l-.7 .5" stroke="#8a2ad4" stroke-opacity="0.85" stroke-width="1.2"/>
<path d="M54.9 42.2l-.4 -.1M22.2 5.7l-.3 .5M62.9 49.7l-.7 0M60.5 51.5l1 .6M18.9 9.6l0 .9M47.3 27.3l-.4 -.5M20.1 4.4l-.4 .5M17.4 46.5l-.4 .7M60.9 43.8l-.7 .4M44.3 21.7l.6 -.3" stroke="#8a2ad4" stroke-opacity="0.85" stroke-width="1.6"/>
</g></g>
<defs><clipPath id="mc4"><rect x="0" y="0" width="78.2" height="58.8"/></clipPath></defs>
<g transform="translate(475.9,128.8)" clip-path="url(#mc4)"><rect width="78.2" height="58.8" fill="#fbf8f5"/><g filter="url(#mb)" stroke-linecap="round" stroke-linejoin="round" fill="none">
<path d="M2.1 27.7l1.6 -.5M61.2 19.7l-.9 -.6M55.3 11.5l-1.4 -2M8.5 20l-.1 -1.8M39.6 42.7l2.1 -.1M38.6 57.5l-.5 -.9M11.6 22.5l-1.7 -1.3M65.8 1.1l-.8 -1.9M3.1 52.9l1 -.1M52.1 44.8l.8 -.7M69.8 48.6l2.6 -.4l1.6 -.2M30.6 58.7l2.1 -1.3" stroke="#dca8ee" stroke-opacity="0.5" stroke-width="1.6"/>
<path d="M61.7 35l2 .3M37.9 36.5l1.9 -.4M50.8 57.6l-.2 -2.5l1 -1.1M18.9 31.3l1.4 -.4M50 13.9l1.5 -.5M52.2 16.9l.5 -1.8M31.7 .6l1.9 -1.8l1.6 0M1.2 6.6l1.8 -1.4M64.3 26l1.5 0M70.8 5l1.3 -2M62.5 17l1.2 -.7M50.5 8.5l.3 -1.1M51.1 45.5l2.1 -1.1M29 52.6l2.3 -.7l.8 -1.2M18.7 55.9l-1.6 -2.1l-.7 -1.4M37.7 56.4l1.3 .1M67.2 24.2l2.4 -.3l1.4 .3M48.7 .5l.5 -2.1M60.3 13.1l1.4 -.7M30.9 10.9l1 -2.1l.7 -1.2M51.7 11.1l-1.6 -2l-1.4 -.7M25.1 46l-2.2 -1.4M32.6 3l-.8 -.7M75.2 53.4l-.4 -1.4M69.2 24.4l-.5 -1.2M12.7 54.7l0 -2.8M63.8 27l.5 -1.7" stroke="#dca8ee" stroke-opacity="0.5" stroke-width="2.0"/>
<path d="M46.3 16.7l1.4 -.9M37.1 3.2l1.2 -.7M38.1 23.1l.4 -1.8M37.4 24l.6 -2M2.3 23.5l-1 -.7M21.7 44.3l-.4 -1.1M37.8 7.5l-1.6 -1.1M6.5 25.7l-1.1 -2.4M74.8 5.5l1.2 -.1M2.3 9.8l1.4 -1.5M50.5 31.2l.6 -2.1M68.5 31.6l.7 -1.4M7.3 38l-1.2 -1M46.2 11.6l2.4 -.3M32.1 46.9l.3 -2.2M40.8 45l.2 -1M71.8 .4l.6 -.8M51.8 11l.4 -1.1M78.2 1.6l1.1 -.3" stroke="#dca8ee" stroke-opacity="0.5" stroke-width="2.4"/>
<path d="M77.9 8.3l-1.2 -2.1l-.4 -1.4M76.5 48l-1.1 -.7M71 3l2.1 -1.7l1.6 -.5M52.9 55.6l2.6 -.8l1.6 .1M64.1 57.9l-.9 -1.6M30.7 5.4l-1 -1.7M67.7 19.1l1.2 -.2M11.2 34.5l1 -2.5l-.7 -1.4M9.8 50.2l1.8 -1.6M34.1 15.9l.7 -.9M60.1 13.4l.7 -1.6M38.6 9.3l1.5 0" stroke="#dca8ee" stroke-opacity="0.5" stroke-width="2.8"/>
<path d="M77.9 11.1l2 -.2M70.9 43.5l.5 -1.6M37 34.8l1.8 -1.8l.4 -1.5M71.4 1.1l2.7 .2M77.3 26.6l-.5 -3M65.7 39.1l-1.4 -1M67.5 17.3l.6 -2.1M17.1 36.3l1.5 -2.2l.1 -1.6M3.9 10.2l3.3 -1.5M34.8 47.9l-1.1 -3.4l0 -2.2M32.7 58.3l-.2 -2.5M17.6 36l.5 -1.6M50.3 40.6l1.9 -.9M77.1 1.5l-.1 -3.2M69.5 55.4l1.6 -2.4l.9 -1.5M37.5 3.1l.4 -1.9M24 6.6l1.6 -3.2l.9 -2M73.1 17.4l1.1 -.8M51.7 38.7l1.3 -2.2l1.2 -1M56.1 4.5l1.4 -.1M48.6 47.2l1.6 -2.3M5.2 50.7l1.8 .2M3.6 21.1l3.3 -.1M34.3 21.7l3.2 .3M74.3 15.6l-1.4 -2.2l-.7 -1.4M75.9 45.2l-.4 -2.9M52.2 16.3l2.1 -.7M60.4 29.7l.8 -1.4M23.7 24.6l1.5 -2M42.5 37.7l-2 -2.2M27.4 20l.8 -2.7M41.4 1.3l3.4 .5l2 .3M43.1 23.3l-.6 -1.6M52.8 21l.2 -2.8M57.1 4l-2.6 -1.8l-1.8 -.6M38.1 23.7l1 -1.3M15.8 56.1l-1.5 -2.7M63.3 17l.1 -2.2" stroke="#b04ee0" stroke-opacity="0.85" stroke-width="1.2"/>
<path d="M48.9 41.5l.3 -1.7M54.3 1.9l1.3 0M63.1 33.5l-.9 -1.5M56.5 33.8l-2.9 -2.4l-1.9 -1.2M23.4 33.5l1.6 -3.2M44.4 29.9l2.5 -1M52 54l2 -.1M49.2 23.9l-1.8 -1.4M72.6 14.3l1.2 -.4M70.2 14.5l-.7 -3.2M47.4 3.1l1.4 .1M6.5 44.3l2.7 -1l1.7 .6M44.3 55.1l-.7 -1.4M24 36.8l3.6 .3M49 13.6l-1.2 -2.2M16.3 36.3l-2.5 -1.6M42 46.4l.7 -1.2M15.5 16.1l1.7 -2.9l1 -1.8M49.5 22.6l2.4 -1.7l.3 -1.7M23.8 1.3l2.7 -2M15.2 47.5l.4 -2.7M75.9 23.6l.2 -2.1M67.3 53.1l-.7 -1.2M45.5 23.3l-2 -1.4M22.4 55.7l2.5 .4M37.2 41.1l.3 -1.8M1.5 28.9l0 -2.7l.1 -1.6M59.8 21.5l-1.2 -1.9M58.3 45.8l-1.4 -3l-1.9 -.5M68.5 25.5l1.5 -1M57.5 45.2l-1.1 -1.4M8.9 18.9l.5 -1.8M21.1 46.9l-1.4 -1.8M71.1 22.3l1.7 -1.8M1.3 48.8l1.6 -1.7l.8 -1.1M23.4 14.5l-.1 -2.8M57.3 3.4l-.6 -1.8M50.7 34.3l3 -.1M66.6 30.4l-.9 -1.3M49.3 21.4l3.1 -2.2l1.9 -1.2M45.1 4l-.3 -2.3l1 -1M48.8 55.3l.8 -1.6M56.7 8.3l-.1 -2M38.8 7.1l2 -.3M70.2 20.7l-1.2 -2.1l.4 -1.4" stroke="#b04ee0" stroke-opacity="0.85" stroke-width="1.6"/>
<path d="M51.1 9.1l-.9 -1.7M73.2 6.6l.8 -1.6M24.2 32l-.6 -2.8M41.5 17.4l3.1 -.8l.9 -1.7M64.7 27.9l1.6 -.8M5.8 3l3.2 .5l1.9 -.4M72.1 17.3l-.1 -3.3M60.5 26.6l-1.4 -1M20.6 54l-1.5 -1.3M33.5 18.2l-.6 -1.3M61.7 17.1l2.1 -2.5l1.9 .2M54.3 .3l2.1 -.8l1.2 .7M19.4 17.5l-3.1 -2l-2.1 -.8M26.5 15.7l.9 -.9M75.6 32.2l1.4 -.8M45.9 33.9l1.9 -.8M75.6 55.8l2.7 -.5M21.2 7.1l-.3 -1.3M24.7 21.3l-.2 -3.4l-1.4 -1.5M30.1 47.6l1.3 -.8M71.6 12.2l-1.3 -1.5M55.5 10.2l.1 -2M77.5 32.5l-.5 -1.9M11.9 55.1l-.3 -1.7M2.8 33.8l1.9 -1.4l1.4 -.4M72.7 11.6l-.3 -1.9M49.1 2.1l3.1 -2M27.6 45.5l1.4 -3.2l1.8 -1M63.7 24.1l-1.7 -2.2M68.6 4.5l.1 -2.3l-.9 -1M40.5 12.9l2.2 .1M76.6 58.1l2.2 .4M45.9 48l-.1 -1.3M23.3 39l1.2 -.3M70.5 .9l-1.7 -3M47.9 38.6l.1 -1.4M16.5 4.7l3.3 -.7l1.8 -.9M51.1 31l-1.8 -1.2l-.7 -1.1M45.2 23.4l1.1 -2.3l-.2 -1.5M28.9 58.2l-1.3 -2.9l-.3 -1.9M49.3 20.2l-.8 -2M70.6 32.9l1.7 -1.8l1.4 -.4M67.3 51.1l0 -2.2M53.2 25.6l2.3 .3l1.3 -.3M1.8 11.4l3 -.4l1.7 .6M57.6 12.5l2.9 -1.4M6.9 57l-1.7 -1.6l-.5 -1.3M57.3 25.5l.3 -1.6M35.3 55.7l-.9 -1.3M75.9 27.5l-.9 -3.2l1.1 -1.6M13.4 11.5l2.5 .2l1.4 -.4M56.8 18.2l2.5 .3" stroke="#b04ee0" stroke-opacity="0.85" stroke-width="2.0"/>
<path d="M57.2 5.7l.3 -2.3l.1 -1.4M71 50.8l.8 -1.5M75.6 7.4l-.9 -2M66 15.8l-1.5 -1.7l-.7 -1.2M37.3 52.4l2.1 -1.2l1.4 .2M20.8 31.6l1.4 -.2M35.7 32.9l2.4 -1.4M18.7 2.7l2.2 .4l1 .9M33.5 52.7l.5 -.9M69.7 47.5l-.2 -1.7M77.8 24.4l-.9 -2.5l-1.4 -.8M2.7 15.4l2.3 -1.2l1.2 -1M21 19.3l2.4 -1.8M67.2 2.6l1 -.6" stroke="#8c28d0" stroke-opacity="0.85" stroke-width="0.8"/>
<path d="M7.7 27.5l-.1 -1.3M43.9 19.7l-1 -3l.6 -1.8M72.4 55.5l1.4 -.7M23.4 41.3l-1.4 -2.2M62.1 2.6l2.8 0l1.3 -1.2M59.1 13.7l1.1 -2.9M59.4 20.5l-1.1 -.7M63.2 42.5l1.9 -2.4l.4 -1.8M24.1 21.7l1 -.7M63.6 49.7l-.2 -3.1l-.8 -1.7M4.1 52.6l-1.5 -1.7M67.7 16.2l.3 -2.4l1.2 -.8M23.8 3.4l-.2 -2.3l-.6 -1.3M63.8 43.5l1 -2.4M63.9 43.9l2.2 -1.7M15.9 43l.5 -1.3M8.6 18.2l2.2 -1.3l1.2 -.9M23.5 12.9l1.6 -1.1M40.8 56.8l2.6 -1.2M38.2 26.3l.8 -2.3l1.3 -.6M22.3 18.7l2.5 .2l1 1.1M51 47.3l1.6 -1.2M76.5 23.5l-.7 -2.4l.1 -1.5M50.4 17.5l-.6 -1M43 28.7l1.1 -2.9M48.1 44.7l-.6 -1.4M44.5 49.6l-1.6 -2.1M49.6 51.9l1.6 -1.5M46.3 50.6l.9 -1.2M77.7 6.6l.5 -.9M75.2 54.7l1.1 -.1M34.2 41.9l1.7 -2M73.9 45.8l1.8 -2.6M40.8 4.1l-1.1 -1.8M51.6 25.1l1.1 -1.4M54.2 25.7l-2.4 -1.8M41.3 29.9l.2 -2M62.2 29.4l1.9 -1.3M41.2 22l1.5 -.9M51.8 15.1l1.3 -1.4" stroke="#8c28d0" stroke-opacity="0.85" stroke-width="1.2"/>
<path d="M22.3 21.5l-.7 -1M51.3 4.4l.8 -3l1.4 -1.2M52.2 35.9l-1.1 -2.4l.5 -1.5M43 17.9l.2 -1.8M65.5 36l.6 -1.5M6.8 34l.2 -1.1M28.3 9.1l-2 -1.5M45.2 8.1l-.1 -1.8M39.9 52.6l-1 -.8M23 4.9l.1 -1.2M27.4 11.1l-.8 -1.1M76.5 15.3l2 -1.8l0 -1.6M34.3 52.3l-.4 -1.7M28 54.1l.5 -2.2l1.2 -.6M72.6 21l-1.7 -1.3M75.6 18l-.8 -.6M41.1 37.7l-1.8 -1.9l-1.3 -.8M43.3 7.1l1 .1M58.3 42.5l2.2 -1.2M41 38.4l2 .2M67.8 19.1l-.9 -1.4M36.7 16.7l2.3 .3l1.1 -.8M66.6 33.9l1.4 -.4M12.4 30.6l1 -1.9" stroke="#8c28d0" stroke-opacity="0.85" stroke-width="1.6"/>
<path d="M7 54.5l-.3 -1.6M37.6 54.6l-1 -2.2l.3 -1.4M29.1 25l1.4 -.9M51.7 5.1l2.1 -.7l1.3 -.3M49.6 40.1l1.5 -.6M20.8 42.1l1.7 -.7M15.1 42.2l-.4 -2M1.2 54.9l-1.1 -.8M62.8 2.9l.9 -1.4M45.5 29.7l.4 -2.9M38.1 55.3l-1.1 -1.4M38.9 52.5l1.3 -2.9l-.8 -1.7M70.3 54.8l-1 -.6M49 32l-.6 -1.1M51.3 8l1.4 .2M58.9 50.8l1.1 -2l.5 -1.3M59.4 10.7l2.9 -.5" stroke="#8c28d0" stroke-opacity="0.85" stroke-width="2.0"/>
<path d="M34.4 30.4l-.1 -1M33.9 27l.1 -1.1M47.5 40.6l-.4 .5M59.9 5.7l.4 1M45.9 9.8l-.1 .9M54.2 23.7l0 .7M52.6 19.5l.9 -.5" stroke="#4426c8" stroke-opacity="0.85" stroke-width="1.2"/>
<path d="M77.3 42.5l.4 .5M64.2 32.2l.1 -.5M71 9.2l.1 -.4M13.9 49.7l-1 -.3M37.2 55l.5 0M70.1 16l-1.1 0M45.8 15.3l-.5 -.3" stroke="#4426c8" stroke-opacity="0.85" stroke-width="1.6"/>
</g></g>
<defs><clipPath id="mc5"><rect x="0" y="0" width="78.2" height="58.8"/></clipPath></defs>
<g transform="translate(558.0,128.8)" clip-path="url(#mc5)"><rect width="78.2" height="58.8" fill="#fdfaf8"/><g filter="url(#mb)" stroke-linecap="round" stroke-linejoin="round" fill="none">
<path d="M78 17l.6 -.2M30.4 43.1l1.1 -1.1M56.9 44.4l0 -1M71.5 49l-1.2 -.9M42.6 43l1.2 -1M70.1 50.9l1.6 -.4M29.5 6.7l1.3 -.4M7.9 3.9l0 -1.1" stroke="#d850e4" stroke-opacity="0.85" stroke-width="1.6"/>
<path d="M53 46.2l.5 -1M25.6 15.8l.5 -.3M44.5 11.9l.5 -.1M49 6.2l1.2 .7M37.5 7l.5 -.9M22.2 23.7l.9 -1.1" stroke="#d850e4" stroke-opacity="0.85" stroke-width="2.0"/>
<path d="M53 2.7l0 -.7" stroke="#d850e4" stroke-opacity="0.85" stroke-width="2.4"/>
<path d="M34.2 16.2l-.2 .3M36.5 6.6l-.5 -.5M5.3 38.1l-.7 0M51 55.9l.9 -.4M75 12.4l-.6 .2" stroke="#8030c4" stroke-opacity="0.85" stroke-width="1.6"/>
<path d="M56.7 56.2l.3 -.7M20.4 27.5l.3 .5M41.4 24.3l.2 .3M28.7 34.9l.2 .5M27.7 46.2l0 .8M62.2 7.3l-.4 .2" stroke="#eec8ee" stroke-opacity="0.7" stroke-width="0.8"/>
<path d="M51.1 12.4l.4 -.1M10.6 19l0 .7M39.5 25.2l-.6 .2M12.1 26.9l.9 -.1M34.8 49.5l-.8 .5M76.4 23l-.5 .8M43.4 41.7l-.5 -.5M3.6 40.1l0 .7M65.4 16.3l.1 .4M34.7 4.2l.6 -.2M72.4 13l.2 .6M40.7 28.7l.9 .3" stroke="#eec8ee" stroke-opacity="0.7" stroke-width="1.2"/>
</g></g>
<defs><clipPath id="mc6"><rect x="0" y="0" width="78.2" height="58.8"/></clipPath></defs>
<g transform="translate(671.8,48.9)" clip-path="url(#mc6)"><rect width="78.2" height="58.8" fill="#fdf3fd"/><g filter="url(#mb)" stroke-linecap="round" stroke-linejoin="round" fill="none">
<path d="M46.3 55.6l-1.1 .7M54 32.8l-.4 1.4M68.4 13.3l-1.2 -.4M13.3 57.4l.8 2.7M38.4 20.6l-.1 -1.4M33.1 2.4l2.1 -1.2M33.1 40.4l-2.5 -1.6l-1.5 -.9M61.6 33l-.9 -.7M75.2 2l-1.9 .6M5.5 48.2l.6 1.2M65.1 12.2l-2.2 -1.4l-1.4 -.6M35.9 9.4l1.3 1.6M4 22.1l-1.3 -.9M15 2.2l1 -2.5M48.9 1.7l-2.1 .3M42.7 54.5l2.3 -1l.9 -1.2M32.7 5l1.3 .6M27.6 11.3l-1 .5M9.4 5.2l-1.4 -.2M39.1 4.5l-.5 -1.4M24.8 6.4l1.3 2.3l1.4 .6M59.3 32.3l-.6 -1.8M38.5 20.9l-1.7 -2.4M7.5 25.3l.3 2.3l-.6 1.2M45.2 28.9l-.7 -2.2l.6 -1.2M35.7 50.1l-.9 -.5M52.7 57l-1.3 2.4M47.9 15.5l1.6 -1M25 5.1l-1.8 -1.7l-1.4 -.6M16 30.4l-2.3 -1.2M72.7 25.1l-1 -2.5M67.9 14.6l-1.7 .2M41.1 19.3l-.8 -2M1.5 33.6l.5 -1M55.1 39.3l-1.4 .3M6.8 30.4l1.7 .3M42.2 21.7l-.7 2.2M76.7 7.7l.6 -1.9M49 .4l1.4 .3M21.8 53.4l1.4 -1.8M76.1 39.4l-.4 2.2l.1 1.3M27.2 29.2l-1.7 2l-1.4 .7M12.2 40.4l0 -1.6M15.5 16.9l-.2 1.1M26.6 41.6l-2.8 -.2M38.8 1.6l2.2 -.5l1.2 -.6M60 53.3l-.6 1M32.2 27.2l-.4 1.7M47.2 48.3l-2.8 .2l-1.2 -1.2M77.7 16.8l.9 -1.4M16.1 9.3l.3 -1.6M74.5 55.5l-.1 -2.3M4 42.3l.5 -1.6M32.5 15.7l.8 1M21.1 42.5l2.2 -1.6l1.6 .2M14.9 11l2.2 1.5l1.6 .4M39.1 46.3l-.6 -2.9l.9 -1.5M76 2.2l1.6 1M29.5 43.6l2.2 .6l.5 1.3M4.5 19.1l-.3 1.2M39.5 49.7l2.6 -.7l1.5 .6M17.1 7.9l1.6 .5M25.6 53.8l0 -2.2M6.8 4.9l.9 .7M1.7 9.4l-2.6 -.1l-1.3 -.8M54 21.9l-2.1 1.2M50.5 16.8l.7 -1M5 19l0 1.9" stroke="#e8b0ee" stroke-opacity="0.6" stroke-width="1.6"/>
<path d="M46.1 38.7l-2 1.1M44.7 38.8l-.5 1.5M46.2 26.3l.6 2.2l1.1 .9M78 9.6l-2 .7M8.5 52.9l-2.1 .1M58.6 34.7l-2.2 -.9M77.3 44l-1.5 .9M68.8 16.2l2.3 -1.1l1.3 -.8M60.8 39.6l1.8 1.3l.7 1.1M26.7 22.8l-1.7 -.8M20 16.4l.6 1M41.6 12.9l-1.3 -1.7M74.7 37.5l-1.4 .9M74.7 2.1l-1.4 -.7M11.8 3.9l0 -1M11.2 57.9l-2.2 -1.2M50.9 53.8l-.6 -1.5M73.3 31.9l-1 -1.4M14.8 30.7l-2.3 -.2M70.7 24.4l-1 2.5M46.4 54.8l-2.5 -.8M76.9 45.2l.8 .9M7.2 25.2l-1.6 -1.1M31.5 19.9l-.9 .9M66.2 16.2l.2 -1.2M77.1 21.5l-.1 1.6M59.3 47.4l1 -1.1M34 46.5l.5 1.1M67.4 50.1l-.5 1.3M.6 37.6l-.8 .8M39.5 23l-.4 1.2M57.9 1.7l2.3 -.8l1.1 -1M30.9 35.1l-1 -2.5M7.9 33.8l-2.4 .2l-1.4 .2M76.3 53.3l-.3 -1.9M2.3 51l1.8 -1.2M18.2 13l1.3 -.3M67.2 54.8l-2.3 .4l-1.4 .3M66.8 29.2l2.6 -.4l1.4 .6M78 20.1l-2.4 -.8M34.3 44.8l1.4 -.5M71.7 23.4l-1.1 -.5M45.5 21.9l1.1 1.9M34 2.7l.9 -.8M49.7 41.8l-1.4 1.3M61.2 4.2l-1.1 2.2M8.2 8.8l1.9 1.1l.8 1M28.6 54.1l1.6 -.2M22.3 11.1l-2.7 -.3l-1.4 .9M61.4 6.9l.4 2.3l.7 1.2M25.4 20.5l-1.5 .9M66.3 58l-1.1 1.9M9.1 27.6l2.8 .2M6 25.5l-.7 -1.1M47.7 56.7l-1 -.8M23.7 12.6l-1 -.8M70.4 44.8l-1.8 .3M5 56.2l-2.2 1.7l-1.6 -.4M60.9 48.9l1 -1.9M46.4 21.1l1.4 -1.4M5.1 3.9l-.4 1.2M33.2 28.1l1 1.8M25.3 44.5l.7 .8M.3 8.8l-2.3 1.2l-1.5 .5M52.3 30.3l-2 0M9.1 37.6l-1 -1M7.6 48.6l-1.6 1.6l-.2 1.3M47.3 49.5l.4 1.5M28.1 39.8l.9 -.9M4.9 46.3l1.3 1.6M40.1 17.4l2.6 .6M19.2 32l1.7 1.7l.8 1.2M14.4 6.3l-1.7 -.4M72.1 55.4l2 -.3M58.5 31.1l-1.6 .3M67.1 25l1.1 -.2M21.5 16.5l1 -.9M52.6 55.5l1.1 1M3 52l-.7 -2.3l-.6 -1.3M2.8 20.7l-2.3 -.3l-1.4 .2M38.1 28.8l-1.9 -1.6M1.8 7.7l.1 1.7M4.9 51.1l-1.8 -1.2M17.4 14.2l-1.3 -1M61.4 50.8l1.3 1.4M36.2 7.2l1.9 .1M42.9 58.3l1.7 1.2M77.5 46.4l1.1 -2.6M78 49.9l-.4 2.6M69.7 58.7l-.7 -1M37.8 30.8l-1.4 2.4M34.5 25.7l-2.8 .2l-1.1 -1.3M29.8 11.6l-2 .7M23.7 38.4l-.9 -1.5M12.4 55.4l1.9 -1.6M36.9 45l-2.3 -1.4l-1.6 -.3M48.6 34.1l.7 -.8M63.8 .5l-2.2 .4M13.6 53.4l1.1 1.3M59.7 50.4l0 -1.1M48.1 28.3l-1.5 2.5l-1.6 .7M45 27.6l-.5 2.9l1.2 1.3M74.9 52.7l1.4 2.3l-.3 1.6M35.9 49.1l-1.2 1.5M36.7 13.8l1.5 1.3M32.6 38.2l2.4 -.8M22.7 30l-1.1 .7M26.7 55.6l1.3 -2.6M65.8 33.5l1 .2M36.9 53.8l2.8 .3M49.2 50.8l-1.5 -2.1M59.3 44.1l.9 -1.2M9.7 31.8l2.4 1.2M34 11.6l.9 -2.4M49.5 11.5l-2.8 0l-1 1.3M54.5 57.8l.6 .9M14.7 3.6l1.4 1.9M7 13.1l-.1 1M28.6 21.7l2.3 -.4M60.2 24.4l-.4 -1.8M15.1 40.6l.6 .8M68.1 46.3l.5 -1.2M56.5 17.2l-1.3 .9M5.6 54.4l1.6 -2l1.5 -.4M10.2 21l1 -.8M38.3 14.5l-.8 -2M56.4 38.2l1.1 .2M35.9 21.6l2.1 -1.6" stroke="#e8b0ee" stroke-opacity="0.6" stroke-width="2.0"/>
<path d="M1.8 47.6l-2 1.2M12.1 19l.2 -1.3M32.4 5l-1.6 -.3M31.4 46.7l-.1 -1.1M32.8 16.3l-1.7 1.3M39.3 6.5l-.2 1.9M1.1 28.9l-1.6 -1.4M39 1l.1 -2.8l.3 -1.7M54.5 18.3l-1.4 .6M11.1 57.4l-.9 -.5M44.7 46.9l0 2.3l.2 1.3M48 25.2l-1.8 -1M56.2 56l-.2 2.8l-1 1.4M77.5 45.6l.2 2.5M34.9 3.1l2 2l1.7 .4M15.8 22.8l-1.8 -1.7M49.5 54.4l1.1 .7M6.4 28.5l-1.7 .4M33.2 52.1l-.4 1.4M16.9 12.2l.9 -1.4M29.6 42.9l2 1.5M57.1 49.6l1.5 -2.2l1 -1.3M12.6 15.1l1.1 1.1M37.2 4.9l1.4 -.9M68.1 32.6l1.2 .6M64.2 33.6l.3 -1.5M72.7 30.6l-2.6 .6M53 8.9l-1.9 -.1M73.5 15.3l1.5 .7M22 31.7l-.7 -1.8M61.1 21.2l-1.1 -1.9M36.9 4.2l2.2 -.2M77.2 10.5l-.1 1M26.8 18.4l-1.5 -1.8M11.6 34.9l-.2 1.6M47.2 29.8l1.8 1.7M40.1 54.6l1 2.2l.9 1.1M52.9 31.4l-.2 2.7M59.5 17.6l-.2 -2.2M76.3 39.4l2.7 -.2l1.2 1.1M2.4 47.7l.7 -2.7M34.6 29.8l2.1 -.3M74.7 44.7l.3 2.4l.4 1.4M52.3 35.4l.4 -1.7M32.2 10.1l.9 -2.7l1.6 -.5M7.9 37.5l.6 1.1M34.1 12l1.1 -.4M12.8 22.8l1 -1.5M13.2 5.8l2.3 -.6l1.4 .3M45.8 50.6l.5 -2.4M63.5 36.1l-1 1.3M6.6 31.2l.4 -1M5.2 52.9l.4 1M3.3 8.1l.1 1.7M70.9 46.9l-.1 -2.7M38.1 43.5l1.2 -2.6l-.5 -1.6M42.1 47l-1.2 -.5M11.6 30.3l-1.2 1M45.3 57.7l1.1 -1.6M75.3 48.9l-1.7 .9M41.3 9.9l-.9 2M62.8 50.8l.2 1.2M39.8 29.5l1.7 1.1M18.2 17.7l1.4 -2.2l1.1 -1.1M52.7 9.9l1.7 -.6M31.3 53.7l-2.3 .6M6.2 .2l2.8 .9M60.2 43.6l-1.3 -.9M64.7 55.1l-2.7 -.5l-1.5 .7M19.3 56.2l-1 .2M24.1 54l.8 -1.9M23.1 51.8l-2.4 .7l-1.5 -.2M25.1 29.9l1 -.1M28.1 25l.4 1.9M2.2 2.7l-1.2 -.5M39.4 44.9l2.4 .7M41.1 27.7l.8 1.7M41.9 21.7l2.9 .6l1 1.4M32 30.2l-1.4 1.4M23.7 16.8l-.2 -1.5M47.8 15.3l1.3 -1.6M3.6 26.3l1.1 1.5M28.8 57.7l1.3 1.8l.6 1.2M47.7 10.9l-1.7 -.2M42.7 1.5l-1.2 1.5M70.7 41.7l-2.5 -.2l-1.2 -1M0 27.4l.5 1.7M8.9 37.5l.6 -1.4M27 4.6l.4 2.2l.7 1.1M73.1 2.2l1.1 .9M62.8 20.6l-1.7 -.8M43.9 38.7l1.8 .3M71 15l1.8 -.6M66 34.6l.2 1.6M24.7 30.4l-2.4 -.2l-1.3 -.6M33.4 12.1l1 -2.7l-.2 -1.7M60.3 41.6l-1 .5M38.7 31.2l1.9 .2M62.2 21.4l-.6 2.2l.8 1.1M49.2 49.1l-.7 1.2M39 47.4l1.2 -2.5M51.2 18.3l.7 -1.7M19.6 48.6l-.6 -2.8l-1.3 -1.1M60.6 6.9l-.6 1M5.1 3.5l.5 -1.6M51 11.4l.8 -1.7M17.6 55.7l-.6 -2.7M6.9 42.4l1.5 -2.3l1.3 -1M9.1 17.8l1.5 -1M50.6 26.5l-1.6 -1.1M47.7 19.8l-.8 1.7M39.5 1.1l2.3 -1.6l.5 -1.6M40.7 28.4l1.3 -2.5l.3 -1.7M69.4 53.9l-.1 2.3l-.6 1.3M32 58l-1.2 -1M72.6 6l-.4 -2.7l-1.2 -1.1M67.6 23.8l1.8 -.6M74.3 4.1l-1.2 1.5M76 14.1l1.2 2.6l1.5 .8M23 47.3l-.8 -1.1M67.6 8.1l-1.8 -2.1M61 29l2.2 -1.8l1.5 -.8M63.9 3l-.9 2.6M35.7 57.3l-.7 1.5M26 45.5l.8 1.2M36.2 21.1l.9 1.9M55.4 25.4l1 1.8M1.9 58.3l-.1 -1.5M55.7 4.1l1.1 1.8" stroke="#e8b0ee" stroke-opacity="0.6" stroke-width="2.4"/>
<path d="M24.9 34.1l.8 -1.5M62.6 16.6l-1.2 0M77.3 16l-1.1 1.3M34.4 2.8l-1.2 -.1M67.1 15.2l1.7 2.1M30.9 40l-.6 1.5M46.2 19.2l-.4 1.2M17.1 4.3l.5 -1.4M32.9 20.6l-.6 -2.8M29.4 43.1l-1.3 -.1M74.5 37.4l.2 -2.2l-.5 -1.3M20 54.5l-.9 -2.8M28.4 17.3l-2.4 -1.3M71.4 49.9l1 1.6M24.4 46.2l.9 1.2M51.9 2.1l1.4 .4M30 41.5l2 -2.2l1.8 -.3M50.8 .5l-2.3 1l-1 1.1M55.4 47.3l.4 2.8l-1.1 1.3M1.5 21.2l2.6 -.3l1.5 -.2M33.4 42.5l-1.3 -.6M14.2 7.8l-1.4 2.1M3.6 4.3l-2 -.3M38.6 30.3l-2.7 .3l-1.4 .8M35.2 24.4l-2.2 .5M.3 22.8l-2.7 0M7.4 25.8l-.2 -1.9M11.7 55.7l2.4 -.4l1.3 .7M27.9 18.4l-.5 -1.4M19.9 24.6l1.5 1M1 34.5l1.5 .5M23.3 26.8l.4 1M69.4 21.3l.4 1.6M48 39.1l1.6 -1.5l1.2 -.5M2.9 32.4l-1.1 .5M57 48.9l.3 -1M5.2 7.4l.6 2.9l.8 1.6M32 34.9l.2 1M42.4 38.4l2 .9l1.3 .4M11.5 31.7l-1.2 .1M12.7 17.8l1 -2l1.2 -.7M51.1 26.2l.7 -1.3M52.9 5.1l.2 -1.8M24 47.7l2.6 -.1M48.5 12.1l-1.3 -.6M40.8 23.8l1.2 -.2M12.6 29.2l-.5 1M58.4 21.8l0 -1.6M13.1 20.4l-.6 1.4M21.1 39.6l2.2 -1.1l1.4 -.6M23.4 22.3l-.1 -2.3l.3 -1.3M76.1 11.7l.5 1.5M31.9 8.7l1.6 -2.2l1.3 -1M67.4 41.9l.4 1M19.6 47.4l-1.5 -1" stroke="#e8b0ee" stroke-opacity="0.6" stroke-width="2.8"/>
<path d="M48.8 50.9l1.7 -.5M12.9 8.5l-.9 -1.7M3.5 44.1l.3 -1.6M3.2 31.3l1.1 1.1M47.4 21.8l-.4 1.1M27.6 3.9l-1.4 -.9M74 11.6l2.3 0M68.4 2.6l1.1 .1M5.3 48.6l.5 .8M72.5 2l-1.1 .2M40.4 36.9l.6 -1M60.9 22.9l-.8 -.5M26.7 31l-.9 .9M37.5 5.5l-1.7 -.5M37.4 41.8l-1 .3M21.4 57l1.2 -.3M14.6 36.4l-2.2 -.3M22.5 21.6l-.2 1.9M45.8 52.5l-1.2 1.4M5.8 4.8l-1.7 .1M54.8 44l-1.8 1.8M67.5 19.8l-.9 -1.9M74 38l.7 1.8M65.1 49.1l1.4 -1M71.3 5.1l2.1 -.9l1.1 -.8M18.2 5.8l1.3 -.9M68.6 16.9l.4 -.9M11.9 4l-1 -1.7M76.2 19l-.4 -1.5M7.7 23.8l-.5 1.5M77 16.6l1.8 .2M72.9 12.6l-2.1 -.9M13 56.9l.9 1.2M71.9 20l1.1 1.9M22.7 8.3l-1.6 -.7M70.8 39.3l2.3 .4l1.3 -.4M7.7 51.9l-1.6 0M2.8 36l2 -.3M58.8 7.7l.5 1.1M35.9 57.4l-2.4 -.5l-1.1 -1M65.5 57.7l.4 1.3M62.8 51.2l-.5 1.6M38.5 57.6l1.6 -1.4M27.5 47.7l-1.8 -1.1M25.2 52.9l-.2 1.3M66.4 38l0 1.5M27.2 54.1l-.8 -1.6M11 20l.9 -1.4M38 8l-1.5 -.6M9.8 1.4l-.4 1.1M16.8 38l-.6 2.5M61.6 .4l-.8 1M12.8 40.7l-2.4 -.2M7.8 58.2l-1 1.4M78.1 11.9l1.4 -.2M53.8 4l1.9 .5M76.6 37.4l-.9 1.9M28.2 6.8l-.8 -.5M36.8 53.4l.6 -2.1M72.2 2.5l-1 -1.7" stroke="#d282e2" stroke-opacity="0.6" stroke-width="1.2"/>
<path d="M76.3 .9l-1.9 1.4l-.1 1.4M5.3 30.6l-1.2 -2.3M.7 35.9l0 1M71.4 9l-2.1 .1M36.5 50.1l2 .5M10.2 24.2l-.4 -1.3M28.9 48.5l-1.4 -.3M6 48.9l1.4 .5M41.7 29.4l-1.1 -.1M76.7 8.8l.1 2.5l-.2 1.5M18.6 55.5l-.6 -1.3M46.8 51.6l.4 1.8M70.6 27.8l.8 2.2l-.2 1.4M33.8 20.2l-.7 -.9M34.5 5.6l-.2 1.4M38.9 45.4l-.9 .4M29.4 10.8l0 -1.4M38.9 25.2l0 2.3l.9 1.1M59.6 1.6l-.4 2.1M27.8 15l-2.5 .4l-.9 1.2M7.6 11.9l-1.1 -.7M46.1 39.7l1.6 -1.6M77.8 15.4l-.7 -.7M7.9 30.3l-1.9 1.1M55.7 20l0 .9M38.7 3.4l-.4 2M29.2 31.8l1.4 -.7M19.2 4.6l-.8 -.3M72.5 11.3l-.3 1.4M70.5 24.2l2.4 -.4M27.1 2.3l-1.8 -.8M52.4 52.5l1.4 -1.3M47.1 24.8l-.6 -.8M55 2.5l-.9 -2.1M73.2 42.1l-2.5 0l-.9 1.2M7.4 24.2l-.5 1M47.8 11.1l1.7 -1.3M29.9 53.3l.1 2.5M8.8 52.1l-1.3 0M10.2 22.6l.8 -1M10 31.2l.2 -2.2M.6 12.5l-.3 1.5M45.9 44.7l-.1 1M54.2 44.2l-.9 -.6M68.2 4.8l-.5 -1.8M18.7 11.1l1 -1.5M22.1 13.2l-2.2 -1.3l-.2 -1.5M41.9 28.5l.8 .5M42.7 25.3l-.7 -1.4M74.1 1.7l1.1 -.7M52.4 20l-1.2 0M3.4 2.5l1.9 .9M5.9 25.9l-.3 1.9M41.9 20.8l1.2 .4M39.8 36.5l-1.9 -.9M13.1 18.5l-.6 -2.3M57.8 6.6l1.5 -.7M4.5 17l-2.1 1.1M16.7 27.2l-.7 .8M58.4 7l-.5 -.8M10.8 36l.8 -.2M6.7 34.5l.4 1.1M67.1 7.5l1.3 -1.9l1.4 -.3M68.7 4.5l2.3 -1l1.4 .5M60 40l-.9 -.2M64.9 23.1l-.8 -.8M59.2 56.5l.4 -1.4M46.6 48.3l1.4 1.9M17.7 21.7l2 -.2M22.8 12.1l1.7 1.9l.9 1.2M16 34.6l1 .3M12.3 53.4l1.6 0M65.3 22.8l1.1 -1M3.7 15.9l-1.2 -.6M68.2 55.7l1.5 -2.1l1.3 -.9M13 41.5l1.7 -1.5l0 -1.4M31.3 9.6l-1.2 .2M73 21.6l-.6 1.8M28.6 .6l.5 1.4M63 23.2l1.3 -.7M25.6 50.7l.8 .2M23.3 .4l-.6 1M21.7 19.6l.9 -2M73.7 .7l-.1 1M46.4 31.3l-1.5 .6M59.5 36.2l-2.2 -.1M31.7 47.9l-.9 2.3l-.4 1.4M26.6 36.2l.8 -1M56.8 30.9l1.7 0M34.2 38.7l.9 .2M5.5 58.7l-.5 -1M27.4 23l-1.4 1.4M53.5 39.4l.2 1.3M34.1 57l.7 -1.1M33.5 15l.9 2.2M19.8 34.8l-.4 .8M75 16.8l-.4 2.1M1 19.3l-2.4 1l-1.4 .7M12.4 49.9l1.4 1.2M15.8 46.2l-.6 -2.2l.9 -1.1M34.9 15.1l-2.2 -.1M15.8 26.1l1.6 .4M40.9 36.9l.4 .9M40.3 31.9l2.5 .2M25.5 36.4l.4 -1.4M38.6 25.9l1.7 -.2M31.5 30.1l.4 1.5M2.6 6.8l-1.4 1.3M27.9 36.3l1.3 -1.6M18.6 25.5l-2.5 -.1l-1.5 .2M66.8 20.2l-1.1 -1M59.2 .1l2.1 -1.4l1.5 0M9.6 28.5l-2 .5M77.1 9.2l.9 .5M33 8.1l1.4 -.4M15.8 42.3l-.6 .9M46 5.7l.1 .9M56.7 54.4l1 -1" stroke="#d282e2" stroke-opacity="0.6" stroke-width="1.6"/>
<path d="M4.4 28.4l.9 -.3M53.8 43.9l1 .3M42.5 31.8l-1.8 .7M35 6.3l-1.5 1.3M46.7 35.1l1.7 1.4M11.1 4l-2.2 1.2l-1.5 0M12.7 29.6l.3 1M38.6 53l.5 -.7M42.6 48l-1.5 -2M52.4 26.3l-1.2 .3M13.1 23.2l.3 1.1M50.6 7.2l-1.9 -.1M77.8 15.5l.7 2.4M60.3 47.7l1.3 1.6M55.7 1.6l1.4 1.4M60.4 2.4l-1.6 -.4M50.2 50l1.1 -1.9M53.1 5.5l1.2 0M30.5 14.8l.3 1.8M43.4 11.8l-.7 1.9M33.9 31.9l.7 -2.1M62.7 12.3l1.7 0M16.7 11.4l-1.3 -.6M58 42l1.1 1.2M35.4 49.2l.4 -1.5M11.9 5.1l0 -1M30.6 21.7l.2 1.4M8.6 .8l-1 1.2M53.3 37.1l.9 .5M18.2 18.6l1.8 -.5M76.1 21.7l.8 -1.4M27.4 3.2l1.4 .3M25.8 55.5l1.8 -.3M14 1.4l.7 .7M73.4 32.9l-2.4 0l-1.4 -.2M68.3 8.1l1.5 1.6M13.6 20.3l2.2 .3l1.3 -.4M49 39.8l.3 -2M25.7 29.9l-2 .4M52 14.4l2.4 -1M57.2 17.8l-1.5 .6M40.7 29.6l.3 1.9M19.6 21.4l-1.2 -.7M69.4 30.1l-1.5 -1.6M71.4 35.3l-1.6 -1M8.5 49.2l-.5 .9M59.6 12.3l1.3 -1.3M27.9 55.7l-.9 .7M74 41.9l-.7 -1M2.4 8.6l.9 -.7M60.7 12.7l-1.5 .2M43 18.3l.6 -.9M29.2 8.3l.7 1.1M13.1 14.3l.3 2.3l1.2 .7M30.1 7.9l-.7 2.3l-.8 1.2M8.5 34.9l-1.4 -.7M45.4 17.1l.7 .7M51.5 51.9l-1.8 1M11.5 36.9l2.4 .8M71.8 39.9l-1.2 1M51.4 32.7l2.3 -.1l1.1 .8M64.4 31l2.4 -.5M37.1 22l-.8 -.7M31.4 20.2l-.4 1.3M32.9 54.3l1.8 1.2M21.2 43.1l-.7 .6M65.4 42.2l.2 1.3M64.9 34.3l-1.5 -1M33.4 28.2l1.7 -.2M14.8 15.2l.6 1.2M64.3 45.1l-.4 1.2M49.1 45.9l-.8 1.3M27.8 45.3l2.1 .3M11.2 57.5l1.5 .3M50 29.3l.4 1.7M74 0l1.8 .8M41.2 27.4l-.8 -.5M76.5 43.1l1.5 .4M41.7 30.7l-2 .6M51.4 25.4l-2.3 .6M4.4 33.2l0 1.7M32.6 20.9l-.5 -.8M77.5 3.7l.1 1.9M55.6 24.5l-1 1.9M.9 11.4l-1.1 1.7M71.2 55l-.1 -1.1M47.2 17.4l-.1 2.3l-.7 1.2M62 28.6l-1.4 1.2M14.6 50.7l1.4 1.7M69.7 .9l2.1 -1.1M16.2 17.9l-1.1 -1.2M49.5 35.9l-.4 .8" stroke="#d282e2" stroke-opacity="0.6" stroke-width="2.0"/>
<path d="M5.9 42.2l-.4 -.1M30.8 4.2l-.3 -.3M37.2 17.4l-.3 -1M59 35.5l.9 .2M43.5 27l-.1 .7M54.3 16.8l-.8 -.4M24.5 42l.8 .4M48.1 40.7l.2 -.8M.1 44.2l.1 -.6M4.3 31.1l-.6 -.3M46.9 31.6l.4 -.4M54.9 58.3l-.1 .7M77.7 53.1l.1 .5M62.1 7.9l-1.1 -.5M32.8 47.7l.1 .7M44.5 8.8l.6 .2M38.7 55.6l.9 -.8M20.5 11.1l-1.2 -.4M5.3 30.5l-1.1 -.5M38.8 54.9l.6 .1M42.9 53.9l1.4 .1M35.8 50.5l-.7 -.3M5.5 8.1l.3 -1.1M23.9 48.6l.9 -.8M47.4 27.7l.4 .2M77.5 36.3l1 -.1M68.8 20.8l.5 -1M64 56.7l-.9 0M7.1 53.1l0 -1.3M3.8 40.6l-.7 .1M56 26.4l.3 -.4M30.4 49l.7 0M7.2 49.7l-.1 .5M.6 1l.1 1M30.2 55.4l-.3 .3M2.8 5.6l.6 .5M42.9 57.1l.4 -1.1M60.1 36.3l.3 -.8M45.1 47.1l-.7 -.7M34.5 31.7l-.5 -.3M15.3 4.7l-.8 .6M74.2 48l.3 .4M40.2 21.3l-.4 -.3M50.6 21.6l-.9 .2M1.6 53.8l.2 1.3M18.1 33.4l.3 -.2M37.6 7.6l.4 -.3M31.7 5.9l.6 .3M10.4 24.6l-.4 -.4M22.1 21.4l-.6 .3M52.6 43.2l-.3 -.9M75.6 57.7l-.3 -.6M43.4 21.9l1.1 .3M2.9 43.1l-.8 .2M6.3 56.7l.6 -.5M71 18.3l-.5 -.6M15 57.9l-.2 -.5M23.8 47.9l.3 -.9" stroke="#a850d0" stroke-opacity="0.7" stroke-width="1.2"/>
<path d="M12.3 20.9l.2 1.1M78 30.4l-.2 -.8M53 8l-.3 -.2M2.9 36.2l.1 .4M57.2 10.8l1.1 .2M20.5 57.5l.5 -.8M40.4 56.5l-1.2 .4M31.7 10l.6 .2M46.7 54.6l.2 .7M47 45.6l.2 -1.3M34.3 19.6l1 -.3M24.5 9.2l-1 -.8M35.3 12.7l-.8 .1M20.9 54.1l.4 .3M26.8 8.4l.9 0M71.4 57.4l-.7 .6M26.5 22.5l-.6 .8M15.8 30.4l.5 .1M6.2 12.7l1.2 -.6M75.8 47.6l-.2 .9M13.2 32.7l.2 .5M16.7 13.6l.5 -.6M8 27.2l1 -.6M30.5 45.3l.8 .4M69.4 43.9l-.4 .9M42.2 1.6l-.1 .6M14 10.3l-.5 -.4M11.9 1.2l.1 -.8M50.8 30.2l.6 -.3M72.6 7l.4 .1M55.7 33.4l-.7 .9M2.6 34.7l-.6 .4M29.2 52l.3 0M72.8 17.8l1.2 .4M42.6 49.1l.2 -1.3M57.7 49.5l-.6 .9M40 37.8l.3 .1M6.2 25.2l.1 -1.4M47.1 17.2l.5 .1M27.9 41.8l.3 .1M54.8 25.3l.3 -.1M77 38.9l.2 -.3M71.3 21.1l1.2 .4M64.7 1.2l.5 -1M51 5.6l-.4 -.2M72.8 20.2l-.1 -.3M22.1 57.8l.4 0M41.1 49.6l.1 -.4M51.7 34.3l.7 -.1M19 14.4l.3 .1M45 1.6l-.3 -.5M52.8 38.4l.4 .2M28.3 52.7l.9 .2M31.8 .6l0 .4M11.5 18.1l-.9 -.5M37.7 42.2l-.3 .2M77.4 25.7l.1 .3M49.9 49.2l-1.1 -.7M46.9 51.7l-.5 .1M28.1 10.6l.1 -.8M54.9 16.5l-.7 -1M5.8 .3l-.2 -.5" stroke="#a850d0" stroke-opacity="0.7" stroke-width="1.6"/>
<path d="M48.1 3l-.4 .3M18 39.8l-.2 .1M64.1 35.1l-.1 .1M68.3 1.4l0 -.2M2.6 36.5l-.2 .3M15.7 54l.1 0M68.6 31.9l-.2 .3M62.5 22l.4 .3M63.3 19.9l-.1 .4M54 21l-.4 -.1M73.2 53l-.2 0M49.9 40l-.1 .2M23.5 9.4l.2 -.2M7.8 27l-.3 .4M31.4 29.5l.2 .4M38.4 1.5l.1 .1M14.3 24.9l-.5 -.1M.3 29.5l-.5 .2M56.2 28.5l.3 .4M76.6 52.5l-.2 -.1M46.4 1.9l0 -.2M72.4 42.8l.1 .2M40.2 .9l-.4 .2M57.3 26.6l.5 -.1M77.7 15.3l.1 -.2M77.3 54.1l-.1 -.2M71.8 43.2l.1 .2M62.9 44.7l.2 .3M61.4 43.6l.3 -.1M13.8 47.9l.3 -.4M1 52.2l.1 -.3M33.2 13.5l0 .5M54.6 44.3l-.4 -.3M56.1 .5l.5 0M71.8 29l-.4 -.2M3 31.6l0 -.1M76.1 3.6l.4 -.1M45.5 22.1l0 -.2M67.6 12.9l-.1 .3M48.4 42.3l-.1 .1M45.3 55.5l-.1 -.3M29.1 41.9l.1 0M9.8 3.6l-.3 -.3M22.9 58.4l.2 .3M40 17.1l-.2 .4M64.2 57.8l.2 .1M15.9 28.5l-.1 .4M5.2 19.1l-.3 .1M43.9 45.4l-.1 0M69.8 2l-.1 0M39.6 33.4l.1 -.1M42.4 51.9l-.3 -.4M63.7 30.1l0 .1M9.1 2l-.3 -.2" stroke="#7030b8" stroke-opacity="0.8" stroke-width="0.8"/>
<path d="M11.6 2.7l.2 0M17.7 10.1l-.2 -.2M34 6l-.2 0M31.2 45.3l-.2 .1M24.3 12.3l.2 .1M70.9 0l.2 .3M25.2 24.7l-.4 .1M15.7 49.2l-.1 -.3M50.1 37l-.2 -.3M4.8 16.1l.3 -.3M50.5 51.4l-.3 0M1.3 40.5l-.1 -.2M56.8 26.3l-.1 .2M9.2 48.2l-.1 .1M13.3 21.1l.3 .2M63.2 54.9l.4 -.2M9.1 8.9l-.1 0M21.4 13.3l.2 .3M5 12.7l-.3 0M58.3 6.7l.2 .2M17.3 56.2l-.1 .4M54.2 25.6l-.2 -.1M59.2 3.5l-.4 .2M61.2 21.9l0 .1M74.8 41.7l-.1 .2M20.7 36.8l-.3 -.2M47.1 1.6l-.1 0M35.3 56.6l-.1 0M19.6 40.6l-.4 -.2M.3 21.1l-.4 .1M68.5 7.1l0 -.2M25.5 7.8l0 -.2M21.2 40.5l-.4 .1M77.4 37.3l.1 .1M36.8 2.9l.1 -.1M26.1 36l-.4 -.1" stroke="#7030b8" stroke-opacity="0.8" stroke-width="1.2"/>
</g></g>
<defs><clipPath id="mc7"><rect x="0" y="0" width="78.2" height="58.8"/></clipPath></defs>
<g transform="translate(753.8,48.9)" clip-path="url(#mc7)"><rect width="78.2" height="58.8" fill="#f0f3f0"/><g filter="url(#mb)" stroke-linecap="round" stroke-linejoin="round" fill="none">
<path d="M69 55.8l2.1 1.1l.7 1.2M13.6 38.1l2.6 0M20.7 28.3l-1.6 -1.4M25 27.1l1.6 .3M44 38.6l-.6 -1.2M50.3 23.3l2.4 .7M42.4 9.5l2 .1M68 38.7l-.3 -1.5M36.5 24.3l-.4 -1.7M62.3 22.3l-.9 -2.1l-1.3 -.4M30 50.3l-1.6 -1M56 36l-1.2 -1.9M52.1 37.6l-1.5 -1.1M53.7 27.1l1.3 -1.3" stroke="#c8b8ea" stroke-opacity="0.6" stroke-width="2.4"/>
<path d="M34.3 7.7l-1.1 -.9M52.5 .9l2.1 -1.9M29.6 13.1l-1 -1.3M29.4 50l1.2 -.6M22.5 39.6l1.7 -1.3M51.5 22.9l1.3 -.8M78.1 19.1l-2.3 -2.4l-.5 -1.9M30.4 43.2l.5 -3l.2 -1.8M39.9 26l1.9 -.3M28.4 58.5l1 -2.1l0 -1.4M31.8 54l1.5 -2.1M39.2 42.1l-.3 -1.4M56.8 31.7l-.5 -1.6M8.2 33.1l-1.2 -1.6M56.8 9.2l1.1 -1.1M38.5 24.2l-.1 -2.3l.4 -1.3M50.8 15.1l-.7 -1.1M45.8 4.4l1.2 .5M52 2.5l3.2 .4l1.6 1.1M11.9 11.5l2.2 .3" stroke="#c8b8ea" stroke-opacity="0.6" stroke-width="2.8"/>
<path d="M50.2 18l1.7 -.8M36.9 12.7l2.4 0l1.3 .6M12.2 43.8l-2.5 -1.7M18 20.4l-.6 -3.1l1.3 -1.3M32.4 58.2l-.4 -1.6M17.7 48.5l1.2 .2M16 2.4l-1.6 -3M65.6 19l-.4 -3M71 23.6l.9 -1.8M69.9 25l1.4 -.5M16.1 25.2l-.1 -2M15.2 19.6l-.3 -2.7M51.9 18.6l-.3 -1.4M16.2 17.5l2.9 -.4M37.9 35.7l-1.1 -1.2M2.3 25.8l2.2 1.3M37.1 58.1l-1.1 -1.7M34 14.9l2.1 -.6M36.6 19.5l.9 -1.8M46.1 25.9l-.9 -1.4M1 30l-1.9 -2" stroke="#c8b8ea" stroke-opacity="0.6" stroke-width="3.2"/>
<path d="M63.5 22.9l2.6 .9l1 1.3M34.3 8.6l1.4 -.4M50.6 5l2.5 .7l1.2 1M36.8 2.5l2.3 1.1M28.2 51l-2 -1.8" stroke="#c8b8ea" stroke-opacity="0.6" stroke-width="3.6"/>
<path d="M43.9 45.5l-1.8 -2M59.1 40.8l.4 -1M16.5 3.5l.7 -1.7M25.3 20.9l1.5 -.6M68.6 20.5l.7 -.9M30.7 48.6l.9 -.4M47.2 23.3l1.8 .1M29.7 28l1.7 0M15.2 34.3l.9 -.2M46.9 16l1.1 -1.2M35.9 57l1.1 .1M34 10.5l1 -2.3M75.8 22.8l1 -1M26 35l1.4 -2M3.4 52.4l-.9 -.7M43.1 35.8l.1 -1.9M16.4 41.3l.8 -.7M50 23.6l.4 -2.7l-.6 -1.5M41.9 26.3l1.3 -2.4M65.2 11l-.6 -.6M61.4 20.7l.9 -1.2M63 31.4l-1.4 -1M46.9 14.5l.5 -2.3l-.2 -1.4M52.6 20.8l.4 -1.3M17.3 28.5l1.6 -1.6l1 -.9" stroke="#9c78dc" stroke-opacity="0.75" stroke-width="1.6"/>
<path d="M74.7 33.2l.8 -1.2M26.3 44.8l-.7 -.9M74.4 26l-1.2 -1.5M38.5 23.8l1.3 .4M6.4 13l.4 -1.5M9.3 14.9l1.7 -.4M57.6 2.6l-.8 -1.2M33.1 33.3l1.1 -1.3M40.7 11.1l.8 -.8M67.7 .6l1.7 .8M.3 19.6l2.7 .3M55 18.6l.9 -.5M61.3 44.7l2.3 -1.2M77.5 4.7l-1.9 -2M60.4 16.9l1.7 .7M59.1 20.6l.4 -1.3M66.1 17.5l2.5 -1.1l1.5 -.5M38.3 12.7l2.4 .3M6.1 48.5l1.2 -.4M24.4 51.4l-.3 -1.8" stroke="#9c78dc" stroke-opacity="0.75" stroke-width="2.0"/>
<path d="M58.2 44.2l-1.1 -.8M.7 15.4l2.1 -1.4M37.5 58.4l1.3 -.1M20.4 28.1l1.9 .9M6.5 40.1l1.2 .6M57.9 16.5l-.7 -.6M39.6 14.5l-.2 -1.4M34.3 54.6l-.4 -1.1M7.3 31.1l-.4 -1.4M44 53.8l1.1 -1.6M50 11.7l1.5 .6M.3 9.4l.3 -2.7l.8 -1.5M47 12l-.5 -.8M42.1 21l-.3 -2M56.6 1.3l-1.2 -.9M37.4 44.8l1.9 .6M31.3 46.3l-.3 -2M44.3 19.2l.7 -.5M8.1 25.6l-.9 -1.6M11.9 30.9l.8 -1.8" stroke="#9c78dc" stroke-opacity="0.75" stroke-width="2.4"/>
<path d="M46.8 13.9l.4 .1M43.4 11.5l-.4 -.2M65.1 27.4l-.3 .2M60.1 18.8l.6 0M30.1 2.7l.2 .9M71.1 18.8l.3 .1M76.4 53l-.2 .7M11.8 1.9l-.3 1M60 34.1l-.5 -.5" stroke="#7a4cc8" stroke-opacity="0.75" stroke-width="1.2"/>
<path d="M3.9 54.1l-1 -.3M35.6 16.9l.7 -.4M34.6 18.3l-.4 .4M35.5 24.2l.1 1M17.2 21.2l-.3 -.8M51 1.3l.5 -.5M31.3 40.5l.4 .7" stroke="#7a4cc8" stroke-opacity="0.75" stroke-width="1.6"/>
<path d="M40.5 55.5l.2 -.1M35 10.8l-.2 .1M18.7 50.2l0 -.2M32.7 51.3l-.1 .2M17.2 27.6l-.1 -.1M29 40.6l.2 -.1M1.5 23.9l-.2 -.1M73 6.7l.1 0M53.3 33.9l-.3 -.1M46 18.5l0 .3M13 37.9l-.2 .2M26.1 3.6l-.2 -.1M72.9 54.3l.1 -.1M4.2 56.3l-.1 .1M8.5 38l.2 0M52.3 33.8l0 -.3M61.9 31.2l.1 -.3M29.5 45.9l-.1 -.1M63.7 22.4l-.2 .1M77.2 45.2l0 .1M37.6 1.9l.3 0M36.6 12.6l0 -.1M34.8 58l-.3 -.1M30.7 33.6l-.2 -.2M49.1 12.2l-.2 .1M35.6 48.6l-.1 .2M67.5 44.8l-.1 .1M28.6 17.1l-.2 0M1.4 58.6l-.2 -.1M43.2 54.7l-.1 -.1M60.8 .2l.1 .1M60.7 14.3l-.1 -.2M73.8 13.5l-.2 -.1M3.2 43.8l0 .2M75 15.4l0 .1M31 1.1l-.3 .1M27.8 6.5l-.2 -.2M7.7 40.7l0 -.1M10 4.9l-.2 -.2M11.6 31.2l.1 -.1M35.1 24.8l-.2 .1M52.5 12.9l-.1 .2M74 17.9l.2 -.1M57.1 29.8l-.1 .1M26.3 54.3l.3 .1M14.9 29.9l.2 -.2M27.4 24.5l-.2 .1M12.7 33.4l-.2 -.1M66 34.1l.2 0M36.8 15.1l.1 .1M41.9 14.1l-.3 -.2M43.5 18.5l.1 .2M58 27l.1 .2M69.5 37.8l.1 .2M62.6 42.1l-.1 -.1" stroke="#5a4a8c" stroke-opacity="0.75" stroke-width="0.8"/>
</g></g>
<defs><clipPath id="mc8"><rect x="0" y="0" width="78.2" height="58.8"/></clipPath></defs>
<g transform="translate(836.0,48.9)" clip-path="url(#mc8)"><rect width="78.2" height="58.8" fill="#fdfafd"/><g filter="url(#mb)" stroke-linecap="round" stroke-linejoin="round" fill="none">
<path d="M73.2 49.3l1.8 .3M8.9 11.9l1.6 -1M40.4 18.7l1.7 -.2M4.7 56.7l-2.1 -2.2M48 16.9l-.4 -2.4M4.7 7.6l-1.3 -2.7l.3 -1.8M26.3 29.4l2.6 .3M33.1 .5l-1.5 -1.8M70.9 35.3l2.6 1.4l1.6 -.7" stroke="#e2c6f2" stroke-opacity="0.6" stroke-width="2.0"/>
<path d="M29.3 56.3l2.6 -.5M20.9 51.3l-1.8 -1.9l-1.5 .2M60 15l-2.1 -2l-1 -1.4M39.4 13.3l.5 -1.5M25.5 21.8l2.2 -.9l1.4 -.2M3.3 39.3l2.8 .1M21.4 31.5l.1 -2.2M21.7 16l-.9 -1.6M25.3 57.8l2.6 1.4l1.6 -.8M65.6 30l2.6 .2l1.2 -.9M37 27l3 .9l1.5 1.1M11.2 55.9l1.2 -.9M46.5 31.9l-2.2 -2.2l-1.6 -1M26.9 9.4l2 -1M74.6 56.9l0 -2.2l-.1 -1.3M47.4 21.9l3 1l1.9 0M33.1 41.4l-.7 -1.9" stroke="#e2c6f2" stroke-opacity="0.6" stroke-width="2.4"/>
<path d="M23.3 55.1l3 .1l1.7 .6M37.7 15.5l.8 -1.6M70.3 6.7l1.6 -.8M3 6.6l0 -1.5M74 51l1.4 -2.3M29.8 2l1.5 -.6M52.4 41.6l-.7 -1M22.5 57.4l1.6 -.9M17.3 24.1l3 -.2l1.1 -1.5M34 53.5l1.6 -1.6M32.9 18.4l1.4 -1.1M24.3 39.1l2.2 .2M7.7 5.7l1.5 -.4M32.4 5.2l1.7 .2M48.9 6l2.7 -1.7M46.9 32.6l1.6 -.2" stroke="#e2c6f2" stroke-opacity="0.6" stroke-width="2.8"/>
<path d="M65.6 20.9l-.6 -1.5M24.7 12.5l2.6 1.1M13.5 6.5l.8 -2.3M26.2 3.6l3.2 -.5l1.9 -.2M19.2 25.6l.3 -3.1l-.4 -1.8M32.7 4l-.4 -1.5M20.1 12l.4 -1.5M75.9 15l3.3 0M56.9 19.9l1.4 .6M69 24.2l2.7 .8M66.5 52l1 -2.2l.5 -1.4M10.4 51.6l1.7 -1M18.6 21.8l1.3 -1.7M15.7 11.8l.2 -3.1l.9 -1.6M47.4 54.3l1.6 -1.1M13 15.5l.6 -1.1M11.6 40.6l2.5 .9M3.3 27.2l-.5 -1.9M6.2 35l.3 -2.5l.1 -1.5M2.1 14.1l-2 -1.9l-1.6 .2M69.8 18l1.5 1M74.6 27.5l-.4 -2.7l.2 -1.6M23.8 25.8l.1 -1.8" stroke="#e2c6f2" stroke-opacity="0.6" stroke-width="3.2"/>
<path d="M49.5 23.9l.1 -1.6M16.7 1l1.1 -2.3l.5 -1.4M.8 21l-1.2 -2.4l-1.5 -.5M31.9 40.3l.9 -2M20.4 50.9l.7 -1.1M10.7 43.9l1.7 1.3M53.4 37.5l-.9 -.8" stroke="#b684e0" stroke-opacity="0.75" stroke-width="1.2"/>
<path d="M50.4 1.4l.4 -.8M40.6 36.7l.8 -.7M68.4 6.6l.6 -1.8M7.6 33l.8 .7M26.7 48.3l1.3 -.2M54.7 30.3l2 -.2M73.4 20.2l-.9 -1.4M29.7 54.1l-.2 -2.5l.7 -1.3M33.1 50.2l.5 -1M40.1 56.1l2.7 -.5l1.3 1M26.5 18.1l2.5 -.2M49 40.2l1.5 .9M61.6 17.7l1.6 -.8M21.1 55.6l1.7 -2M43.6 29.1l2.7 -.5M8.4 8.7l-.1 -.9M4.5 4l-1.2 -1.7M3.8 27.5l-1.6 -2M50.2 53.1l.7 -2.6M10.5 11l.8 -1.1M77.5 31.6l1.4 .5M55.8 42.9l.1 -1.6M44.9 13.6l1.1 -.6M48.2 56.7l1.1 .1M34.7 8.2l.6 -2.7M5.9 41.1l1.5 1.1M57 11.6l1 -.8" stroke="#b684e0" stroke-opacity="0.75" stroke-width="1.6"/>
<path d="M11.7 17.8l-1.2 -2.4M78.2 29.2l-.4 -2.1M9 7.9l.3 -2.3M40.8 21.9l2.6 .2M67.4 37.8l-1.2 -1.5M18.7 27.3l0 -.9M72.3 18.6l.4 -1.8M65.7 22.9l1.2 -1.8M16.3 30.4l-1.2 -1.1M11.6 36l-.2 -2M1.8 27.8l-.3 -2.6M77.9 14.4l-.3 -2.2l-1 -.8M26 52.7l1.8 -.8M54.4 17.3l-2 -1.8l-1.1 -1.1M15.3 46.1l1.3 0M25.5 43.4l-.2 -1.3M30.3 4.3l2.7 .1M55.3 13.9l1.4 -.8M53.8 1.6l.3 -1.2M10.8 42.8l.7 -1.6M19.6 46l2.2 -1.5l0 -1.6M47.5 10.3l1.4 -.5" stroke="#b684e0" stroke-opacity="0.75" stroke-width="2.0"/>
<path d="M37.7 31.1l.7 -1.2M45.5 .5l-.6 -1.9M23.7 50.3l-.9 -1M27.1 3.7l1.3 -2.1M47.7 29.1l2.4 -1.1M7.3 31.7l-.4 -1.4M47.4 56.8l.4 -.7M75 .1l1.6 -1.2M36.3 2l1.1 -1" stroke="#b684e0" stroke-opacity="0.75" stroke-width="2.4"/>
<path d="M55.8 32.4l-.2 .4M36.6 26.2l.9 .4M37.6 15.2l.3 .3M4.4 5.2l.4 .2M11.3 12.8l.2 .4M33.4 .2l.2 .7M18.9 8.1l1.1 .1M50.1 39.4l-.3 .3M1.4 28.1l.5 -1M24.2 13l-.3 .3" stroke="#9058cc" stroke-opacity="0.75" stroke-width="1.2"/>
<path d="M68.6 24.9l-.1 .3M52.8 10.6l.6 -.9M19.9 3.7l-.3 -1.1M56.4 11.5l-1 .1" stroke="#9058cc" stroke-opacity="0.75" stroke-width="1.6"/>
<path d="M70.3 37.5l-.2 -.1M76.8 31.8l.2 -.2M54 39.8l-.1 .2M10.2 19.6l0 -.2M9 3.4l-.1 -.2M59.7 4.9l.1 -.2M60.6 6.9l-.1 .2M38.7 24.9l-.2 -.2M77.5 40.2l.1 0M34.2 54.7l-.1 .1M43.6 21.2l-.2 0M74.4 42.2l.2 .1M61.8 4.9l-.1 .1M5.9 29.5l0 -.3M15.5 32l-.2 -.1M6 .7l.1 0M36.8 3.8l0 .1M47.1 10.3l-.2 -.1M11.7 14.4l0 .2M39.8 36.3l-.1 -.2M13.5 43.5l0 -.2M7.4 45.6l-.1 -.1M14.4 36.5l0 .2M16.1 37.7l-.1 .2M58.1 20.7l.2 .2M59.8 1.7l.1 0M17.1 16.5l-.2 -.1M22.9 24.4l.3 0M29.4 49.9l-.2 .2M31.1 5.6l.2 -.1M45.5 3.7l-.2 0M43.4 4.4l-.2 -.2M3.7 16.4l-.2 .2M22.4 42.8l-.1 0M15.1 12.6l-.1 -.1M14.4 14.5l-.1 -.2M66.7 5.6l0 .2M68.7 32.4l.2 0M51.5 13.6l-.2 .1M69.6 51l0 -.2M67.8 26.5l.2 -.2M45.9 29.9l-.2 .1M29.5 35l.3 0M21.4 24.5l-.2 -.1M60.3 .1l-.2 .1M4.1 9.4l-.2 -.2M66 5.3l.1 .2M6.4 56.2l.2 -.1M10.3 52.1l.1 .3M71.1 10.1l0 -.3" stroke="#6a5898" stroke-opacity="0.65" stroke-width="0.8"/>
</g></g>
<defs><clipPath id="mc9"><rect x="0" y="0" width="78.2" height="58.8"/></clipPath></defs>
<g transform="translate(671.8,128.8)" clip-path="url(#mc9)"><rect width="78.2" height="58.8" fill="#fff8ff"/><g filter="url(#mb)" stroke-linecap="round" stroke-linejoin="round" fill="none">
<path d="M39.4 56.2l.6 -1.9M6.7 38.2l1.5 0M73.6 34.9l0 -1.6M45.9 3.7l1.1 -3.3l-1.1 -1.8M28.3 8.5l3.4 -1.1l.9 -2M11.1 5.6l2.7 .5l1.4 -.8M62.4 1.5l-.5 -3.2l-.2 -2M35.2 9.3l.6 -1.6M44.2 46.5l1.4 -1.1M33.8 .7l2.9 -2.1M49.7 38.8l.8 -1.8M40.4 52.4l1.7 -.9M25.1 37.6l.2 -3M69.3 32l-2 -3l-.7 -2M49.3 42.4l3.8 -.5l1.8 -1.5M44.6 31.7l3.3 .2l2 .1M33.6 20.2l3 .1M25.8 14.5l-1 -2.2l-1.1 -1M74.3 23.7l1.3 -.8M44.6 44.3l.4 -3.9M21.7 15.5l2 .6M17.9 54l1.2 -1.4M7.8 16.2l1.7 -1M69.2 31.6l1.9 -.4M55.5 44.2l3.3 -1.2M37.3 6.8l.5 -2.4l1.2 -.8M41.5 25.7l2 -2.7M16.2 49.3l1.9 -.1M57.9 53.2l-1.4 -3.5l-.5 -2.2M67.1 52.5l1.3 -1.6M57.7 50.7l1.8 .3M18 36.4l.7 -2.8l-1.1 -1.4M21.1 12.9l-1.9 -2.5l-.9 -1.7M39.6 56.8l1 -1.3M73 1l3.4 .7l1.1 1.8M17.1 16.5l2.8 .7l1.6 .7M50.5 8.1l1.9 -.3M6.2 15l3 .8l1.3 1.3M36.9 12.5l-1.1 -1.9l-1.1 -.7M34.3 17.6l2.2 -2.8M44.1 9.7l-.9 -1.2M63.6 23.6l2.1 .7M14.6 3.1l2.8 -.3M58.1 10.2l-.6 -2.8l-1 -1.4M15.4 46l.5 -1.8M71 36.7l3.1 .1l1.7 .8M49.9 18l2.8 -.4l1.3 1M18.5 39.3l1.3 -.6M58.6 5l2.3 .1l1.4 -.1M54.9 33l1.9 -.8M63.1 5.5l2.1 0M17.8 41.8l1.7 -1.4M50.4 24.7l-1.5 -2.9l-.3 -1.9" stroke="#e084f2" stroke-opacity="0.75" stroke-width="1.6"/>
<path d="M68.1 50.6l1.5 .5M57.5 18.3l.4 -1.9M5 9.2l2.6 -.8l1.5 -.7M23 12.4l2.3 -2.2M55.1 12.7l2 -.2M50 55.9l-1 -2.7M68.2 26.4l.5 -1.9M52.9 55.6l1.8 -.5M25.9 38.2l3.4 .5M40.4 16.4l1.4 -2l.8 -1.3M38.9 31.1l3.9 -.2l2.1 1M73.1 45.4l.1 -1.4M73.6 53l-.8 -3.7l1.4 -1.8M3.6 37.2l.1 -2.9M43.2 31.2l.9 -1.3M66.3 12.4l2.3 .4M49.9 23.9l2.3 -2.7M74.4 44.8l1.8 -2.8M74.5 28.9l.4 -1.8M53 2.4l3.4 -2M42.7 13.5l2.4 -1.2M59.7 55.1l-.5 -1.5M58.9 21.7l.9 -2M77.6 20.1l-.1 -2.3l.2 -1.4M64.4 24.5l3.3 -1.7l.9 -2M39.9 46.1l1.3 -.7M47.9 13.2l1.6 -2.3l1.6 -.2M64.8 44.8l-.3 -2.1M57.6 39.9l.6 -1.9M39.2 2.3l-1.7 -2.2M76 18.2l1.2 -3.6l1.2 -1.9M40.6 9.9l2.5 -.4M21.3 38.8l1.2 -1.6M23.5 38.3l-1.2 -1.4M1.7 38.2l2.9 -2.6l2.2 -.8M42.6 2.8l2.4 .8l1.3 .7M68.3 27.5l.7 -2.4l1.3 -.7M30.1 11.8l1.6 -.5M72.7 55.1l2.9 -1.3l1.8 .6M17.6 6.9l1.5 -.9M47.8 33.3l3.3 -1.7M35.8 4.9l.6 -3.5M74.4 13.9l1 -1M65.2 52.1l1.3 -2.1M29.3 14.7l3.3 -2M67.1 35.1l1.9 .6M43.1 12.3l2.9 .9M9.1 15l.4 -2.6l1.3 -.9M64 13.9l2.3 -1.1l.4 -1.5M69.2 25l-2.2 -2.6M56.7 39l1.6 -3l1.9 -.9M78 41l-.5 -1.6M43 54l1.8 -.9M58.9 25.1l.3 -1.7M65.4 35l.1 -2.9M62.5 9.1l.3 -1.6M20.9 46.5l3.5 -1.5l2.3 .1M75.1 19.2l3.9 1M4.1 31.7l-.7 -1.8M69 25.5l-.8 -3.2l.8 -1.8M33.6 4l.9 -2.6M20.4 28.6l0 -4l-.9 -2.2M47.4 28.8l-.5 -2M53.4 34.7l-1 -3.8l1.3 -2M57.8 0l.5 -3.1l1 -1.6M77.2 28.9l1.4 .5M45.8 25.3l-1.2 -2l-.4 -1.3M42.5 35l2.5 -.9M40.5 29.4l.9 -1.4M3.4 14.3l-.7 -3.5l.6 -2M45.6 48.1l3 -.5M76.2 25.6l-.2 -1.4M71.1 32.7l-1.2 -2.2l-1.5 -.2M17 15.4l2.5 -1.3M73.4 42.5l1.4 -.4M45.9 21.6l-1 -1.7" stroke="#e084f2" stroke-opacity="0.75" stroke-width="2.0"/>
<path d="M55.3 13.2l1.2 -1.9l1.3 -.1M43.5 .1l3.1 .4l1 1.6M50.7 49l.3 -3.5M73 8.9l1.7 -3.2M61.6 47l-.7 -2.3M68 38.5l1.4 -.5M41.2 58.5l-1.5 -2.7l-1 -1.6M2.7 16.6l-.7 -3.6M24.9 12.3l-.4 -1.5M38.9 21l3.8 -.3l2.3 .3M76.3 9.9l.7 -2.9M7.5 30.4l0 -2.2M61.5 21.7l1.6 -2.2M20.5 57.4l-1 -3.7M74.3 56.2l1.4 -.3M44.9 20.5l3.5 .3M6.8 11l3.6 -.5M53.3 28.1l1.7 -2.6l1.2 -1.4M22.8 58.6l-.6 -1.6M77.7 56l1.4 -.4M14.6 23.9l1.4 -1.7M43.8 37.2l1 -1.3M15.6 20.4l-.6 -1.5M41.6 2.2l.6 -1.5M57.9 12l-.6 -3.1M69.4 13.1l2.9 .2l1.8 0M8.4 43.2l-2 -2.4l-1.7 -.8M34.3 47l1.2 -2.6l1.4 -1M41.5 50.9l1.5 -.2M15.6 36.1l-1.3 -3.5l-.4 -2.2M39.4 54.6l1.6 -1.1M1.6 53.4l-1.1 -2l-1.1 -.8M22.2 43.4l-1 -1.5M48.5 37.9l2.4 -.8l.7 -1.4M31.6 57.4l-.1 -2.8l-1.3 -1.1M33.4 30l1.3 -1.5M7.1 32.8l2.8 -1.3l1.8 -.4M77.5 22.3l1.6 -2.3l1.1 -1.3M14.3 46.3l.3 -3.4l-.5 -2M62.2 23.3l2.1 -1l1.4 0M63.2 55.9l-1 -1.6M6.6 6l-.8 -3.1l.8 -1.7M53.5 29.4l1.2 -1.7M51.8 35.7l2.5 -.1l.9 1.2M49.8 18.8l2.8 -2.2l-.1 -2.2M33.4 28.5l1.3 -1.7M69.5 43.3l-.2 -2.7M56.1 17.3l3.1 .1l1 1.6M56.4 37.1l-1.4 -3.4M23.4 14.6l-1.7 -2.7l-.7 -1.8M61.5 24l2.2 -1.4M15.7 2.7l-1.4 -1.8M75.8 47.8l1.2 -2l1 -.9M31.8 48.2l2.5 -1.3l1.6 -.4M1.7 53.3l2.4 .8l1.4 .4M4.9 50.6l2.9 -2.2M62.5 51.8l-.7 -1.9" stroke="#e084f2" stroke-opacity="0.75" stroke-width="2.4"/>
<path d="M50.4 35.6l.8 -2.4M47.3 31.1l2.6 .2l.8 1.4M26.2 28.8l-.4 -2.4M34 21.5l3.3 1l1.7 1.1M34.5 38.6l3.6 -1.1M32.8 57.6l.2 -1.6M15.4 34.6l2.3 -3.1M62.8 43.5l3.6 1.1M14.1 36.2l1.5 -2.3M53.8 3.2l1.7 -.7M1.5 40l2.1 0M31.5 50.5l-.2 -1.5M34.1 43.3l-1.3 -2.2l.3 -1.5M21.5 5.3l-.2 -1.5" stroke="#e084f2" stroke-opacity="0.75" stroke-width="2.8"/>
<path d="M23.5 11.4l3.4 -.6M.8 40.3l-1.2 -3.5M56.4 56.3l-1.1 -1.6M12.9 37.2l2.9 -.1M59.5 48l.1 -2.3M34 28.1l-.3 -2.3l-1.2 -.7M.8 56.1l-2.2 -3l-2.2 -.5M54.3 23.5l2.1 .4M28.5 37.5l1.5 -3.1M58.7 30.3l-1.4 -2.7l.6 -1.8M44.6 18.9l3.2 -.7M64.5 2.4l1.4 -2.5l.2 -1.7M78.1 36.6l2.8 -1.3l1.7 .7M69.1 3.8l.3 -2.4l.2 -1.4M41.9 10.5l1.8 -.4M3 28.3l-.5 -2.5l.2 -1.5M31.9 29.5l1.5 -1.6M4.4 14.5l.6 -1.8M9.1 49.9l-.3 -2M55.5 52.7l2.6 .4M56.8 10.6l-.4 -2.7M24.1 4.4l-1 -2.5l.4 -1.5M31.3 57.8l-1.1 -2.3M30.4 58.3l.3 -1.4" stroke="#b434e0" stroke-opacity="0.85" stroke-width="1.2"/>
<path d="M27.8 49.9l.3 -2M68.5 38.3l-.2 -2.1M62.9 4.5l-.7 -1.9M67.8 51.3l0 -1.6M6.5 29.3l2.7 .7l1.7 -.1M7.1 14.2l-.7 -1.5M46.3 46.3l3.7 -.4l2.2 .1M44.7 58.6l2.6 -.6M61.3 45.6l3 .4M18.5 49.9l2.2 -1.3l1.5 -.3M25.4 17.2l-1.6 -2.1M57.1 32.8l3.2 .1l1.6 -1.2M53.4 36.8l2.8 -.4l1.7 .2M75 49.3l-1.7 -2.4l-.7 -1.6M46.7 57.5l1.3 -.1M76.4 34.8l2.9 -2.2l.3 -2.2M29.7 36.7l3.2 -.5l1.2 -1.5M68.4 .3l3.6 .5M12 6.9l-2 -2.6l-.4 -1.9M12.7 57.2l-.4 -1.5M41.3 37.1l1.2 -1M53.2 1l.8 -2.6M64.7 38.6l.8 -1.1M66.2 31l2 .5M68.2 35.5l2.1 -1.4M31.4 14.3l2 0M77.4 29.9l2.8 .3M29.6 23.9l3.6 -1.2M9.9 14l1 -2M27.6 40.8l.7 -1.8M66 44.1l.1 -2.5l-.6 -1.3M42.7 12.5l2.6 -2.4M44.1 44.3l2.7 -.8M45.6 43.5l-.4 -2.3M16.2 57.8l1.9 -.3M6.8 26.9l-1.5 -2.7M34.7 37.6l1.9 -.9M45.3 54.4l.2 -1.6M39.2 44.2l2.9 -2M6.7 30.4l.7 -1.7M31.6 5l2.6 -.9M15.6 5.3l3.5 .6M29.3 25.3l3 -2.3M20.7 48.7l2.1 .3M5 37l-.2 -1.7M67.7 8.8l-1.1 -3.3l-.2 -2.1M61.7 19l.2 -2M34.6 5.2l-.9 -1.2M5.8 .9l2.4 .8l1.5 .4M53.6 57.4l-.5 -1.5M63.5 37.8l1.6 -2.9l-.4 -2M21.1 57.1l2.1 -.5M56.1 40.6l-.4 -2.5l-1 -1.1M61 20.2l1.7 .3M66.6 57.7l1.2 -1.2M1.9 48.9l.9 -.9M25.4 20.9l2.5 -1.2M55.2 34.1l-1.6 -2.4l-.7 -1.6M60.8 42.4l2.6 -2.5l2.1 -.2M42.9 36.3l3.7 -.5l2 -1M16 29.2l1.9 -1.8M51.7 12.2l3.1 .2M22.2 48.4l1.2 -.3M.6 2.3l3 -.3l1.5 1M64.9 2.9l.1 -2.5M11.5 31.5l-.2 -3.5l-.5 -2M12.9 35.2l-.2 -2.4" stroke="#b434e0" stroke-opacity="0.85" stroke-width="1.6"/>
<path d="M61.5 45.9l3.6 .1M52.1 54l1.1 -3.6M15.7 2.2l2 -1M45.7 56.5l-1.7 -2.6l-1.4 -1.2M7.2 23.4l1.6 -1.1M9.6 33.3l1.7 -.6M42.8 10.6l1.5 -1M49.4 4.4l.7 -1.6M56.8 9.9l-.1 -1.7M50.5 11.9l.3 -2.8M75.1 24.5l2.2 -2.7M45.8 47.3l.8 -1.9M24 8l-1.7 -2.5M64.6 26.1l2.6 -.2l1.2 1M73 57.1l-1.8 -3l-2.1 -.5M29 18.2l-1.7 -3l-1.6 -1.3M18.8 43l1.6 -1.5M50.3 32.1l1.9 -1.8l1.5 -.6M4.2 40.6l1.8 -1.8M77 41.4l1.3 .2M47.4 40.3l.9 -1.7M28.4 32.1l2.4 -.2M22.9 18.1l.1 -1.5M.6 47.2l-1.4 -2.4l-1.3 -1M50.5 35.3l2.4 -.5l1.2 .9M14.8 19.1l2.1 -2.4M25.5 20.3l1.7 -2.1l1 -1.2M54.3 44.8l3 -1.2M33.1 11.7l2.7 -.4M31.6 46.2l-.6 -1.5M61.9 32.9l2.5 .9l1.2 1.1M73.5 28.1l-.9 -3.3M67.2 46.7l2.3 -2.6M42.3 14.8l2.1 -2.5M72.2 9.5l1 -2.4l-.4 -1.5M54.6 40.3l2.2 .7l1.2 -.7M40.8 20.7l.1 -1.6M26.8 53.8l-.3 -1.2M68.1 22.1l1.2 0M54.5 40.5l-1.1 -1.5M2.7 45.9l2.1 -2.6M59.4 4l-.7 -1.1M20.8 17l2.8 -.2l1.7 -.2M44 22.1l2.1 -3M55.6 .5l1.3 -3.2M56.5 8.7l.3 -3.4M40.3 49.7l1.9 -1.4l.9 -1.1M49.1 45.5l-.3 -3.3M56.2 54.1l-.5 -3.4l-1.3 -1.6M59 36.4l.4 -3.6l.8 -2M17.8 21.7l.7 -2.4l-.6 -1.4M54.8 32.3l0 -3l.7 -1.6M37.5 20.1l3.6 .3l1.8 -1.2M57.1 52.8l2.5 -.6l1.5 .3M44.6 33.1l1.4 -1.8M1.4 2.6l1.1 -2.3l-.5 -1.4M54.2 9.4l-.8 -2.8l.8 -1.6M48.4 23.1l1.9 -1.2l.1 -1.3M60.5 10.4l-.5 -1.9M22.9 28.8l3.4 -1.1l2.1 .4M43.7 37.3l2.1 -2.4l-.3 -1.9M56.4 49.1l1.1 -3.5l0 -2.2M53.7 31.7l-.5 -3.2M54.6 54.9l3.6 .6l1.7 -1.3M1.8 35.1l-1.7 -2.1l-.8 -1.4M60.9 22.8l-1.4 -1.7M33.1 34.5l3.1 -1.8l1.9 -1M10.5 37.6l.9 -1.2M50.8 40.2l2.1 .1M33.1 14.5l1 -2.6l1.6 -.5M19.9 20.5l.8 -1.6M45.7 33l-1.7 -2.2l-1 -1.3M67.4 39.8l1.4 -3.5l-.3 -2.2M61.7 25.8l0 -2.8l-1.1 -1.2M64.6 35.5l-.3 -2M5.8 50.7l1.9 -.6M40.2 23.4l-.1 -1.2M25.1 53.1l2.4 -1.2l1.6 .4M76.3 4.4l-.8 -3.3M14.3 51l-.3 -2.6l-.8 -1.3M62.6 29.7l2.1 -.2" stroke="#b434e0" stroke-opacity="0.85" stroke-width="2.0"/>
<path d="M29.1 20l1.5 -.5M60.5 20.3l-.5 -2M44.1 13.8l2.3 .2l1.2 .5M72.5 43.3l.8 -2.3l-.5 -1.4M58.4 41.5l3.3 .2M23.2 57.8l.8 -1.3M7.9 41.2l3.6 .9M57.4 43.8l1.3 -.6M63.6 27.1l-.1 -1.9M65.8 .2l0 -1.6M68.9 14.4l.2 -1.3M40.1 12.1l2 -2.1l1.7 .1M35.7 43.7l2 .5M22.8 34l3.6 .6l1.6 -1.5M55.6 50.5l.9 -3.1M61.4 42.7l1.6 -1.8l.2 -1.5M4.9 14.1l.3 -2.2M14.6 15.5l3.3 -1.6l1.6 -1.5M73.8 41.9l1.4 -3.1l1.4 -1.5M27.8 49l1 -1M27.4 24.1l-1.1 -2.9M67 5.4l.7 -1.9M34.2 58.5l1.5 -1.4M3.1 50.5l.7 -1.3M1.1 18.4l-2.1 -3.1M53.1 22.7l2.2 .7M58.7 28.8l2.8 -1.2M46.4 43.4l1.7 -1.6M77.7 42.2l3 -.2M2.6 58.6l3.8 .2l1.8 -1.4M39.6 12.9l-1.9 -3l.4 -2.1M10.4 26l2.5 -1.6M71.7 24.8l0 -1.6M57.8 28.9l.9 -2.7l.6 -1.6M1.7 19l-.2 -1.6M16.3 38.2l-.2 -1.5M7.2 45.3l.9 -1.2M22.6 8.5l2.4 0M76.1 28.3l2.2 -2.9M61.9 36.8l.6 -2.7M70.8 28.7l2.5 -1.3l1.7 .1M61.2 4.1l3.6 -.6M69.8 30l-1.4 -2.2M66 57l1.7 -.7M44.2 37.7l1.8 .3M62.1 19.3l-1.5 -3.2M36.2 38.3l-1.1 -2.5M1.6 26l-1.4 -3.2M39.8 6.6l3.3 -.6M22 55.2l3 -.7l1.2 -1.4M1.1 16.2l1.7 -3.3M55.5 30.9l.1 -3.2l.5 -1.9M63.5 8l.6 -2.2M60.9 15.8l-1 -2.2l.4 -1.4M33.6 8.6l1.8 -2l1.4 -.8M61.7 10.9l2.1 -2M41.6 35.1l-.2 -2.1M43.4 39.9l-1 -2l-.9 -1" stroke="#b434e0" stroke-opacity="0.85" stroke-width="2.4"/>
<path d="M77.3 18.1l-.7 .1M30.5 47.4l-.9 1.5M49.3 52.4l1.5 -.8M50.5 34.2l-.6 -1.7M61.5 36.4l-.1 -.6M62.4 19.5l.2 -.7M27.9 47.4l-1.2 .1M18.5 21.6l-.2 .8M72.5 53.3l.1 -.6M26.1 51.5l.9 -.6M59.4 38.4l.3 .8M46.3 39.3l1 -.9" stroke="#6a1ccc" stroke-opacity="0.85" stroke-width="1.2"/>
<path d="M58.4 30.5l-.5 -.9M64.7 31.1l-.2 -.3M44.5 19.9l-1.6 0M36.6 43.4l1.1 .6M52.4 44.7l-.9 .4M14.4 17l-.1 1M65.6 54.9l.8 1.1M5.9 13l1.1 -1.1M51.5 47.6l1.4 .4M45.7 53.3l1.1 1.3M29.4 26.5l.2 .4M71.9 34l-.5 .6M6.9 7.9l.4 .7M68.6 9.2l-1.5 .3M62.2 23.1l.2 1M37.5 12.7l.3 1.8M43 54.4l-.4 1.7M3.6 3l1.2 -.7M44.3 32.7l1.4 -.9" stroke="#6a1ccc" stroke-opacity="0.85" stroke-width="1.6"/>
<path d="M54.7 23.6l-.1 .8M19.1 12.8l-.2 .6M35.2 1.8l-.4 1.7M53.9 27.8l-1.1 .1M62 10.4l.3 -1.5M26.9 41.6l-1.3 .1M59.3 15.3l-1.8 .1M36.8 41.9l.3 .6M7.3 2.3l-1.5 -1M8.8 15.9l-1.3 1.2M27.9 35.5l-1.2 -.2M68 40.4l-.9 .4M58.7 46.9l.4 .9M64.2 16.2l1.4 -.3M39.2 47.8l-.8 -1.2M68.7 34.3l.3 .4M48.3 26l-.3 1.6M10 57.5l-.2 -1M72 55.4l.7 .4" stroke="#6a1ccc" stroke-opacity="0.85" stroke-width="2.0"/>
</g></g>
<defs><clipPath id="mc10"><rect x="0" y="0" width="78.2" height="58.8"/></clipPath></defs>
<g transform="translate(753.8,128.8)" clip-path="url(#mc10)"><rect width="78.2" height="58.8" fill="#fef6fe"/><g filter="url(#mb)" stroke-linecap="round" stroke-linejoin="round" fill="none">
<path d="M70 40.7l.5 -2.1M26.8 9.2l1.5 .1M68.4 44.2l-.2 -1.5M52.4 48.1l-1.4 -2.6M22.2 15.2l1.9 -.9M6.1 51.3l.7 -1.5M52.4 44.2l-1.1 -1.8M6.1 56.6l-1.4 -1.2M54.1 52.7l-2.9 -1.8M30 6.3l-.2 -1.6M46.8 10.7l1.6 -.7M6.9 52.8l2.6 -2.2M59.9 14.3l.4 -1.1M54.3 38.3l-.4 -1.3M63.9 54.1l1.3 -1.2M36.1 50.8l1.6 -2.5M21.7 2l-1 -2.8l-1.5 -1M11.1 49l.4 -1.6M9 47.5l2.4 .5l.7 1.3M72.8 12.1l.3 -1.2M56.3 31.1l2.2 -.7M5.3 3.8l-.3 -1.8M50.3 16.9l-1.5 -2M64.8 20.5l-.6 -3.5M41.2 41.7l1.5 -2.2M58.5 49.5l2.4 -1M14.5 47.7l2.3 -2.7l1 -1.9M56.1 43l-1 -1M39.9 35.7l-1.2 -2.7l-.7 -1.6M17.7 6.4l1.5 -1M43.9 50.4l1.9 -1.7" stroke="#d8aef2" stroke-opacity="0.6" stroke-width="2.0"/>
<path d="M61.6 17.3l2.3 .1l1.2 .7M18.8 58.1l0 -2.5l.3 -1.5M10.4 52.5l-.2 -3.5M53.8 42.9l2.7 -1M2.1 44.7l-.9 -1.4M60.1 39.4l0 -1.6M27 9.9l1.4 -3.1M50.9 39.1l-2.9 -1.4l-1.8 -.7M1 38.1l-1.4 -1.1M35.2 38.5l1.2 -.4M51.9 39.2l.4 -2.4M6.8 54.3l-2.3 -2.5l-1.3 -1.6M51 36.3l-.5 -2.4l-1.3 -.6M10.2 56.2l1.4 -2l1.1 -.9M52.8 38.7l1.9 -1.3M57.9 36l-.1 -1.6M75.2 43l-2 -2.8M14.9 44.7l-2.1 -1.7l-1.5 -.6M6.9 43.5l3.6 .2M75.6 19.5l-1.4 -2.3M16.8 58l-2 -1.7M58 34.5l1.1 -1.4M30.8 19.9l2.1 0M18 51l.6 -1.2M66.2 53.7l2.6 -1.2l1.5 -.9M27.6 48.9l-2.4 -1.2l-1.5 -.6M38.9 35.3l-2.6 -1.4l-1.7 .3" stroke="#d8aef2" stroke-opacity="0.6" stroke-width="2.4"/>
<path d="M76.6 3.1l0 -2M11.9 56.9l1.6 -2.3l1.2 -1.1M51.3 44.1l1.5 -2.2M72.7 14.6l-.5 -2M64.3 26.3l2.8 -.9l1.8 -.1M48.6 24.5l.8 -2M73.5 48.6l-.8 -1.1M76.8 14.6l1.8 .4M30.2 10.9l.2 -2.5l-.1 -1.5M14.8 10.6l-.9 -2.2M55.8 6.2l2.1 .1M19.7 40.3l2.1 -1.3M53.9 47.8l-3 -1.7l-2 .7M35.4 25.3l1.8 .3M67 55.3l1.7 .4M6.5 37.2l2.6 -2.4l1.7 -1.2M13.4 46l-2.2 -1.4M39.8 24.5l-1.3 -1M42.4 .5l.2 -2.9M74.4 24.4l.4 -1.4M59.1 32.2l-2.1 -2.5l.5 -1.9M1 20.6l3.1 -1.7M68.6 49.2l1.9 -2.4M43.4 23.6l2.5 -.1l1.2 .9M72.7 21.3l3.2 -1.2l1.9 .8M43 8.5l1.6 -.1M55 48.9l-2.4 -1.4l-.4 -1.6M6.1 49.6l.1 -3.1M76.9 58.5l1.6 -2.2l1.4 -.9M13.4 21.9l1 -2.2l.4 -1.4M25.7 18.4l1.6 -1.9l1 -1.1" stroke="#d8aef2" stroke-opacity="0.6" stroke-width="2.8"/>
<path d="M55.5 33.5l3 -1M38.8 17.6l-1 -1M73 46l2.8 0l1.1 -1.3M66.1 9.2l3 -.8l1.4 1.1M6.1 56l3 -1.7l.9 -1.9M56.8 6l-.2 -2.3M22.8 28.8l2.7 -1.7M8.6 16.5l1.4 -.7M44.4 43.1l2.8 -1.3M9.7 51.4l-2 -1.6l-.7 -1.4M5.8 40.4l-.7 -1.3" stroke="#d8aef2" stroke-opacity="0.6" stroke-width="3.2"/>
<path d="M9.4 0l-1.9 -1.9M62.5 19.4l.8 -1.2M8.2 46.7l-2.5 -1.2l-.8 -1.5M66.5 38.2l-2 -1.1l-1 -.8M72 57.5l1.7 -1.5l0 -1.4M51.4 17.2l-.8 -.9M18.3 7.6l-.7 -1.2M34.4 16.5l1.7 -1.2M45.2 53.5l-.2 -2.4l.4 -1.4M7.3 55.1l1.4 -.7M57.6 52.1l3.4 .9M.7 55.9l1.4 -2.4" stroke="#ae68e4" stroke-opacity="0.8" stroke-width="1.2"/>
<path d="M48 23.8l-1.5 -1.1M53.7 31.6l3 -.2M52.1 21.9l-.4 -1.5M11.9 7.5l2.1 -2.7l2 -.7M10 55.4l-.7 -.8M64.7 1.6l2.8 -.9l1.7 .4M24.3 40.4l2.7 .1M11.7 4.7l.2 -1.7M77 46.7l1.2 0M64.7 39.6l1.1 -.8M9 2.8l-2.3 -1.3M63.5 3.4l1.4 -1.8M10.8 20.8l.9 -1.7M74.3 54.8l1 -1.9M57.5 4.6l-.8 -.8M12.4 1l-2 -1.6l-1.1 -1M72.3 36.2l1.1 -1.5M70.3 30.1l3 -1.9l.5 -2.1M2.2 12.4l-1.8 -1.6l-1.1 -.9M64.4 17.7l.3 -3.1l1.5 -1.1M16.8 13.4l-.9 -1.5M7.9 46.7l1.9 .4M33.8 29.4l.5 -.9M40.8 48.8l.2 -1.2M38.5 13.9l-.7 -.8M7.4 11.8l-1.3 -.8M13.6 16.6l2.7 -.6l1.3 1.1M16.8 16.8l-.3 -2.8l.7 -1.5M72.3 18.2l-.3 -2.1M7.6 52.4l1.8 -2.3l.1 -1.8M5 14.8l.4 -1M62 17.2l2.6 -2.4l.4 -2.1M70.9 35.9l-1.2 -2l0 -1.4M39.1 29.5l.5 -2.6l-.5 -1.5M56.5 22.5l.5 -.9M62.6 51.3l-.9 -.9M53.3 58l-1.9 -2l-1.6 .1M6.7 42.8l-1.1 -2M30.6 49.8l-1.2 -2.4l-1.3 -1M11.7 1.7l-.6 -1.9M65.8 2.8l1.8 -.3M27.4 14.5l-.3 -3.1M12.8 53.1l-.3 -2.3l0 -1.4M56.6 43.3l-1 -1.3M67 32.1l2.8 .6M8 20.6l1.1 0" stroke="#ae68e4" stroke-opacity="0.8" stroke-width="1.6"/>
<path d="M38.6 42.6l1.2 .2M62.2 15.1l1 .3M57.7 32.8l-2 -1.2l-1.3 -.4M53.6 24.5l-.7 -1.4M29.7 12l-1.9 -2.1l-1.3 -1.1M53.9 35.6l-2.2 -1l-1.4 -.2M47.2 43.8l1.5 -3.1l.4 -2M45.4 9.5l3.3 0l1.9 .6M65.7 57.6l-.2 -3.2l1.1 -1.6M19 51.6l2.6 -.2l1.3 -.9M38.8 1.4l-1.7 -3M65.3 41.2l2.1 -2.9l.4 -2.1M64.1 31.1l.9 -2.8l-.6 -1.7M.2 31.2l-1.3 -.8M62.3 41l.1 -2M2.4 54.1l1 -2.1M3.7 37.6l1.4 -.6M67.4 37.4l-1 -3M45.4 7.1l-1.4 -.7M41 41.4l2.9 -.6M4.5 14l1.1 -1.6M64.6 19l-.9 -.7M2.4 32l2.3 0M74.3 35.7l-1.1 -2M51.3 54.3l1.7 -2.1l.6 -1.5M65.2 42l2.6 -2.2M57.9 5.8l.7 -1.3M76.9 6.9l.8 -1.7M12.6 8.1l-1 -.8M73.6 14l2.6 -1.7M61.4 19.4l2.2 -1.2M15.1 29.9l-1.2 -1.4M71.6 34.3l1.8 -.6M61.7 42.8l.3 -1.2M20.6 30.6l.4 -1.9M39 32.7l1 -2.6l.4 -1.6M53.9 16.5l.2 -3.1M47.4 20l1.6 -2.2l.3 -1.6M38.9 10.4l.4 -1M45.3 2.7l2.1 -1l1.4 0" stroke="#ae68e4" stroke-opacity="0.8" stroke-width="2.0"/>
<path d="M53.7 5.8l-.5 -3M26.6 18l-2 -1l-1.3 -.1M4.5 43.9l-1.6 -1.6l0 -1.3M39.3 47.4l-2.1 -1.3M2.9 51.8l-.6 -1M15.2 10.7l1.4 -1.6M40.8 34.1l2.1 -.1M20.5 36.9l-1.6 -.9M53.9 9.5l1.3 -.7M48.3 32.3l.5 -1.7M5.8 48.5l-1.6 -2.3M73.3 10l-.8 -2.9l-1.3 -1.3M56.2 36.3l-2.6 -1.4l-1.3 -1.2M46.1 34.1l.9 -3.3l1.5 -1.4M.6 42.9l-.1 -2.4M55.3 43.2l.1 -1.4M43.3 19.1l1 -2.6M8.4 42.7l.9 -.4M59.1 33.2l1.2 -2.3M64.1 48.3l1 .2M66 10.8l-2.2 -2.8M54.8 41.6l-.1 -2.5l-.6 -1.4M36.5 9l-1.5 -2.7l-.3 -1.8M65.7 9.7l-1 -2.5M18.7 36.6l-.3 -1.9M25.9 39.6l-.7 -1.6M7.2 55.6l1.5 -.2M66.5 33.7l1.4 .2M61.7 44.7l3.1 -1.5l2.1 0M40 54.2l2.8 .7M73.8 18.7l2.4 -1.2M66.9 41.8l1.4 -2.7l.4 -1.8M64.4 42.3l1 -2.4l1.3 -.8M2.6 49.3l-.6 -3.3M17.6 51.3l-1 -3.2l.6 -1.9M2 44.6l3.4 .3M42.8 49.6l-2.7 -1.4" stroke="#ae68e4" stroke-opacity="0.8" stroke-width="2.4"/>
<path d="M67.5 37.4l-.4 -.9M68.6 9.6l-2.2 -1.1l-.3 -1.5M56.9 47l1.4 -.2M60.9 31.8l-.8 -2.3M59.2 6.8l.7 -2M55.3 5.5l1.4 0M72.4 17l1.6 .1M5 27.6l.4 -.8M18.8 6.3l-.1 -2M16.2 44.4l1.8 -.7M43.9 34.3l2.2 -1.4M72.3 54.4l-1 -.9M37.5 13.5l-.9 -1.7M53.9 33.4l1.1 -.8M76.6 2.3l-1.4 -2l-.5 -1.4M6.2 42.7l1 -1.4M59.4 22.4l1.1 -.6M13.6 41.2l2.3 .4" stroke="#8a40d8" stroke-opacity="0.8" stroke-width="1.2"/>
<path d="M58.9 4.1l-.1 -2M49.3 39.2l1.2 -1.5M16.4 .4l1.7 -1.8l.7 -1.3M20 51.6l0 -1M54.8 41.1l-.7 -1.1M10.5 9.6l2.1 -.2M46.1 40.9l1.2 -.1M75.3 12.3l-.4 -1.9M56.8 25.8l-1 -1.9l-1 -.9M34.7 25l.6 -1.3M14.3 55.7l1.8 -1.8M71 54.5l-.5 -1.4M50.1 27.7l.4 -1.5M43.7 42.8l1.1 -1.3M46.1 43.2l1.7 .2M4 36l-1 -.6M73.5 57.2l-.3 -2M32.4 53.5l1.4 -.4M12.7 43.6l-.7 -.5M65.8 49.5l.9 -2.1M34.5 42.2l.7 -.9M39.9 19l-.4 -1M11.3 55.7l2.4 -.1l1.3 .7" stroke="#8a40d8" stroke-opacity="0.8" stroke-width="1.6"/>
<path d="M14.6 53.7l.2 -2.2l.9 -1M17.6 56.5l-.2 -1.5M47.1 17.2l-.7 -1M32.4 33.6l-.1 -1.9M62.2 11.4l.8 .1M64.3 17.7l1.8 .2M50.2 23.7l-.4 -1.6M71.3 6.8l2 .2M51.1 48.1l.3 -1.5M60.6 40.1l1.8 -.7M55.5 30.7l-1.8 -1M1.4 30.1l.5 -1.8M37 47.8l1.7 .4M31.9 19.5l-.9 -2.4M52.4 46.8l2 -.5M63.3 15.9l.1 -1.1M46.5 38.3l2.1 -.6M22.3 11.1l-1 -2.4l-.6 -1.4M19.6 20.7l.5 -1" stroke="#8a40d8" stroke-opacity="0.8" stroke-width="2.0"/>
<path d="M59.4 33.6l.7 .3M37.6 36.4l-.1 .6M46.3 30l-.6 -.6M39.7 21.8l-1.2 .2M70 55.4l-.3 -.7M4 48.2l1.4 .5M74.5 1l-.4 .2M36.9 54.3l.6 -.2M53.6 44.5l0 -.8M71.9 28.5l-.4 -.4" stroke="#6028c4" stroke-opacity="0.85" stroke-width="1.2"/>
<path d="M61.9 40.1l1 0M40.2 43.6l1.3 -.8M3.8 33.8l1.3 -.6M78.2 41.9l-.5 .3" stroke="#6028c4" stroke-opacity="0.85" stroke-width="1.6"/>
</g></g>
<defs><clipPath id="mc11"><rect x="0" y="0" width="78.2" height="58.8"/></clipPath></defs>
<g transform="translate(836.0,128.8)" clip-path="url(#mc11)"><rect width="78.2" height="58.8" fill="#fff7fe"/><g filter="url(#mb)" stroke-linecap="round" stroke-linejoin="round" fill="none">
<path d="M39.6 33.8l2.3 .5M63.1 6.4l1.4 -2.4l-.4 -1.6M30 58.2l.9 -1.8" stroke="#d070e8" stroke-opacity="0.85" stroke-width="1.2"/>
<path d="M62 26.6l2.6 .8l1.5 -.6M65.6 17.4l1 -3.6M70.3 19.5l-.8 -2.7M61.1 2.9l2 -2.1M6.5 7.5l-.3 -1.6M67 22.7l3.2 .2M55.2 56.7l-2.8 -1.4l-1 -1.6" stroke="#d070e8" stroke-opacity="0.85" stroke-width="1.6"/>
<path d="M3 40.9l.8 -1.6M29.4 5.6l1 -2.6M45.7 54.8l3.2 .2M75.8 32.5l.6 -1.6M74.7 42.1l-1.4 -.7M26.4 42.2l-2.3 -1.4M31.6 40.3l2.6 -1.3" stroke="#d070e8" stroke-opacity="0.85" stroke-width="2.0"/>
<path d="M42.8 44.4l2.5 -.5M76.4 7.3l-3.1 -1.2M25.6 20.4l1.8 -.4" stroke="#d070e8" stroke-opacity="0.85" stroke-width="2.4"/>
<path d="M67.3 55.9l.1 1.2M59.8 9.1l.1 -.4M23.2 20.1l.1 1" stroke="#a82cd0" stroke-opacity="0.9" stroke-width="2.0"/>
<path d="M48.7 11.8l-1 .1M15.6 2.6l.2 -.7M50.6 4.3l-.9 1.1M3.8 10.7l-.4 -1.6M20.4 29.4l-.7 1.5" stroke="#a82cd0" stroke-opacity="0.9" stroke-width="2.4"/>
<path d="M25.7 15.4l.5 -.3M57.1 27.9l.3 1.3M23.4 28.3l-.9 -.5M42.9 49.7l.2 -1.2M47.4 1.5l-.4 -.4M70.7 52.5l-.7 -.1M57.1 30.4l.8 .1M62.9 21.1l-.2 -.9M35 18.2l-.1 1.5M29.3 58.5l.6 -.4" stroke="#a82cd0" stroke-opacity="0.9" stroke-width="2.8"/>
<path d="M2.1 32.1l1.3 -.1M45 12.6l1.1 -1.3M14 55.2l.3 -1.2M68.9 49.5l-.7 .8" stroke="#a82cd0" stroke-opacity="0.9" stroke-width="3.2"/>
<path d="M42.5 28.2l.6 .7M25.9 2.5l-.5 -.8M49.2 12.1l.8 .5M19.1 45.5l-.3 .2M65.1 28.5l-.1 -.3" stroke="#f2ccf4" stroke-opacity="0.7" stroke-width="0.8"/>
<path d="M24.1 44.5l-.3 .4M30.7 22.1l.6 .2M50.7 6.3l.8 .1M22.5 39.2l.1 -.4M49.6 4.9l-.8 -.4M5.6 51.4l-.3 -.7M17.6 16.4l-.2 -.7M25.1 47l.4 -.4M51.9 27l-.2 .7" stroke="#f2ccf4" stroke-opacity="0.7" stroke-width="1.2"/>
</g></g>
<path d="M206.4 274.3666666666667V271.66266666666667M201.3 271.66266666666667H211.5" stroke="#000" stroke-width="1.2" fill="none"/>
<rect x="197.2" y="274.8666666666667" width="18.4" height="89.63333333333333" fill="#000" stroke="#808080" stroke-width="1.8"/>
<path d="M233.8 305.91333333333336V299.60400000000004M228.70000000000002 299.60400000000004H238.9" stroke="#000" stroke-width="1.2" fill="none"/>
<rect x="224.6" y="306.41333333333336" width="18.4" height="58.086666666666645" fill="#000" stroke="#808080" stroke-width="1.8"/>
<text x="233.8" y="299.90400000000005" font-size="11.5" font-weight="normal" text-anchor="middle" fill="#50505c">*</text>
<path d="M260.9 332.052V330.4296M255.79999999999998 330.4296H266.0" stroke="#000" stroke-width="1.2" fill="none"/>
<rect x="251.7" y="332.552" width="18.4" height="31.94799999999998" fill="#000" stroke="#808080" stroke-width="1.8"/>
<text x="260.9" y="330.7296" font-size="11.5" font-weight="normal" text-anchor="middle" fill="#50505c">**</text>
<path d="M306.5 274.3666666666667V259.49466666666666M301.4 259.49466666666666H311.6" stroke="#000" stroke-width="1.2" fill="none"/>
<rect x="297.3" y="274.8666666666667" width="18.4" height="89.63333333333333" fill="#8c8c8e" stroke="#a6a6a8" stroke-width="1.8"/>
<path d="M333.9 318.0813333333333V314.476M328.79999999999995 314.476H339.0" stroke="#000" stroke-width="1.2" fill="none"/>
<rect x="324.7" y="318.5813333333333" width="18.4" height="45.918666666666695" fill="#8c8c8e" stroke="#a6a6a8" stroke-width="1.8"/>
<text x="333.9" y="314.776" font-size="11.5" font-weight="normal" text-anchor="middle" fill="#50505c">**</text>
<path d="M361.2 334.756V331.15066666666667M356.09999999999997 331.15066666666667H366.3" stroke="#000" stroke-width="1.2" fill="none"/>
<rect x="352.0" y="335.256" width="18.4" height="29.244000000000028" fill="#8c8c8e" stroke="#a6a6a8" stroke-width="1.8"/>
<text x="361.2" y="331.4506666666667" font-size="11.5" font-weight="normal" text-anchor="middle" fill="#50505c">**</text>
<path d="M184.2 228.70000000000002V364.5M177.39999999999998 364.5H383.7" stroke="#000" stroke-width="2" fill="none"/>
<path d="M177.39999999999998 364.5H184.2" stroke="#000" stroke-width="1.8"/>
<text x="175.2" y="367.9" font-size="9.7" font-weight="normal" text-anchor="end" >0.0</text>
<path d="M177.39999999999998 319.43333333333334H184.2" stroke="#000" stroke-width="1.8"/>
<text x="175.2" y="322.8333333333333" font-size="9.7" font-weight="normal" text-anchor="end" >0.5</text>
<path d="M177.39999999999998 274.3666666666667H184.2" stroke="#000" stroke-width="1.8"/>
<text x="175.2" y="277.76666666666665" font-size="9.7" font-weight="normal" text-anchor="end" >1.0</text>
<path d="M177.39999999999998 229.3H184.2" stroke="#000" stroke-width="1.8"/>
<text x="175.2" y="232.70000000000002" font-size="9.7" font-weight="normal" text-anchor="end" >1.5</text>
<path d="M206.4 364.5V369.1" stroke="#000" stroke-width="1.7"/>
<text x="206.4" y="380.2" font-size="9.8" font-weight="normal" text-anchor="middle" >NC</text>
<path d="M233.8 364.5V369.1" stroke="#000" stroke-width="1.7"/>
<text x="233.8" y="380.2" font-size="9.8" font-weight="normal" text-anchor="middle" >S1</text>
<path d="M260.9 364.5V369.1" stroke="#000" stroke-width="1.7"/>
<text x="260.9" y="380.2" font-size="9.8" font-weight="normal" text-anchor="middle" >S2</text>
<path d="M306.5 364.5V369.1" stroke="#000" stroke-width="1.7"/>
<text x="306.5" y="380.2" font-size="9.8" font-weight="normal" text-anchor="middle" >NC</text>
<path d="M333.9 364.5V369.1" stroke="#000" stroke-width="1.7"/>
<text x="333.9" y="380.2" font-size="9.8" font-weight="normal" text-anchor="middle" >S1</text>
<path d="M361.2 364.5V369.1" stroke="#000" stroke-width="1.7"/>
<text x="361.2" y="380.2" font-size="9.8" font-weight="normal" text-anchor="middle" >S2</text>
<text transform="translate(139.4,296.3) rotate(-90)" font-size="13.4" font-weight="bold" text-anchor="middle">Relative</text>
<text transform="translate(155.2,296.3) rotate(-90)" font-size="13.4" font-weight="bold" text-anchor="middle">colony number</text>
<path d="M476.0 274.3666666666667V267.6066666666667M470.9 267.6066666666667H481.1" stroke="#000" stroke-width="1.2" fill="none"/>
<rect x="466.8" y="274.8666666666667" width="18.4" height="89.63333333333333" fill="#000" stroke="#808080" stroke-width="1.8"/>
<path d="M503.0 340.164V338.812M497.9 338.812H508.1" stroke="#000" stroke-width="1.2" fill="none"/>
<rect x="493.8" y="340.664" width="18.4" height="23.836000000000013" fill="#000" stroke="#808080" stroke-width="1.8"/>
<text x="503.0" y="339.112" font-size="11.5" font-weight="normal" text-anchor="middle" fill="#50505c">***</text>
<path d="M530.2 339.7133333333333V336.108M525.1 336.108H535.3000000000001" stroke="#000" stroke-width="1.2" fill="none"/>
<rect x="521.0" y="340.2133333333333" width="18.4" height="24.28666666666669" fill="#000" stroke="#808080" stroke-width="1.8"/>
<text x="530.2" y="336.408" font-size="11.5" font-weight="normal" text-anchor="middle" fill="#50505c">***</text>
<path d="M575.8 274.3666666666667V267.156M570.6999999999999 267.156H580.9" stroke="#000" stroke-width="1.2" fill="none"/>
<rect x="566.6" y="274.8666666666667" width="18.4" height="89.63333333333333" fill="#8c8c8e" stroke="#a6a6a8" stroke-width="1.8"/>
<path d="M603.0 315.37733333333335V307.716M597.9 307.716H608.1" stroke="#000" stroke-width="1.2" fill="none"/>
<rect x="593.8" y="315.87733333333335" width="18.4" height="48.622666666666646" fill="#8c8c8e" stroke="#a6a6a8" stroke-width="1.8"/>
<text x="603.0" y="308.016" font-size="11.5" font-weight="normal" text-anchor="middle" fill="#50505c">**</text>
<path d="M630.2 357.28933333333333V356.388M625.1 356.388H635.3000000000001" stroke="#000" stroke-width="1.2" fill="none"/>
<rect x="621.0" y="357.78933333333333" width="18.4" height="6.710666666666668" fill="#8c8c8e" stroke="#a6a6a8" stroke-width="1.8"/>
<text x="630.2" y="356.688" font-size="11.5" font-weight="normal" text-anchor="middle" fill="#50505c">***</text>
<path d="M453.2 228.70000000000002V364.5M446.4 364.5H652.7" stroke="#000" stroke-width="2" fill="none"/>
<path d="M446.4 364.5H453.2" stroke="#000" stroke-width="1.8"/>
<text x="444.2" y="367.9" font-size="9.7" font-weight="normal" text-anchor="end" >0.0</text>
<path d="M446.4 319.43333333333334H453.2" stroke="#000" stroke-width="1.8"/>
<text x="444.2" y="322.8333333333333" font-size="9.7" font-weight="normal" text-anchor="end" >0.5</text>
<path d="M446.4 274.3666666666667H453.2" stroke="#000" stroke-width="1.8"/>
<text x="444.2" y="277.76666666666665" font-size="9.7" font-weight="normal" text-anchor="end" >1.0</text>
<path d="M446.4 229.3H453.2" stroke="#000" stroke-width="1.8"/>
<text x="444.2" y="232.70000000000002" font-size="9.7" font-weight="normal" text-anchor="end" >1.5</text>
<path d="M476.0 364.5V369.1" stroke="#000" stroke-width="1.7"/>
<text x="476.0" y="380.2" font-size="9.8" font-weight="normal" text-anchor="middle" >NC</text>
<path d="M503.0 364.5V369.1" stroke="#000" stroke-width="1.7"/>
<text x="503.0" y="380.2" font-size="9.8" font-weight="normal" text-anchor="middle" >S1</text>
<path d="M530.2 364.5V369.1" stroke="#000" stroke-width="1.7"/>
<text x="530.2" y="380.2" font-size="9.8" font-weight="normal" text-anchor="middle" >S2</text>
<path d="M575.8 364.5V369.1" stroke="#000" stroke-width="1.7"/>
<text x="575.8" y="380.2" font-size="9.8" font-weight="normal" text-anchor="middle" >NC</text>
<path d="M603.0 364.5V369.1" stroke="#000" stroke-width="1.7"/>
<text x="603.0" y="380.2" font-size="9.8" font-weight="normal" text-anchor="middle" >S1</text>
<path d="M630.2 364.5V369.1" stroke="#000" stroke-width="1.7"/>
<text x="630.2" y="380.2" font-size="9.8" font-weight="normal" text-anchor="middle" >S2</text>
<text transform="translate(408.4,296.3) rotate(-90)" font-size="13.4" font-weight="bold" text-anchor="middle">Relative</text>
<text transform="translate(424.2,296.3) rotate(-90)" font-size="13.4" font-weight="bold" text-anchor="middle">cell number</text>
<path d="M745.0 274.3666666666667V261.2973333333333M739.9 261.2973333333333H750.1" stroke="#000" stroke-width="1.2" fill="none"/>
<rect x="735.8" y="274.8666666666667" width="18.4" height="89.63333333333333" fill="#000" stroke="#808080" stroke-width="1.8"/>
<path d="M772.0 346.924V345.3016M766.9 345.3016H777.1" stroke="#000" stroke-width="1.2" fill="none"/>
<rect x="762.8" y="347.424" width="18.4" height="17.076000000000022" fill="#000" stroke="#808080" stroke-width="1.8"/>
<text x="772.0" y="345.6016" font-size="11.5" font-weight="normal" text-anchor="middle" fill="#50505c">***</text>
<path d="M799.0 350.07866666666666V348.5464M793.9 348.5464H804.1" stroke="#000" stroke-width="1.2" fill="none"/>
<rect x="789.8" y="350.57866666666666" width="18.4" height="13.921333333333337" fill="#000" stroke="#808080" stroke-width="1.8"/>
<text x="799.0" y="348.8464" font-size="11.5" font-weight="normal" text-anchor="middle" fill="#50505c">***</text>
<path d="M845.0 274.3666666666667V269.86M839.9 269.86H850.1" stroke="#000" stroke-width="1.2" fill="none"/>
<rect x="835.8" y="274.8666666666667" width="18.4" height="89.63333333333333" fill="#8c8c8e" stroke="#a6a6a8" stroke-width="1.8"/>
<path d="M872.0 317.18V315.5576M866.9 315.5576H877.1" stroke="#000" stroke-width="1.2" fill="none"/>
<rect x="862.8" y="317.68" width="18.4" height="46.81999999999999" fill="#8c8c8e" stroke="#a6a6a8" stroke-width="1.8"/>
<text x="872.0" y="315.8576" font-size="11.5" font-weight="normal" text-anchor="middle" fill="#50505c">**</text>
<path d="M899.2 349.1773333333333V344.22M894.1 344.22H904.3000000000001" stroke="#000" stroke-width="1.2" fill="none"/>
<rect x="890.0" y="349.6773333333333" width="18.4" height="14.822666666666692" fill="#8c8c8e" stroke="#a6a6a8" stroke-width="1.8"/>
<text x="899.2" y="344.52000000000004" font-size="11.5" font-weight="normal" text-anchor="middle" fill="#50505c">***</text>
<path d="M722.3 228.70000000000002V364.5M715.5 364.5H921.7" stroke="#000" stroke-width="2" fill="none"/>
<path d="M715.5 364.5H722.3" stroke="#000" stroke-width="1.8"/>
<text x="713.3" y="367.9" font-size="9.7" font-weight="normal" text-anchor="end" >0.0</text>
<path d="M715.5 319.43333333333334H722.3" stroke="#000" stroke-width="1.8"/>
<text x="713.3" y="322.8333333333333" font-size="9.7" font-weight="normal" text-anchor="end" >0.5</text>
<path d="M715.5 274.3666666666667H722.3" stroke="#000" stroke-width="1.8"/>
<text x="713.3" y="277.76666666666665" font-size="9.7" font-weight="normal" text-anchor="end" >1.0</text>
<path d="M715.5 229.3H722.3" stroke="#000" stroke-width="1.8"/>
<text x="713.3" y="232.70000000000002" font-size="9.7" font-weight="normal" text-anchor="end" >1.5</text>
<path d="M745.0 364.5V369.1" stroke="#000" stroke-width="1.7"/>
<text x="745.0" y="380.2" font-size="9.8" font-weight="normal" text-anchor="middle" >NC</text>
<path d="M772.0 364.5V369.1" stroke="#000" stroke-width="1.7"/>
<text x="772.0" y="380.2" font-size="9.8" font-weight="normal" text-anchor="middle" >S1</text>
<path d="M799.0 364.5V369.1" stroke="#000" stroke-width="1.7"/>
<text x="799.0" y="380.2" font-size="9.8" font-weight="normal" text-anchor="middle" >S2</text>
<path d="M845.0 364.5V369.1" stroke="#000" stroke-width="1.7"/>
<text x="845.0" y="380.2" font-size="9.8" font-weight="normal" text-anchor="middle" >NC</text>
<path d="M872.0 364.5V369.1" stroke="#000" stroke-width="1.7"/>
<text x="872.0" y="380.2" font-size="9.8" font-weight="normal" text-anchor="middle" >S1</text>
<path d="M899.2 364.5V369.1" stroke="#000" stroke-width="1.7"/>
<text x="899.2" y="380.2" font-size="9.8" font-weight="normal" text-anchor="middle" >S2</text>
<text transform="translate(677.0,296.3) rotate(-90)" font-size="13.4" font-weight="bold" text-anchor="middle">Relative</text>
<text transform="translate(692.8,296.3) rotate(-90)" font-size="13.4" font-weight="bold" text-anchor="middle">cell number</text>
<rect x="470.5" y="392.5" width="109" height="19" fill="#fff" stroke="#000" stroke-width="1.1"/>
<rect x="475.8" y="398.8" width="10.5" height="6.8" fill="#000" stroke="#6e6e6e" stroke-width="1.2"/>
<text x="490.0" y="405.8" font-size="10.1" font-weight="normal" text-anchor="start" >KTC-1</text>
<rect x="525.8" y="398.8" width="10.5" height="6.8" fill="#8c8c8e" stroke="#a6a6a8" stroke-width="1.2"/>
<text x="540.2" y="405.8" font-size="10.2" font-weight="normal" text-anchor="start" >BCPAP</text>
<path d="M319.4 599.0L368.1 560.8L416.8 514.7L465.4 489.5" stroke="#000" stroke-width="2.3" fill="none" stroke-linejoin="round"/>
<circle cx="319.4" cy="599.0" r="3.40" fill="#000"/>
<circle cx="368.1" cy="560.8" r="3.40" fill="#000"/>
<circle cx="416.8" cy="514.7" r="3.40" fill="#000"/>
<circle cx="465.4" cy="489.5" r="3.40" fill="#000"/>
<circle cx="368.1" cy="562.6" r="3.40" fill="#000"/>
<circle cx="368.1" cy="559.0" r="3.40" fill="#000"/>
<circle cx="465.4" cy="491.3" r="3.40" fill="#000"/>
<circle cx="465.4" cy="487.6" r="3.40" fill="#000"/>
<circle cx="416.8" cy="514.2" r="3.40" fill="#000"/>
<circle cx="416.8" cy="515.3" r="3.40" fill="#000"/>
<path d="M319.4 599.0L368.1 579.9L416.8 561.0L465.4 553.0" stroke="#000" stroke-width="2.3" fill="none" stroke-linejoin="round"/>
<rect x="316.00" y="595.80" width="6.80" height="6.40" fill="#000"/>
<rect x="364.70" y="576.70" width="6.80" height="6.40" fill="#000"/>
<rect x="413.40" y="557.80" width="6.80" height="6.40" fill="#000"/>
<rect x="462.00" y="549.80" width="6.80" height="6.40" fill="#000"/>
<rect x="364.70" y="579.50" width="6.80" height="6.40" fill="#000"/>
<rect x="364.70" y="574.20" width="6.80" height="6.40" fill="#000"/>
<rect x="413.40" y="554.60" width="6.80" height="6.40" fill="#000"/>
<rect x="413.40" y="561.10" width="6.80" height="6.40" fill="#000"/>
<rect x="462.00" y="548.50" width="6.80" height="6.40" fill="#000"/>
<rect x="462.00" y="551.30" width="6.80" height="6.40" fill="#000"/>
<path d="M319.4 599.0L368.1 594.1L416.8 587.2L465.4 579.4" stroke="#000" stroke-width="2.3" fill="none" stroke-linejoin="round"/>
<path d="M319.4 594.70L323.30 602.00H315.50Z" fill="#000"/>
<path d="M368.1 589.80L372.00 597.10H364.20Z" fill="#000"/>
<path d="M416.8 582.90L420.70 590.20H412.90Z" fill="#000"/>
<path d="M465.4 575.10L469.30 582.40H461.50Z" fill="#000"/>
<path d="M465.4 578.40L469.30 585.70H461.50Z" fill="#000"/>
<path d="M465.4 572.70L469.30 580.00H461.50Z" fill="#000"/>
<path d="M416.8 581.50L420.70 588.80H412.90Z" fill="#000"/>
<text x="367.9" y="556.1" font-size="11.5" font-weight="normal" text-anchor="middle" fill="#50505c">**</text>
<text x="416.7" y="511.4" font-size="11.5" font-weight="normal" text-anchor="middle" fill="#50505c">***</text>
<text x="465.7" y="485.6" font-size="11.5" font-weight="normal" text-anchor="middle" fill="#50505c">***</text>
<path d="M270.8 444.2V608.0M264.6 608.0H514.8499999999999" stroke="#000" stroke-width="2.3" fill="none"/>
<path d="M264.6 608.0H270.8" stroke="#000" stroke-width="1.9"/>
<text x="261.40000000000003" y="611.4" font-size="9.7" font-weight="normal" text-anchor="end" >0.0</text>
<path d="M264.6 567.2H270.8" stroke="#000" stroke-width="1.9"/>
<text x="261.40000000000003" y="570.6" font-size="9.7" font-weight="normal" text-anchor="end" >0.5</text>
<path d="M264.6 526.4H270.8" stroke="#000" stroke-width="1.9"/>
<text x="261.40000000000003" y="529.8" font-size="9.7" font-weight="normal" text-anchor="end" >1.0</text>
<path d="M264.6 485.6H270.8" stroke="#000" stroke-width="1.9"/>
<text x="261.40000000000003" y="489.0" font-size="9.7" font-weight="normal" text-anchor="end" >1.5</text>
<path d="M264.6 444.8H270.8" stroke="#000" stroke-width="1.9"/>
<text x="261.40000000000003" y="448.2" font-size="9.7" font-weight="normal" text-anchor="end" >2.0</text>
<path d="M270.8 608.0V615.0" stroke="#000" stroke-width="2.2"/>
<text x="270.8" y="625.0" font-size="10.1" font-weight="normal" text-anchor="middle" >0</text>
<path d="M319.45 608.0V615.0" stroke="#000" stroke-width="2.2"/>
<text x="319.45" y="625.0" font-size="10.1" font-weight="normal" text-anchor="middle" >1</text>
<path d="M368.1 608.0V615.0" stroke="#000" stroke-width="2.2"/>
<text x="368.1" y="625.0" font-size="10.1" font-weight="normal" text-anchor="middle" >2</text>
<path d="M416.75 608.0V615.0" stroke="#000" stroke-width="2.2"/>
<text x="416.75" y="625.0" font-size="10.1" font-weight="normal" text-anchor="middle" >3</text>
<path d="M465.4 608.0V615.0" stroke="#000" stroke-width="2.2"/>
<text x="465.4" y="625.0" font-size="10.1" font-weight="normal" text-anchor="middle" >4</text>
<path d="M514.05 608.0V615.0" stroke="#000" stroke-width="2.2"/>
<text x="514.05" y="625.0" font-size="10.1" font-weight="normal" text-anchor="middle" >5</text>
<text x="392.5" y="439.9" font-size="13.5" font-weight="normal" text-anchor="middle" stroke="#000" stroke-width="0.42">KTC-1</text>
<text x="392.8" y="641.8" font-size="13.4" font-weight="bold" text-anchor="middle" >Days</text>
<text transform="translate(225.4,526.5) rotate(-90)" font-size="13.4" font-weight="bold" text-anchor="middle">Cell proliferation</text>
<text transform="translate(241.8,526.5) rotate(-90)" font-size="13.4" font-weight="bold" text-anchor="middle">absorbance</text>
<path d="M619.5 595.8L649.8 591.7L680.1 568.0L710.4 542.7L740.7 501.1L771.0 461.9" stroke="#000" stroke-width="2.3" fill="none" stroke-linejoin="round"/>
<circle cx="619.5" cy="595.8" r="3.06" fill="#000"/>
<circle cx="649.8" cy="591.7" r="3.06" fill="#000"/>
<circle cx="680.1" cy="568.0" r="3.06" fill="#000"/>
<circle cx="710.4" cy="542.7" r="3.06" fill="#000"/>
<circle cx="740.7" cy="501.1" r="3.06" fill="#000"/>
<circle cx="771.0" cy="461.9" r="3.06" fill="#000"/>
<path d="M619.5 597.4L649.8 596.6L680.1 584.3L710.4 571.3L740.7 539.5L771.0 527.2" stroke="#000" stroke-width="2.3" fill="none" stroke-linejoin="round"/>
<rect x="616.44" y="594.52" width="6.12" height="5.76" fill="#000"/>
<rect x="646.74" y="593.72" width="6.12" height="5.76" fill="#000"/>
<rect x="677.04" y="581.42" width="6.12" height="5.76" fill="#000"/>
<rect x="707.34" y="568.42" width="6.12" height="5.76" fill="#000"/>
<rect x="737.64" y="536.62" width="6.12" height="5.76" fill="#000"/>
<rect x="767.94" y="524.32" width="6.12" height="5.76" fill="#000"/>
<path d="M619.5 597.4L649.8 595.8L680.1 587.6L710.4 577.8L740.7 570.9L771.0 566.4" stroke="#000" stroke-width="2.3" fill="none" stroke-linejoin="round"/>
<path d="M619.5 593.53L623.01 600.10H615.99Z" fill="#000"/>
<path d="M649.8 591.93L653.31 598.50H646.29Z" fill="#000"/>
<path d="M680.1 583.73L683.61 590.30H676.59Z" fill="#000"/>
<path d="M710.4 573.93L713.91 580.50H706.89Z" fill="#000"/>
<path d="M740.7 567.03L744.21 573.60H737.19Z" fill="#000"/>
<path d="M771.0 562.53L774.51 569.10H767.49Z" fill="#000"/>
<text x="679.9" y="565.2" font-size="11.5" font-weight="normal" text-anchor="middle" fill="#50505c">*</text>
<text x="708.3" y="539.5" font-size="11.5" font-weight="normal" text-anchor="middle" fill="#50505c">**</text>
<text x="738.4" y="498.2" font-size="11.5" font-weight="normal" text-anchor="middle" fill="#50505c">***</text>
<text x="771.9" y="459.9" font-size="11.5" font-weight="normal" text-anchor="middle" fill="#50505c">***</text>
<path d="M589.2 444.2V608.0M583.0 608.0H832.4" stroke="#000" stroke-width="2.3" fill="none"/>
<path d="M583.0 608.0H589.2" stroke="#000" stroke-width="1.9"/>
<text x="579.8000000000001" y="611.4" font-size="9.7" font-weight="normal" text-anchor="end" >0.0</text>
<path d="M583.0 567.2H589.2" stroke="#000" stroke-width="1.9"/>
<text x="579.8000000000001" y="570.6" font-size="9.7" font-weight="normal" text-anchor="end" >0.5</text>
<path d="M583.0 526.4H589.2" stroke="#000" stroke-width="1.9"/>
<text x="579.8000000000001" y="529.8" font-size="9.7" font-weight="normal" text-anchor="end" >1.0</text>
<path d="M583.0 485.6H589.2" stroke="#000" stroke-width="1.9"/>
<text x="579.8000000000001" y="489.0" font-size="9.7" font-weight="normal" text-anchor="end" >1.5</text>
<path d="M583.0 444.8H589.2" stroke="#000" stroke-width="1.9"/>
<text x="579.8000000000001" y="448.2" font-size="9.7" font-weight="normal" text-anchor="end" >2.0</text>
<path d="M589.2 608.0V615.0" stroke="#000" stroke-width="2.2"/>
<text x="589.2" y="625.0" font-size="10.1" font-weight="normal" text-anchor="middle" >0</text>
<path d="M649.8000000000001 608.0V615.0" stroke="#000" stroke-width="2.2"/>
<text x="649.8000000000001" y="625.0" font-size="10.1" font-weight="normal" text-anchor="middle" >2</text>
<path d="M710.4000000000001 608.0V615.0" stroke="#000" stroke-width="2.2"/>
<text x="710.4000000000001" y="625.0" font-size="10.1" font-weight="normal" text-anchor="middle" >4</text>
<path d="M771.0 608.0V615.0" stroke="#000" stroke-width="2.2"/>
<text x="771.0" y="625.0" font-size="10.1" font-weight="normal" text-anchor="middle" >6</text>
<path d="M831.6 608.0V615.0" stroke="#000" stroke-width="2.2"/>
<text x="831.6" y="625.0" font-size="10.1" font-weight="normal" text-anchor="middle" >8</text>
<text x="710.6" y="439.9" font-size="13.5" font-weight="normal" text-anchor="middle" stroke="#000" stroke-width="0.42">BCPAP</text>
<text x="710.9" y="641.8" font-size="13.4" font-weight="bold" text-anchor="middle" >Days</text>
<text transform="translate(543.2,526.5) rotate(-90)" font-size="13.4" font-weight="bold" text-anchor="middle">Cell proliferation</text>
<text transform="translate(559.6,526.5) rotate(-90)" font-size="13.4" font-weight="bold" text-anchor="middle">absorbance</text>
<rect x="479.5" y="649.5" width="142" height="19" fill="#fff" stroke="#000" stroke-width="1.1"/>
<path d="M485.2 658.8H501.8" stroke="#000" stroke-width="1.7"/>
<circle cx="493.5" cy="658.8" r="2.79" fill="#000"/>
<text x="505.3" y="663.1" font-size="10.0" font-weight="normal" text-anchor="start" >NC</text>
<path d="M535.2 658.8H551.8000000000001" stroke="#000" stroke-width="1.7"/>
<rect x="540.71" y="656.18" width="5.58" height="5.25" fill="#000"/>
<text x="555.9" y="663.1" font-size="10.0" font-weight="normal" text-anchor="start" >S1</text>
<path d="M584.4 658.8H601.0" stroke="#000" stroke-width="1.7"/>
<path d="M592.6999999999999 655.27L595.90 661.26H589.50Z" fill="#000"/>
<text x="604.2" y="663.1" font-size="10.0" font-weight="normal" text-anchor="start" >S2</text>
</svg>
<div class="cap" id="cap0" style="top:684.7px;letter-spacing:0.009px"><b>Figure 2</b> <i>CUX2</i> knockdown suppressed PTC cell tumorigenesis.</div>
<div class="cap" id="cap1" style="top:697.9px;letter-spacing:0.020px"><b>Notes:</b> (<b>A</b>) Effects of <i>CUX2</i> knockdown on colony formation in BCPAP and KTC-1 cell lines. (<b>D</b>) Shows the mean colony number from all three independent experiments. (<b>B</b> and <b>C</b>) Capacity of migration (<b>B</b>) and invasion (<b>C</b>) of BCPAP</div>
<div class="cap" id="cap2" style="top:711.6px;letter-spacing:0.017px">and KTC-1 cells transfected with siRNA-<i>CUX2</i> and NC. (<b>E</b> and <b>F</b>) Show the mean value of migrating and invading cells from all three independent experiments of cell migration and invasion. (<b>G</b> and <b>H</b>) CCK8 assays were performed to</div>
<div class="cap" id="cap3" style="top:724.7px;letter-spacing:0.149px">demonstrate the proliferation of BCPAP (<b>G</b>) and KTC-1 (<b>H</b>) transfected with CUX2-siRNA and NC. *<i>P</i>&lt;0.05; **<i>P</i>&lt;0.01; ***<i>P</i>&lt;0.001.</div>
<div class="cap" id="cap4" style="top:738.9px;letter-spacing:0.092px"><b>Abbreviations:</b> NC, negative control; PTC, papillary thyroid cancer.</div>
</body></html>
